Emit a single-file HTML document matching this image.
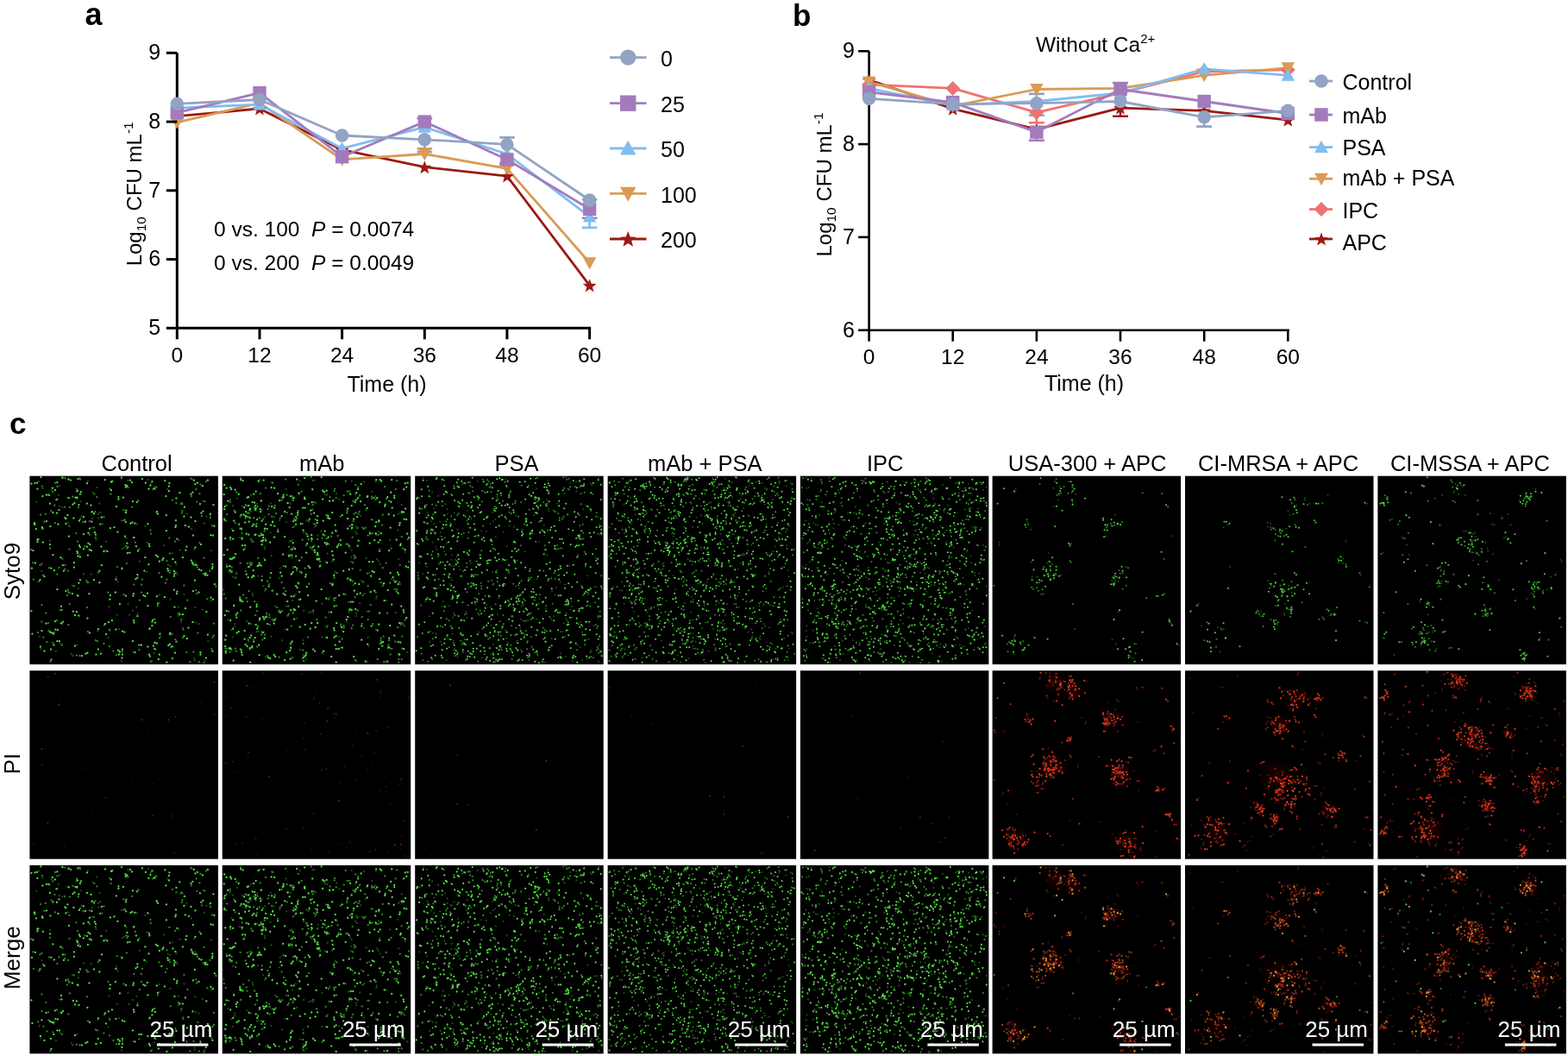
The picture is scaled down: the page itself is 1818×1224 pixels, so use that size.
<!DOCTYPE html><html><head><meta charset="utf-8"><style>html,body{margin:0;padding:0;background:#fff;width:1818px;height:1224px;overflow:hidden}svg{display:block}text{font-family:'Liberation Sans', Arial, Helvetica, sans-serif}</style></head><body>
<svg width="1818" height="1224" viewBox="0 0 1818 1224" font-family="'Liberation Sans', Arial, Helvetica, sans-serif">
<path d="M205.3 61.3V381.8M203.8 380.3H685.1" stroke="#000" stroke-width="3" fill="none"/>
<path d="M683.6 251.1V263.9M674.8 263.9H692.4" stroke="#80bdf0" stroke-width="2.6" fill="none"/>
<path d="M683.6 242.3V252.7M674.8 252.7H692.4" stroke="#a37bbd" stroke-width="2.6" fill="none"/>
<path d="M587.9 167.4V159.4M579.1 159.4H596.7" stroke="#93a3c3" stroke-width="2.6" fill="none"/>
<path d="M587.9 184.9V191.3M579.1 191.3H596.7" stroke="#a37bbd" stroke-width="2.6" fill="none"/>
<path d="M492.3 178.5V172.2M483.5 172.2H501.1" stroke="#d99b55" stroke-width="2.6" fill="none"/>
<path d="M492.3 141.1V137.1M483.5 137.1H501.1" stroke="#a37bbd" stroke-width="2.6" fill="none"/>
<path d="M492.3 161.0V176.1M483.5 176.1H501.1" stroke="#93a3c3" stroke-width="2.6" fill="none"/>
<path d="M587.9 195.3V188.9M579.1 188.9H596.7" stroke="#d99b55" stroke-width="2.6" fill="none"/>
<path d="M683.6 232.0V231.2M674.8 231.2H692.4" stroke="#93a3c3" stroke-width="2.6" fill="none"/>
<polyline points="205.3,134.7 301.0,125.9 396.6,173.7 492.3,193.7 587.9,204.1 683.6,330.9" fill="none" stroke="#9c1a14" stroke-width="2.8" stroke-linejoin="round"/>
<polyline points="205.3,141.8 301.0,119.5 396.6,184.9 492.3,178.5 587.9,195.3 683.6,304.5" fill="none" stroke="#d99b55" stroke-width="2.8" stroke-linejoin="round"/>
<polyline points="205.3,125.1 301.0,121.1 396.6,172.2 492.3,147.4 587.9,178.5 683.6,251.1" fill="none" stroke="#80bdf0" stroke-width="2.8" stroke-linejoin="round"/>
<polyline points="205.3,130.7 301.0,107.6 396.6,181.7 492.3,141.1 587.9,184.9 683.6,242.3" fill="none" stroke="#a37bbd" stroke-width="2.8" stroke-linejoin="round"/>
<polyline points="205.3,120.3 301.0,115.5 396.6,157.0 492.3,161.8 587.9,167.4 683.6,232.0" fill="none" stroke="#93a3c3" stroke-width="2.8" stroke-linejoin="round"/>
<polygon points="205.3,127.2 207.4,132.6 213.2,132.9 208.6,136.5 210.2,142.2 205.3,139.0 200.4,142.2 202.0,136.5 197.4,132.9 203.2,132.6" fill="#9c1a14"/>
<polygon points="301.0,118.4 303.0,123.9 308.9,124.1 304.3,127.8 305.8,133.4 301.0,130.2 296.1,133.4 297.6,127.8 293.1,124.1 298.9,123.9" fill="#9c1a14"/>
<polygon points="396.6,166.2 398.7,171.7 404.5,172.0 399.9,175.6 401.5,181.3 396.6,178.0 391.7,181.3 393.3,175.6 388.7,172.0 394.6,171.7" fill="#9c1a14"/>
<polygon points="492.3,186.2 494.3,191.7 500.2,191.9 495.6,195.6 497.2,201.2 492.3,198.0 487.4,201.2 489.0,195.6 484.4,191.9 490.2,191.7" fill="#9c1a14"/>
<polygon points="587.9,196.5 590.0,202.0 595.8,202.3 591.3,205.9 592.8,211.6 587.9,208.3 583.1,211.6 584.6,205.9 580.0,202.3 585.9,202.0" fill="#9c1a14"/>
<polygon points="683.6,323.3 685.7,328.8 691.5,329.1 686.9,332.7 688.5,338.4 683.6,335.1 678.7,338.4 680.3,332.7 675.7,329.1 681.5,328.8" fill="#9c1a14"/>
<path d="M205.3 149.6L213.0 135.5L197.6 135.5Z" fill="#d99b55"/>
<path d="M301.0 127.3L308.7 113.1L293.3 113.1Z" fill="#d99b55"/>
<path d="M396.6 192.7L404.3 178.5L388.9 178.5Z" fill="#d99b55"/>
<path d="M492.3 186.3L500.0 172.2L484.6 172.2Z" fill="#d99b55"/>
<path d="M587.9 203.1L595.6 188.9L580.2 188.9Z" fill="#d99b55"/>
<path d="M683.6 312.3L691.3 298.2L675.9 298.2Z" fill="#d99b55"/>
<path d="M205.3 117.3L213.0 131.5L197.6 131.5Z" fill="#80bdf0"/>
<path d="M301.0 113.3L308.7 127.5L293.3 127.5Z" fill="#80bdf0"/>
<path d="M396.6 164.4L404.3 178.5L388.9 178.5Z" fill="#80bdf0"/>
<path d="M492.3 139.6L500.0 153.8L484.6 153.8Z" fill="#80bdf0"/>
<path d="M587.9 170.7L595.6 184.9L580.2 184.9Z" fill="#80bdf0"/>
<path d="M683.6 243.3L691.3 257.5L675.9 257.5Z" fill="#80bdf0"/>
<rect x="197.6" y="123.0" width="15.4" height="15.4" fill="#a37bbd"/>
<rect x="293.3" y="99.9" width="15.4" height="15.4" fill="#a37bbd"/>
<rect x="388.9" y="174.0" width="15.4" height="15.4" fill="#a37bbd"/>
<rect x="484.6" y="133.4" width="15.4" height="15.4" fill="#a37bbd"/>
<rect x="580.2" y="177.2" width="15.4" height="15.4" fill="#a37bbd"/>
<rect x="675.9" y="234.6" width="15.4" height="15.4" fill="#a37bbd"/>
<circle cx="205.3" cy="120.3" r="7.7" fill="#93a3c3"/>
<circle cx="301.0" cy="115.5" r="7.7" fill="#93a3c3"/>
<circle cx="396.6" cy="157.0" r="7.7" fill="#93a3c3"/>
<circle cx="492.3" cy="161.8" r="7.7" fill="#93a3c3"/>
<circle cx="587.9" cy="167.4" r="7.7" fill="#93a3c3"/>
<circle cx="683.6" cy="232.0" r="7.7" fill="#93a3c3"/>
<path d="M192.8 61.3H205.3" stroke="#000" stroke-width="3"/>
<text x="186.2" y="69.2" font-size="25" text-anchor="end" font-weight="normal" fill="#000" >9</text>
<path d="M192.8 141.1H205.3" stroke="#000" stroke-width="3"/>
<text x="186.2" y="148.95000000000002" font-size="25" text-anchor="end" font-weight="normal" fill="#000" >8</text>
<path d="M192.8 220.8H205.3" stroke="#000" stroke-width="3"/>
<text x="186.2" y="228.70000000000002" font-size="25" text-anchor="end" font-weight="normal" fill="#000" >7</text>
<path d="M192.8 300.6H205.3" stroke="#000" stroke-width="3"/>
<text x="186.2" y="308.45" font-size="25" text-anchor="end" font-weight="normal" fill="#000" >6</text>
<path d="M192.8 380.3H205.3" stroke="#000" stroke-width="3"/>
<text x="186.2" y="388.2" font-size="25" text-anchor="end" font-weight="normal" fill="#000" >5</text>
<path d="M205.3 380.3V393.3" stroke="#000" stroke-width="3"/>
<text x="205.3" y="420" font-size="24.5" text-anchor="middle" font-weight="normal" fill="#000" >0</text>
<path d="M301.0 380.3V393.3" stroke="#000" stroke-width="3"/>
<text x="301.0" y="420" font-size="24.5" text-anchor="middle" font-weight="normal" fill="#000" >12</text>
<path d="M396.6 380.3V393.3" stroke="#000" stroke-width="3"/>
<text x="396.6" y="420" font-size="24.5" text-anchor="middle" font-weight="normal" fill="#000" >24</text>
<path d="M492.3 380.3V393.3" stroke="#000" stroke-width="3"/>
<text x="492.3" y="420" font-size="24.5" text-anchor="middle" font-weight="normal" fill="#000" >36</text>
<path d="M587.9 380.3V393.3" stroke="#000" stroke-width="3"/>
<text x="587.9" y="420" font-size="24.5" text-anchor="middle" font-weight="normal" fill="#000" >48</text>
<path d="M683.6 380.3V393.3" stroke="#000" stroke-width="3"/>
<text x="683.6" y="420" font-size="24.5" text-anchor="middle" font-weight="normal" fill="#000" >60</text>
<text x="448.5" y="453.5" font-size="25" text-anchor="middle" font-weight="normal" fill="#000" >Time (h)</text>
<text transform="translate(163.5 224.8) rotate(-90)" font-size="24" text-anchor="middle">Log<tspan font-size="15.5" dy="5">10</tspan><tspan dy="-5"> CFU mL</tspan><tspan font-size="15.5" dy="-10">-1</tspan></text>
<text x="248" y="274" font-size="24.5">0 vs. 100&#160; <tspan font-style="italic">P</tspan> = 0.0074</text>
<text x="248" y="313" font-size="24.5">0 vs. 200&#160; <tspan font-style="italic">P</tspan> = 0.0049</text>
<path d="M707 66.6H749.5" stroke="#93a3c3" stroke-width="2.8"/>
<circle cx="728.2" cy="66.6" r="9.2" fill="#93a3c3"/>
<text x="766" y="76.69999999999999" font-size="25" text-anchor="start" font-weight="normal" fill="#000" >0</text>
<path d="M707 119.7H749.5" stroke="#a37bbd" stroke-width="2.8"/>
<rect x="719.0" y="110.5" width="18.4" height="18.4" fill="#a37bbd"/>
<text x="766" y="129.8" font-size="25" text-anchor="start" font-weight="normal" fill="#000" >25</text>
<path d="M707 172H749.5" stroke="#80bdf0" stroke-width="2.8"/>
<path d="M728.2 162.7L737.4 179.6L719.0 179.6Z" fill="#80bdf0"/>
<text x="766" y="182.1" font-size="25" text-anchor="start" font-weight="normal" fill="#000" >50</text>
<path d="M707 224.4H749.5" stroke="#d99b55" stroke-width="2.8"/>
<path d="M728.2 233.7L737.4 216.8L719.0 216.8Z" fill="#d99b55"/>
<text x="766" y="234.5" font-size="25" text-anchor="start" font-weight="normal" fill="#000" >100</text>
<path d="M707 277H749.5" stroke="#9c1a14" stroke-width="2.8"/>
<polygon points="728.2,267.9 730.7,274.4 737.6,274.7 732.2,279.1 734.0,285.8 728.2,282.0 722.4,285.8 724.2,279.1 718.8,274.7 725.7,274.4" fill="#9c1a14"/>
<text x="766" y="287.1" font-size="25" text-anchor="start" font-weight="normal" fill="#000" >200</text>
<text x="98.5" y="29.2" font-size="36" text-anchor="start" font-weight="bold" fill="#000" >a</text>
<path d="M1007.6 59.3V384.2M1006.1 382.7H1494.8" stroke="#000" stroke-width="2.6" fill="none"/>
<path d="M1201.9 153.1V162.8M1192.9 162.8H1210.9" stroke="#a37bbd" stroke-width="2.6" fill="none"/>
<path d="M1201.9 119.7V108.9M1192.9 108.9H1210.9" stroke="#93a3c3" stroke-width="2.6" fill="none"/>
<path d="M1201.9 119.7V133.7M1192.9 133.7H1210.9" stroke="#93a3c3" stroke-width="2.6" fill="none"/>
<path d="M1201.9 130.4V142.3M1192.9 142.3H1210.9" stroke="#ee7370" stroke-width="2.6" fill="none"/>
<path d="M1299.0 125.1V134.8M1290.0 134.8H1308.0" stroke="#9c1a14" stroke-width="2.6" fill="none"/>
<path d="M1396.2 135.8V146.6M1387.2 146.6H1405.2" stroke="#93a3c3" stroke-width="2.6" fill="none"/>
<path d="M1299.0 103.5V96.0M1290.0 96.0H1308.0" stroke="#a37bbd" stroke-width="2.6" fill="none"/>
<path d="M1396.2 87.3V80.9M1387.2 80.9H1405.2" stroke="#d99b55" stroke-width="2.6" fill="none"/>
<polyline points="1007.6,92.7 1104.7,126.1 1201.9,149.9 1299.0,125.1 1396.2,128.3 1493.3,139.1" fill="none" stroke="#9c1a14" stroke-width="2.8" stroke-linejoin="round"/>
<polyline points="1007.6,98.1 1104.7,102.4 1201.9,130.4 1299.0,107.8 1396.2,83.0 1493.3,80.9" fill="none" stroke="#ee7370" stroke-width="2.8" stroke-linejoin="round"/>
<polyline points="1007.6,94.9 1104.7,122.9 1201.9,103.5 1299.0,102.4 1396.2,87.3 1493.3,78.7" fill="none" stroke="#d99b55" stroke-width="2.8" stroke-linejoin="round"/>
<polyline points="1007.6,102.4 1104.7,121.8 1201.9,117.5 1299.0,107.8 1396.2,79.8 1493.3,87.3" fill="none" stroke="#80bdf0" stroke-width="2.8" stroke-linejoin="round"/>
<polyline points="1007.6,106.7 1104.7,118.6 1201.9,153.1 1299.0,103.5 1396.2,117.5 1493.3,131.5" fill="none" stroke="#a37bbd" stroke-width="2.8" stroke-linejoin="round"/>
<polyline points="1007.6,114.3 1104.7,120.7 1201.9,119.7 1299.0,117.5 1396.2,135.8 1493.3,128.3" fill="none" stroke="#93a3c3" stroke-width="2.8" stroke-linejoin="round"/>
<polygon points="1007.6,85.2 1009.7,90.7 1015.5,90.9 1010.9,94.6 1012.5,100.2 1007.6,97.0 1002.7,100.2 1004.3,94.6 999.7,90.9 1005.5,90.7" fill="#9c1a14"/>
<polygon points="1104.7,118.6 1106.8,124.1 1112.6,124.4 1108.1,128.0 1109.6,133.7 1104.7,130.4 1099.9,133.7 1101.4,128.0 1096.8,124.4 1102.7,124.1" fill="#9c1a14"/>
<polygon points="1201.9,142.3 1203.9,147.8 1209.8,148.1 1205.2,151.7 1206.8,157.4 1201.9,154.1 1197.0,157.4 1198.6,151.7 1194.0,148.1 1199.8,147.8" fill="#9c1a14"/>
<polygon points="1299.0,117.5 1301.1,123.0 1306.9,123.3 1302.3,126.9 1303.9,132.6 1299.0,129.4 1294.1,132.6 1295.7,126.9 1291.1,123.3 1297.0,123.0" fill="#9c1a14"/>
<polygon points="1396.2,120.8 1398.2,126.3 1404.1,126.5 1399.5,130.2 1401.0,135.8 1396.2,132.6 1391.3,135.8 1392.8,130.2 1388.3,126.5 1394.1,126.3" fill="#9c1a14"/>
<polygon points="1493.3,131.6 1495.4,137.0 1501.2,137.3 1496.6,141.0 1498.2,146.6 1493.3,143.4 1488.4,146.6 1490.0,141.0 1485.4,137.3 1491.2,137.0" fill="#9c1a14"/>
<path d="M1007.6 89.6L1016.1 98.1L1007.6 106.6L999.1 98.1Z" fill="#ee7370"/>
<path d="M1104.7 94.0L1113.2 102.4L1104.7 110.9L1096.3 102.4Z" fill="#ee7370"/>
<path d="M1201.9 122.0L1210.4 130.4L1201.9 138.9L1193.4 130.4Z" fill="#ee7370"/>
<path d="M1299.0 99.3L1307.5 107.8L1299.0 116.3L1290.5 107.8Z" fill="#ee7370"/>
<path d="M1396.2 74.5L1404.6 83.0L1396.2 91.5L1387.7 83.0Z" fill="#ee7370"/>
<path d="M1493.3 72.4L1501.8 80.9L1493.3 89.3L1484.8 80.9Z" fill="#ee7370"/>
<path d="M1007.6 102.7L1015.3 88.5L999.9 88.5Z" fill="#d99b55"/>
<path d="M1104.7 130.7L1112.4 116.5L1097.0 116.5Z" fill="#d99b55"/>
<path d="M1201.9 111.3L1209.6 97.1L1194.2 97.1Z" fill="#d99b55"/>
<path d="M1299.0 110.2L1306.7 96.0L1291.3 96.0Z" fill="#d99b55"/>
<path d="M1396.2 95.1L1403.9 81.0L1388.5 81.0Z" fill="#d99b55"/>
<path d="M1493.3 86.5L1501.0 72.3L1485.6 72.3Z" fill="#d99b55"/>
<path d="M1007.6 94.6L1015.3 108.8L999.9 108.8Z" fill="#80bdf0"/>
<path d="M1104.7 114.0L1112.4 128.2L1097.0 128.2Z" fill="#80bdf0"/>
<path d="M1201.9 109.7L1209.6 123.9L1194.2 123.9Z" fill="#80bdf0"/>
<path d="M1299.0 100.0L1306.7 114.2L1291.3 114.2Z" fill="#80bdf0"/>
<path d="M1396.2 72.0L1403.9 86.2L1388.5 86.2Z" fill="#80bdf0"/>
<path d="M1493.3 79.5L1501.0 93.7L1485.6 93.7Z" fill="#80bdf0"/>
<rect x="999.9" y="99.0" width="15.4" height="15.4" fill="#a37bbd"/>
<rect x="1097.0" y="110.9" width="15.4" height="15.4" fill="#a37bbd"/>
<rect x="1194.2" y="145.4" width="15.4" height="15.4" fill="#a37bbd"/>
<rect x="1291.3" y="95.8" width="15.4" height="15.4" fill="#a37bbd"/>
<rect x="1388.5" y="109.8" width="15.4" height="15.4" fill="#a37bbd"/>
<rect x="1485.6" y="123.8" width="15.4" height="15.4" fill="#a37bbd"/>
<circle cx="1007.6" cy="114.3" r="7.7" fill="#93a3c3"/>
<circle cx="1104.7" cy="120.7" r="7.7" fill="#93a3c3"/>
<circle cx="1201.9" cy="119.7" r="7.7" fill="#93a3c3"/>
<circle cx="1299.0" cy="117.5" r="7.7" fill="#93a3c3"/>
<circle cx="1396.2" cy="135.8" r="7.7" fill="#93a3c3"/>
<circle cx="1493.3" cy="128.3" r="7.7" fill="#93a3c3"/>
<path d="M995.1 59.3H1007.6" stroke="#000" stroke-width="2.6"/>
<text x="991" y="67.2" font-size="25" text-anchor="end" font-weight="normal" fill="#000" >9</text>
<path d="M995.1 167.1H1007.6" stroke="#000" stroke-width="2.6"/>
<text x="991" y="175.0" font-size="25" text-anchor="end" font-weight="normal" fill="#000" >8</text>
<path d="M995.1 274.9H1007.6" stroke="#000" stroke-width="2.6"/>
<text x="991" y="282.79999999999995" font-size="25" text-anchor="end" font-weight="normal" fill="#000" >7</text>
<path d="M995.1 382.7H1007.6" stroke="#000" stroke-width="2.6"/>
<text x="991" y="390.59999999999997" font-size="25" text-anchor="end" font-weight="normal" fill="#000" >6</text>
<path d="M1007.6 382.7V395.7" stroke="#000" stroke-width="2.6"/>
<text x="1007.6" y="422" font-size="24.5" text-anchor="middle" font-weight="normal" fill="#000" >0</text>
<path d="M1104.7 382.7V395.7" stroke="#000" stroke-width="2.6"/>
<text x="1104.7" y="422" font-size="24.5" text-anchor="middle" font-weight="normal" fill="#000" >12</text>
<path d="M1201.9 382.7V395.7" stroke="#000" stroke-width="2.6"/>
<text x="1201.9" y="422" font-size="24.5" text-anchor="middle" font-weight="normal" fill="#000" >24</text>
<path d="M1299.0 382.7V395.7" stroke="#000" stroke-width="2.6"/>
<text x="1299.0" y="422" font-size="24.5" text-anchor="middle" font-weight="normal" fill="#000" >36</text>
<path d="M1396.2 382.7V395.7" stroke="#000" stroke-width="2.6"/>
<text x="1396.2" y="422" font-size="24.5" text-anchor="middle" font-weight="normal" fill="#000" >48</text>
<path d="M1493.3 382.7V395.7" stroke="#000" stroke-width="2.6"/>
<text x="1493.3" y="422" font-size="24.5" text-anchor="middle" font-weight="normal" fill="#000" >60</text>
<text x="1257" y="453" font-size="25" text-anchor="middle" font-weight="normal" fill="#000" >Time (h)</text>
<text transform="translate(964 214) rotate(-90)" font-size="24" text-anchor="middle">Log<tspan font-size="15.5" dy="5">10</tspan><tspan dy="-5"> CFU mL</tspan><tspan font-size="15.5" dy="-10">-1</tspan></text>
<text x="1201" y="60" font-size="24.5">Without Ca<tspan font-size="15" dy="-10">2+</tspan></text>
<path d="M1518 94H1545" stroke="#93a3c3" stroke-width="2.8"/>
<circle cx="1532.0" cy="94.0" r="7.8" fill="#93a3c3"/>
<text x="1556.5" y="104.2" font-size="25" text-anchor="start" font-weight="normal" fill="#000" >Control</text>
<path d="M1518 133H1545" stroke="#a37bbd" stroke-width="2.8"/>
<rect x="1524.2" y="125.2" width="15.5" height="15.5" fill="#a37bbd"/>
<text x="1556.5" y="143.3" font-size="25" text-anchor="start" font-weight="normal" fill="#000" >mAb</text>
<path d="M1518 170.6H1545" stroke="#80bdf0" stroke-width="2.8"/>
<path d="M1532.0 162.8L1539.8 177.0L1524.2 177.0Z" fill="#80bdf0"/>
<text x="1556.5" y="180.3" font-size="25" text-anchor="start" font-weight="normal" fill="#000" >PSA</text>
<path d="M1518 207.2H1545" stroke="#d99b55" stroke-width="2.8"/>
<path d="M1532.0 215.0L1539.8 200.8L1524.2 200.8Z" fill="#d99b55"/>
<text x="1556.5" y="215.1" font-size="25" text-anchor="start" font-weight="normal" fill="#000" >mAb + PSA</text>
<path d="M1518 242.6H1545" stroke="#ee7370" stroke-width="2.8"/>
<path d="M1532.0 234.1L1540.5 242.6L1532.0 251.1L1523.5 242.6Z" fill="#ee7370"/>
<text x="1556.5" y="253.2" font-size="25" text-anchor="start" font-weight="normal" fill="#000" >IPC</text>
<path d="M1518 277H1545" stroke="#9c1a14" stroke-width="2.8"/>
<polygon points="1532.0,269.4 1534.1,275.0 1540.0,275.2 1535.3,278.9 1536.9,284.6 1532.0,281.3 1527.1,284.6 1528.7,278.9 1524.0,275.2 1529.9,275.0" fill="#9c1a14"/>
<text x="1556.5" y="289.7" font-size="25" text-anchor="start" font-weight="normal" fill="#000" >APC</text>
<text x="919" y="29.5" font-size="35" text-anchor="start" font-weight="bold" fill="#000" >b</text>
<defs><radialGradient id="haze"><stop offset="0" stop-color="#6a0a04" stop-opacity="0.3"/><stop offset="1" stop-color="#6a0a04" stop-opacity="0"/></radialGradient><clipPath id="pc"><rect x="0" y="0" width="218.5" height="218.4"/></clipPath><g id="g0" stroke="currentColor" stroke-linecap="round" fill="none"><path d="M71 34h0m-54 82.5h0m77.5-100h0m-45 120h0m76-49.5h0m13.5-5.5h0m-14 33h0m33.5-51h0m-131.5 28h0m116 75.5h0m46.5-98h0m-45-54.5h0m-82 70h0m-56 16.5h0m20-87h0m162.5 5h0m-69.5 172.5h0m-85.5-152h0m17.5 66.5h0m29.5 17.5h0m89 68.5h0m-84-104.5h0m52-72.5h0m-125-13.5h0m10.5 78h0m166 54h0m-10-97.5h0m26.5 79h0m-87.5-107.5h0m-61 73h0m1 2h0m109 33.5h0m0.5-2.5h0m9.5 47h0m-64.5-82.5h0m-105.5-16.5h0m143 145.5h0m-106.5-161.5h0m98 128h0m1.5 23.5h0m27.5-124h0m34 84.5h0m7.5-14.5h0m-93-113.5h0m90.5 111.5h0m-31-94h0m-114.5 6h0m-9 36.5h0m143-10h0m-71.5 116.5h0m2.5 0h0m69.5-86.5h0m-82.5-104.5h0m-78 98.5h0m82.5-32h0m0 98.5h0m-0.5-2.5h0m1.5-112.5h0m45.5 55.5h0m-2.5 87h0m-32-87.5h0m17.5-11h0m-46 105h0m-2-2h0m19.5 2.5h0m-91-177h0m-11.5 25h0m126 117.5h0m-108.5-14.5h0m-5 36h0m4-97h0m38.5-51h0m82.5-38h0m-62.5 1.5h0m-70.5 51.5h0m145 1h0m0.5-2h0m-112.5-24h0m-40 169.5h0m157-183.5h0m-99.5 101h0m-21.5-95.5h0m14 140h0m-61.5-109.5h0m172 39h0m3.5-8.5h0m-31.5 126.5h0m31-59h0m-151-137h0m153 172h0m-82-153h0m-40 173h0m58.5-154.5h0m-2 1h0m-49 23h0m15.5 25.5h0m-25-82.5h0m1-2.5h0m132.5 64.5h0m21-49.5h0m-73-22.5h0m-30 170h0m-2.5-1h0m41-32h0m-124.5 33h0m112.5-45h0m-30-134h0m-51 15.5h0m103 28h0m53 62h0m0.5-2h0m-107.5 43h0m29.5-9h0m-2-1h0m-99-82.5h0m-18.5 3.5h0m13.5 136.5h0m184 7h0m-112-25h0m-2-118.5h0m-68 118.5h0m2.5 0.5h0m-30-71.5h0m64-75h0m3 150h0m93.5 0h0m-96.5-100h0m27-21.5h0m18-18h0m0.5-2.5h0m25 158h0m-61.5-132.5h0m1 2.5h0m137.5-10h0m-17.5 50.5h0m-165-65.5h0m25.5 81h0m-42-63h0m13.5 48.5h0m158.5-61.5h0m-132 39.5h0m151.5 96.5h0m-200.5-175.5h0m2.5-0.5h0m-4.5 78.5h0m175 99h0m-124-160.5h0m101.5 115.5h0m-56.5-20.5h0m69.5-68.5h0m-114 87h0m75-135h0m59 99h0m-123-94h0m80 83.5h0m2 1.5h0m-3.5 107h0m-136-126.5h0m0 2.5h0m139.5-32.5h0m12 66h0m-0.5-2.5h0m50-39h0m2.5 0.5h0m-161.5-20h0m14 157h0m2-1h0m-25-155.5h0m41.5-1.5h0m75.5 168h0m-86.5-174.5h0m89.5-33h0m-79 73.5h0m-6 125h0m122-164h0m2-2h0m-6.5-33h0m-2.5 1.5h0m-183 5.5h0m48 147h0m12.5-101h0m137-56h0m-103 202h0m-21.5-151h0m25.5 145h0m66.5-40.5h0m-6.5-28.5h0m-97.5-52.5h0m-50.5-57.5h0m2.5 0h0m132 75.5h0m1-2h0m7.5 88h0m-135-1h0m96-101h0m-81.5-26h0m-7.5 136h0m37-105h0m-2-1h0m42-32h0m89-42h0m-173.5 31h0m160.5 55.5h0m1 2.5h0m-20 104.5h0m-123.5-201h0m2.5 1h0m100 36.5h0m-132.5-18h0m105 115.5h0m0.5-2.5h0m-84 14.5h0m26-83.5h0m130 35.5h0m-111.5 7h0m-56-3h0m184.5-63h0m-5 167h0m-192-13h0m183.5-63h0m-107.5 48.5h0m-47.5-135h0m13.5 109h0m-42.5-37h0m55.5-28.5h0m25.5 51h0m2.5-136.5h0m73.5 93.5h0m-66-75.5h0m0 2.5h0m8-16.5h0m2 1h0m-1.5 1.5h0m-29 193h0m25 1h0m-70.5-36h0m1.5-2h0m-23-92h0m95-7h0m37 124h0m22.5-168h0m-31.5 53h0m-113.5 134h0m189.5-87.5h0m-48.5-29h0m-4.5-84.5h0m-105.5 127h0m-54-130h0m132 85.5h0m8-88h0m47 163h0m-133-166h0m-3.5 193.5h0m63.5-108h0m-74 44.5h0m26-67.5h0m-65 117h0m7-109.5h0m141 109.5h0m-92.5-62.5h0m81 88.5h0m-1-2h0m52-202h0m-138 156.5h0m19.5-108.5h0m65 97.5h0m75-48h0m-14.5-70h0m-173 168.5h0m7.5-193.5h0m129.5 10h0m-82 160h0m118.5 27h0m0 2.5h0m-152.5-181.5h0m138.5 150.5h0m-138.5-106h0m-39.5-13.5h0m-0.5-2h0m129-46.5h0m-39 159.5h0m57.5-50.5h0m34-96h0m-149-19h0m127.5 209.5h0m-58.5-104.5h0m-67.5 3h0m141-52.5h0m-118-10h0m46-22.5h0m-89.5 146h0m151.5-34.5h0m0.5-2.5h0m-81-46.5h0m-38.5 13h0m73-70h0m67.5 22h0m-34-29h0m-70.5 148h0m-55.5-40h0m129 65h0m1.5-1.5h0m-37.5-32.5h0m-74.5-5.5h0m117.5-5h0m-20.5-12.5h0m-78.5-3h0m22.5 33h0m45.5-114h0m-37.5 79.5h0m42.5 34h0m-35 42h0m96.5-98h0m-78.5 5h0m-2 1.5h0m-11.5 19.5h0m2-49.5h0m-26-85h0m-30 47.5h0m146 63h0m-174 53.5h0m108.5-66h0m1 75h0m-37-112.5h0m-76 117h0m158.5-123h0m-128.5 34h0m2.5 1h0m-56.5 62.5h0m91.5-18h0m-14 62.5h0m-65.5-21.5h0m9.5-147.5h0m121.5 161.5h0m46.5-72.5h0m-139.5-89.5h0m-2 1.5h0m132 49h0" stroke-opacity="1"/><path d="M15.5 115h0m77.5-100h0m84 25.5h0m-162.5-28.5h0m19.5 94.5h0m111 59.5h0m-15.5-40h0m52.5 78.5h0m-41.5 10.5h0m-136.5-114.5h0m25.5-46h0m49 137h0m-2-1h0m-18.5-188h0m92 110h0m-3-99.5h0m22 176.5h0m-122.5-153h0m9 39.5h0m46 29.5h0m103 7.5h0m7.5 74h0m1.5-2h0m-11.5 31.5h0m-7-34.5h0m-166-148h0m173 61h0m-5-17.5h0m-156-75h0m0 101h0m149 100.5h0m-173-151h0m59-11.5h0m137.5 129.5h0m-121 26.5h0m-78.5-48h0m2 37.5h0m39-161h0m-42.5 19h0m96.5-5.5h0m50 80.5h0m-55.5 82.5h0m-47-166h0m5.5 17h0m-4 155h0m-13.5-98.5h0m7 17.5h0m142 9h0m-17.5-105h0m3 95.5h0m-30.5 23.5h0m-126.5 29h0m140.5-67.5h0m-19.5-96.5h0m-76 108h0m45.5-22h0m-85.5 92h0m184 7h0m-179-86.5h0m162.5-8h0m-127 74.5h0m-3.5-99h0m152 46.5h0m-192.5 53h0m135.5-82.5h0m-19-35.5h0m63-33.5h0m8.5 28h0m-145.5 64h0m130.5 94h0m-121.5-194.5h0m87.5 69h0m-48.5-7.5h0m-2-1h0m82 22h0m-192.5-18h0m176 102h0m-37-120.5h0m-113.5-48.5h0m100 66.5h0m-26.5 122.5h0m91-104h0m-137 104.5h0m92.5-166h0m-61 5.5h0m-54-35h0m54 182h0m-48-192.5h0m171.5 46.5h0m-31.5 129.5h0m-166-74.5h0m164 63h0m-101.5-106.5h0m89.5 138.5h0m40.5-192h0m-97 197h0m-89-159.5h0m36-28.5h0m66 56h0m-29.5 63.5h0m74 48.5h0m-54.5-132.5h0m87.5-41h0m-173 30.5h0m102 161h0m2.5-66.5h0m-84.5 37.5h0m47.5 5.5h0m-88-58h0m192.5-99.5h0m-117.5 91.5h0m-57-5.5h0m13.5 64h0m77-86.5h0m-102.5 38.5h0m-1 59h0m121-61.5h0m-21.5-68.5h0m-15-30.5h0m-75 138h0m95-145.5h0m72 202h0m-9.5-172.5h0m-139 153h0m139.5-163.5h0m22.5 14h0m-159-10.5h0m80.5 90h0m-97 89h0m62.5-42h0m41-29h0m66.5-114h0m-116-5.5h0m-32.5 111h0m13-131.5h0m64 73h0m-25.5 126h0m-83-34h0m30.5-37h0m95 44.5h0m-70-108.5h0m-19.5-44h0m119.5 88h0m-7.5-40h0m-92.5-19.5h0m81 135.5h0m7-64h0m-128-116h0m163.5 7.5h0m-170 7h0m186 87.5h0m-21.5-86.5h0m-146.5 84.5h0m-19.5 62.5h0m66.5-84h0m-68 106h0m26-134.5h0m117.5 105.5h0m-87-92h0m106.5 72.5h0m-145-48h0m88-67.5h0m-59.5 124h0m5.5-110.5h0m-48.5 42h0m149 75h0m-129-20.5h0m2.5-53.5h0m63 52.5h0m9.5-101.5h0m-72 112.5h0m119-120.5h0m-107 22h0m143 63.5h0m-170 54h0m22.5-101h0m116-35h0m36 111h0m-37.5-66.5h0m24.5 56.5h0m-179-30.5h0m173-99h0" stroke-opacity="0.6"/><path d="M14 110.5h0m79 69h0m-81.5 6.5h0m21-159h0m-17.5-12.5h0m133 79h0m-20.5 5.5h0m45 53h0m-27-139.5h0m42 49h0m-41.5-46h0m-118 168.5h0m-4.5-109h0m49-25.5h0m130.5 164.5h0m-123-165h0m83 55.5h0m-2.5-1.5h0m12.5-28.5h0m37.5 12h0m-35.5-53.5h0m35.5 111.5h0m-153-53h0m56.5-86h0m10.5 50h0m-90 100h0m14 51h0m58 8h0m-10.5-209h0m39.5 106h0m-11.5 40.5h0m-65-122.5h0m29.5 46.5h0m-78-69.5h0m152.5 136.5h0m27.5-58h0m-182.5-55h0m154.5 79.5h0m-12 37.5h0m54.5-100h0m-13 105.5h0m8.5 2.5h0m2-100h0m4.5 136.5h0m-87.5-35.5h0m81.5-127h0m-163.5 7.5h0m35.5-17h0m92 70h0m-51 58.5h0m-13.5-30.5h0m-75-101h0m42-10.5h0m77 199.5h0m-110-194h0m174.5 34.5h0m-31.5 130h0m-2-7h0m-103.5-109h0m62-2h0m32.5 140h0m-82-142.5h0m88 106.5h0m-118.5-144h0m137.5 196h0m-0.5-2.5h0m-146.5-157h0m97.5 160h0m-38.5-37h0m-22.5-145.5h0m-24.5 98.5h0m12-7h0m22.5 64h0m-11.5-143.5h0m2.5-1.5h0m-36.5-39.5h0m146 97.5h0m-129 13h0m-49.5 87h0m93.5-148.5h0m63.5 50.5h0m-134.5 92h0m76.5-122.5h0m33.5 120.5h0m-9.5-115h0m4.5-69h0m-91 118.5h0m-19 76h0m3-181h0m21.5 174h0m65 8h0m72.5-34h0m-91-9h0m69.5-47h0m17.5-110h0m-37 182h0m-104.5-50.5h0m-2-1.5h0m105.5 4h0m9.5-122.5h0m-81 164h0m-35.5-154.5h0m135.5 112.5h0m-23.5-57h0m-95.5-33.5h0m49.5 36h0m-2 1.5h0m-30.5-10.5h0m-42.5-39h0m37 79h0m53.5 46h0m21.5 41.5h0m-68.5-188h0m14 138h0m82-65.5h0m-124 122.5h0m-21.5-27.5h0m109-176.5h0m58.5 167h0m-14-127.5h0m-66.5 117h0m-8.5-52.5h0m-5 14h0" stroke-opacity="0.35"/></g><g id="r0" stroke="currentColor" stroke-linecap="round" fill="none"><path d="M14 90.5h0m116-33.5h0m84-43.5h0m-193 163h0m140-119.5h0m-131-53.5h0m3.5 36h0" stroke-opacity="0.6"/><path d="M88.5 147.5h0m-84 53h0m161-32h0m2 43h0m-25-43.5h0m71.5-117.5h0m-193-43h0m-6.5 102h0m154.5-56h0" stroke-opacity="0.4"/><path d="M72 162.5h0m64-89h0m21-1h0m-122-40.5h0m82.5 96h0m25.5 3h0m-81.5-17h0m-21 89.5h0m159-167h0" stroke-opacity="0.25"/></g><g id="g1" stroke="currentColor" stroke-linecap="round" fill="none"><path d="M3.5 197.5h0m145-176.5h0m63.5-12.5h0m-102 43h0m-70 97.5h0m0 2.5h0m-0.5-93h0m-28.5 52.5h0m110-31.5h0m-36.5 5h0m-52 131.5h0m99.5-15.5h0m1-118h0m1.5-2h0m34 114.5h0m-85.5-40.5h0m-12-18h0m2 1.5h0m40.5-34h0m80 84h0m-163-153.5h0m81 62.5h0m-31 16.5h0m-65.5-71.5h0m45.5 29h0m111.5 63.5h0m-161-38h0m1.5-1.5h0m126 80.5h0m-122-11.5h0m11.5-117h0m-14.5 103h0m175.5-117h0m-0.5 2h0m-128 23h0m50 31.5h0m-9 17h0m-1.5-2h0m100.5 18.5h0m-131.5-7h0m54-45h0m-109 23.5h0m33 87h0m152-135.5h0m-108.5 97h0m106 6h0m-162 48.5h0m177.5-112h0m-129 54h0m-57 40h0m103.5-64h0m-117-42.5h0m-3.5 36.5h0m131.5-79.5h0m51-5.5h0m-75 2.5h0m-36 17h0m-35.5-15h0m6 134h0m-31.5-37h0m-15.5 77.5h0m97-153.5h0m-12-30h0m92.5 152h0m-117-151.5h0m-52 156.5h0m47.5 30.5h0m1.5 2h0m132-123h0m-78.5-85h0m-59.5 75.5h0m41.5 130.5h0m0.5-2.5h0m43.5-68h0m65.5 56h0m-2.5-0.5h0m-76-67h0m-52-94h0m-38 37h0m170.5-27h0m-113-16.5h0m50 138.5h0m-66 35.5h0m-16-62h0m26.5 38h0m105.5-145h0m-180 60.5h0m137.5 42.5h0m-136 49h0m2-1.5h0m41.5-166.5h0m119 11.5h0m-42.5 49h0m-9.5 13h0m-55 126h0m31.5-183h0m46 125h0m-77.5-114h0m40 54.5h0m-2.5 0.5h0m46.5 40.5h0m-78.5-100.5h0m136.5 30.5h0m-40 32.5h0m-145.5-74.5h0m81.5 21.5h0m72-16h0m-66-13.5h0m1.5 1.5h0m18 173.5h0m3-146.5h0m-10.5-17h0m29-13h0m56 35h0m-2.5-0.5h0m-50-40.5h0m-22 189.5h0m54-0.5h0m-74-134.5h0m-116 97.5h0m116-84h0m2.5 0.5h0m-98 2.5h0m47.5-58.5h0m0 2.5h0m101.5 91.5h0m-136.5-0.5h0m81.5 87.5h0m-95.5-158h0m174.5-40.5h0m-66.5 146.5h0m-115-135h0m45.5 151h0m-38.5 35h0m123.5-141h0m-103 135h0m81.5-146.5h0m-119.5 135.5h0m26.5-14h0m49-57h0m-27.5 57.5h0m31-5.5h0m-3.5-26.5h0m101.5-87.5h0m-86-25.5h0m60-7h0m-53 20.5h0m18.5-23h0m83.5 97.5h0m-1-2.5h0m-165.5 75.5h0m61-117.5h0m114 35h0m2.5 1h0m-98.5-54h0m-76.5-1.5h0m155-31.5h0m-186.5 77h0m66.5 49.5h0m-44.5-92.5h0m-17.5-1h0m115.5 45h0m-105-91.5h0m-2.5-1h0m5 49.5h0m184-12h0m-60 14.5h0m-54.5 152.5h0m48-42.5h0m60-41h0m-160.5 40.5h0m-41-127.5h0m0 12.5h0m68 40h0m-13.5-77.5h0m-20.5 7.5h0m121.5 54h0m-73.5 80.5h0m88.5 18.5h0m-45.5-131.5h0m-104 103h0m22-77h0m12-33h0m148 135h0m-126-15h0m88.5-131h0m-83.5 81h0m15 33h0m-87-75h0m18-39h0m7.5 14.5h0m15.5 171.5h0m78-147h0m-88.5 144h0m133.5-133h0m-143 110.5h0m-1.5 2.5h0m155-62.5h0m-9.5-66.5h0m-95.5 19h0m-52 40h0m91.5-17h0m-74-26h0m-2 1h0m-22.5-3.5h0m-7 89h0m1.5-2h0m28.5-79.5h0m161.5 71.5h0m-36.5-73h0m-9.5 96h0m30 41h0m-82.5-70h0m-30.5 57.5h0m52.5-145.5h0m-39 55h0m-35.5 0.5h0m74.5 83.5h0m23.5-41.5h0m27 46h0m-92-66h0m-46.5-65h0m-2 35h0m-8.5-66.5h0m120 171.5h0m-75-116.5h0m110 31.5h0m-52.5 76h0m-41-137.5h0m-19.5 141.5h0m120-31h0m-121-68.5h0m6 89h0m1.5-2h0m23-119h0m28.5 97.5h0m-51.5-85.5h0m117 32.5h0m-122.5 60.5h0m-66-164.5h0m16 23h0m53.5 175.5h0m6.5-156h0m-46.5-18.5h0m-7 1.5h0m94.5 119h0m-68.5-25h0m110.5-109.5h0m-142.5 165.5h0m130.5-141.5h0m-143.5 166.5h0m147.5-184.5h0m-152 75h0m19-63h0m76 129h0m107 30h0m-62-80h0m-111-89.5h0m-1 161h0m90 17.5h0m-9.5-141.5h0m30 13h0m63.5-65.5h0m-63 139.5h0m31-150.5h0m-90 147h0m-52.5-42h0m-31-95.5h0m173.5 39.5h0m-158 87.5h0m0 2.5h0m73-106.5h0m2.5 0h0m120.5 34.5h0m-71-22h0m54-26.5h0m0 2.5h0m-93 17.5h0m1.5 132.5h0m-75-72.5h0m62.5-100.5h0m-70.5 83h0m-22.5-75h0m79.5 101h0m-32.5-50.5h0m2.5 0.5h0m58 30h0m1.5-9.5h0m-13-3.5h0m-52.5-26.5h0m104.5 8h0m-112-25.5h0m161 150.5h0m-15 8h0m-141-28h0m-16.5 30.5h0m2 2h0m58-68h0m-1.5-2h0m-79.5-42h0m36-79.5h0m143.5 191h0m-176-125.5h0m38-3h0m6.5 59.5h0m6 43h0m153.5-158h0m-31 106.5h0m-180.5-98h0m210.5 16.5h0m-29.5 36.5h0m24 4.5h0m-109.5 10h0m49.5 19.5h0m-103-70h0m-13.5 67h0m0-37.5h0m-2.5-1h0m96.5-17.5h0m86 108.5h0m-0.5-2.5h0m-114 17h0m-63.5-20.5h0m138-52.5h0m-85-52h0m121 33h0m-45 109.5h0m-18.5-101h0m-108.5 110h0m-2.5 0.5h0m78.5-29h0m-88.5-109.5h0m83 21.5h0m-55.5 15h0m-0.5 90.5h0m-6.5-84.5h0m2.5 0.5h0m22.5 54h0m37-142.5h0m45.5 19h0m-130.5 21.5h0m137.5-30h0m-2 2h0m-151.5 44.5h0m118 115h0m50-120.5h0m-14.5 14h0m-70.5 26h0m-58.5 7h0m112.5 66.5h0m-80-143.5h0m-57.5-1.5h0m16-14.5h0m72 34.5h0m-68.5 149h0m107.5-17.5h0m2-1.5h0m-4.5-119.5h0m49 67h0m-133.5-32h0m42.5-8h0m2.5 31h0m78 91h0m-62.5-146.5h0m42-30.5h0m38.5 28.5h0m-97.5-62.5h0m-36 52h0m59.5-1.5h0m-75.5 63h0m2-1.5h0m51-73.5h0m0 2.5h0m-8.5-21.5h0m-9 1.5h0m-31-7h0m-33.5 87h0m135 5h0m-8.5 106h0m-4.5-89.5h0m-20-38h0m-0.5-2.5h0m106.5 78.5h0m-25.5-20h0m27-136.5h0m-100 123.5h0m91-77h0m-0.5 2.5h0m-98 146h0m-2-2h0m77-114h0m-147.5-56.5h0m119 94h0m20-14h0m2 1h0m4 67.5h0m6.5 13.5h0m-35-46.5h0m-2.5 0h0m-47 31h0m-81-32h0m68.5-47h0m64.5-67.5h0m-89.5 34h0m-17 7h0m9-14.5h0m26.5-31.5h0m-15.5 86.5h0m-20 51.5h0m90-83.5h0m-15-34h0m0 2.5h0m-26 68.5h0m0.5-2.5h0m-86.5-99h0m167.5 51h0m-57.5 75.5h0m39.5-6h0m-119.5 41h0m142.5-172.5h0m1.5 1.5h0m-181 184h0m65.5-143.5h0m-59.5 121h0m149-42h0m47 81.5h0m-133-136.5h0m122.5-10.5h0m-168.5 20.5h0m77-8h0m88.5 60h0m-39.5-82.5h0m28.5 27h0m-87 133.5h0m-55-38h0m9.5-6.5h0m1.5-2h0m152-90h0m-9-29.5h0m-170 163h0m182-0.5h0m-75.5-30.5h0m0.5 2.5h0m-122 21h0m2 0.5h0m-8-109h0m180.5 67.5h0m-124-106h0m-10.5-48h0m18.5 23.5h0m-57.5 171h0m37-78.5h0m122-83.5h0m-141 9h0m-2-1.5h0m99.5-16h0m-119.5 127.5h0m93-28h0m-13-77h0m-2.5 1h0m17.5-20h0m104 103.5h0m-76-44h0m-77.5-17h0m85 63.5h0m-129-109.5h0m188.5 83.5h0m-160-54.5h0m1.5-2h0m160.5-19h0m-165 11.5h0m23.5 163h0m-11-170h0m101 77.5h0" stroke-opacity="1"/><path d="M187.5 215.5h0m-28-193h0m12.5 127h0m-65.5-119h0m53.5 78.5h0m31.5 50h0m-68-80h0m11 121.5h0m16.5-129.5h0m-100.5 60h0m-18.5 70h0m21-162.5h0m140.5 152h0m-165.5-156h0m85.5 64.5h0m-34.5-23.5h0m-73.5-31h0m8.5-4.5h0m172 5h0m-45 131h0m-45-69h0m-8-97h0m-61 39h0m149-23.5h0m-12.5 97.5h0m-52-31h0m74-35h0m-105.5 117h0m119-53h0m-78-48.5h0m-75.5 111.5h0m-32-33h0m113-81h0m3.5 48h0m-75.5 43h0m116.5-95.5h0m-93.5 16.5h0m27.5-48.5h0m85.5-7h0m-132-18.5h0m-43.5 46.5h0m135 122h0m-61-156h0m74 118h0m-141.5 17.5h0m94.5 49h0m66-153.5h0m-82 1h0m0 21h0m45-55.5h0m2.5 0h0m-138.5 53.5h0m53 94h0m88-104.5h0m19 8h0m-110.5-15h0m30 71h0m-86.5 12h0m119 38h0m57-147.5h0m-29.5 126.5h0m-73.5-111.5h0m-12.5 1h0m90.5 0.5h0m2-1.5h0m2 113.5h0m47.5 56.5h0m-67.5-165.5h0m59 37h0m-38.5-71h0m-27 2h0m-0.5 2.5h0m-88.5 157.5h0m151 21h0m-164.5-54.5h0m137.5-108h0m46.5 133.5h0m-20 32.5h0m2.5 0h0m-173.5-152.5h0m141 116.5h0m-29.5-13h0m-74.5 16h0m-35-100h0m17.5 131.5h0m14.5-25.5h0m-12-124h0m61.5-9.5h0m-8.5-12h0m112.5 159h0m-110.5-118.5h0m46 11.5h0m-140 63h0m127.5-0.5h0m-127.5 64h0m44-24.5h0m168.5-81.5h0m-8.5-29h0m0.5-27.5h0m-14 81h0m-46.5-66h0m6 82.5h0m53.5 30h0m-156-11h0m-42.5-129h0m83-12.5h0m-50-12h0m-37.5 46h0m150 161.5h0m-121-140h0m141 98h0m-153-27.5h0m9.5-101h0m-6.5 95h0m24.5-74h0m0-2.5h0m158.5 111h0m-138-16h0m120.5-55.5h0m-163 9.5h0m55.5-4.5h0m-53.5-4.5h0m8-65h0m56 37.5h0m-54.5 87.5h0m147.5-34h0m-2 63h0m-11-140h0m-48-26h0m37 147h0m-117-105h0m114-25h0m-79.5 158.5h0m115.5 7h0m7-85h0m-64.5 50h0m-116-169.5h0m10.5 98h0m2.5 0.5h0m19.5-56.5h0m-17.5 4h0m6.5 55h0m60-59.5h0m-15-3.5h0m-17 64h0m11.5-21.5h0m-32-69h0m-29.5 186.5h0m18-160.5h0m38 120h0m-1 2h0m92-49h0m-44 45h0m10-88.5h0m52 37h0m-92.5 95.5h0m47.5-179.5h0m63.5 193.5h0m-105-29h0m106.5-84h0m-21.5 90.5h0m-155-150.5h0m179 157h0m-0.5 12.5h0m-89-143.5h0m26.5 10h0m-79.5 131h0m54.5-164.5h0m-51.5 78h0m111 89h0m-125-48.5h0m145-32.5h0m2.5 0h0m-186-112.5h0m37.5 16h0m56.5 38.5h0m-73 72h0m-35-96h0m41.5-29h0m171 53h0m-41.5-47.5h0m-97 125h0m129-28h0m-92.5-17.5h0m-7.5 50.5h0m-8-75.5h0m-50-30.5h0m59 31h0m77.5 107h0m-143-152.5h0m142 159h0m-140-27h0m84.5-42.5h0m-2.5-0.5h0m-115.5-50.5h0m123.5 38.5h0m40.5-88.5h0m-152.5 77h0m60-9h0m-17.5 60.5h0m-17 37.5h0m27-56.5h0m7.5-107.5h0m35 46h0m-34 87h0m68.5-102h0m-119.5 76.5h0m55.5-84h0m-40 26.5h0m56 7h0m-12.5 28h0m33 32h0m65.5-130.5h0m-82 43h0m2 1.5h0m3 39h0m-22.5 47.5h0m11.5-18.5h0m42.5-119h0m-71.5 124h0m-42.5 15.5h0m145-79h0m-158 136.5h0m70.5-93.5h0m123-25.5h0m-157 124.5h0m111.5-147h0m2-1.5h0m-105-25.5h0m-8.5 87.5h0m-37.5 78h0m52-42h0m15-129.5h0m-77 5.5h0m36.5 61.5h0m66.5-45h0m70 84.5h0m-33-94.5h0m-95.5 143.5h0m32-160.5h0m112 5.5h0m-24.5 98.5h0m-95.5-123.5h0m8.5 55.5h0m-66.5 58.5h0m39 7.5h0m86.5 48h0m-57.5-123.5h0m119-44.5h0m-1.5 10h0m2.5 160h0m-19.5-52h0m-128.5-5.5h0m113.5 48.5h0m-146.5-104.5h0m-2-1h0m131.5-32h0m-87.5 33h0m45 104.5h0m-15 48h0m-12-186.5h0m114 172.5h0m-57.5-11.5h0m-3.5-110.5h0m-119 34.5h0m60.5-21.5h0m2.5 0h0m13.5-36h0m-57.5 20.5h0m-24.5 30h0m118.5 36h0m0.5 2.5h0m-107-71h0m44-24.5h0m-1.5 108h0m54.5 7h0m-17-162.5h0m-57 115h0m112-72.5h0m-83-22h0m76 100h0m-2-1h0m-55 73.5h0m87-126.5h0m-2.5 0h0m-138.5-12.5h0m57.5 11.5h0m6 8h0m97 117h0m-48.5-139.5h0m-7.5-9.5h0m10-32.5h0m-127.5 23h0m143 123.5h0m-161 47h0m-4-4h0m146-92.5h0m-121 82.5h0m39-162h0m23 66.5h0m-10.5 116h0m-74-53.5h0m174-103.5h0m-30 119.5h0m35.5 13h0m15-52h0m-152-61h0m-9.5 83.5h0m91.5-131h0m-123 2.5h0m29.5 39.5h0m-8.5-20h0m121.5 53h0m3-6h0m-1.5-2h0m-95.5-45.5h0" stroke-opacity="0.6"/><path d="M169 187h0m-166 13h0m155.5-175.5h0m-89 166h0m39-159h0m61.5 165.5h0m-120.5-64h0m31.5-58.5h0m73.5-9.5h0m1.5 2h0m-74.5 77.5h0m83-137.5h0m13 16.5h0m-16 98h0m-105 64.5h0m-44-69h0m-0.5 70h0m110-13.5h0m24.5-27h0m35-82h0m30.5 23.5h0m-127 49.5h0m34-116h0m-4.5 42.5h0m7-42h0m-112.5 90h0m28 4.5h0m-32.5 88h0m155-57h0m-84-116h0m89.5 105h0m44.5 34.5h0m1 2h0m-104-168h0m-96 173.5h0m31.5 1.5h0m78.5 7h0m23-49.5h0m-103-69.5h0m164-24h0m-144.5 3.5h0m-52.5 62.5h0m40 17.5h0m106-31.5h0m58 78h0m-38-156h0m40 147h0m-196-139h0m112.5 87.5h0m-36 77h0m-38-124.5h0m107.5-5.5h0m-73.5-54.5h0m65.5 208.5h0m-98.5-207h0m22 24.5h0m-38.5 0.5h0m-7 139h0m121-150h0m-35.5-3h0m-18.5 140h0m2.5-1h0m-57.5 23h0m-44-48.5h0m206.5-98.5h0m-80.5 65.5h0m-33.5 108.5h0m50-38.5h0m-94.5-121.5h0m157 78h0m-53.5-30h0m-48-90h0m-61-1h0m113.5 55.5h0m-2-1h0m-121.5 17h0m-21.5-41.5h0m70 122.5h0m-25.5-64.5h0m75.5-72h0m12.5 28.5h0m57.5 85.5h0m-35.5-39h0m-156-34h0m144.5 98h0m8.5 17h0m-44.5-77h0m-99-28h0m74 84.5h0m42.5 18h0m18.5-11.5h0m49-66h0m-173-56.5h0m48.5 52.5h0m70-6.5h0m-13 113.5h0m-42.5-134h0m102 54h0m-123.5 58.5h0m77-172h0m-135.5 168.5h0m101-26.5h0m55-36h0m-63-53h0m-71.5 130.5h0m9.5-161.5h0m101.5 129.5h0m31-151h0m-138 174h0m122-121h0m-105.5-27.5h0m65.5 58h0m-69.5 74h0m51.5-79h0m2 1.5h0m75 12.5h0m-1.5-2.5h0m-144.5 39.5h0m0.5 2.5h0m114-44.5h0m-117.5 11.5h0m42 45.5h0m-47.5-67.5h0m163 132h0m-148-99.5h0m64 42.5h0m69-107.5h0m-41.5 13.5h0m-2 46.5h0m-51.5 84.5h0m-20-27h0m116-143h0m-94.5 69h0m-19.5 56.5h0m49.5-82h0m67.5 73h0m0.5-2.5h0m-63 47.5h0m78.5-112.5h0m-120.5-59h0m61.5 12h0m-87 68h0m-20 73h0m178-126.5h0m-173-1h0m-28.5 160.5h0m119.5-60.5h0m-34.5 60.5h0m93-99h0m-132.5 107.5h0m16-54.5h0m90-94.5h0m58 143.5h0m-175.5-147.5h0m5.5 46h0m-22.5 40.5h0m146.5 71.5h0m-45-168h0m-100-12h0m-18.5 67.5h0m62 4.5h0m17-49h0m106.5 86.5h0m-176 27h0m124 2.5h0m44-89.5h0m-30.5 42h0m26 51.5h0m-103.5-124.5h0m-25.5 28.5h0m0.5 2.5h0m48 128h0m-88.5-108h0m88.5-53h0m-31 0h0m-59.5 115h0m26.5-144.5h0m134.5 135h0m-75 55.5h0m-51.5-39h0m94 13h0m-124.5 15.5h0m55-83.5h0m94.5-72h0m6-7h0m-87 46h0m124-22.5h0m-2.5 95.5h0m3.5 47.5h0m-118-41h0m61.5-81.5h0m-117.5 108.5h0m119-92.5h0m-103.5-60h0m102 79h0" stroke-opacity="0.35"/></g><g id="r1" stroke="currentColor" stroke-linecap="round" fill="none"><path d="M28.5 17.5h0m25.5 105.5h0m125.5-112.5h0m-57 33.5h0m13 107h0m-3.5-100.5h0m75 151h0m0.5-75.5h0m-7.5 76h0m-78.5-143.5h0m47 14h0" stroke-opacity="0.6"/><path d="M177.5 208h0m-81.5-116.5h0m-57 103.5h0m173.5 20h0m-106.5-49.5h0m-75.5-70.5h0m61.5-91h0m22 69.5h0m-39.5 110h0m-70-76.5h0m108.5-69.5h0m-102.5 5.5h0m205.5-11.5h0m-32-8h0m-171.5 82h0m15-51.5h0m78.5-22.5h0m-11.5 150.5h0m116.5-8h0m-187.5 25.5h0m106-150h0m60.5 85h0m-95.5-56h0m97-13h0m-143.5-62.5h0m47 57.5h0m20 54.5h0m36-28h0m-146-57.5h0m115.5 84.5h0m22-3h0m5.5 87.5h0m30.5-128.5h0m-7 139.5h0" stroke-opacity="0.4"/><path d="M33.5 19.5h0m98.5 130h0m-8.5 60.5h0m66-87.5h0m5 32h0m-120-62.5h0m133 115h0m-178-107h0m11 112.5h0m98-12h0m16.5-74h0m17.5-19h0m10.5-80.5h0m-75-3h0m63.5 50h0m-166-21.5h0m186.5 158.5h0m-67-181.5h0m-109.5 171h0m87.5 7.5h0m-57-152h0m90.5 73.5h0m31.5-14h0m-23 90h0m60.5-73.5h0m-44-33.5h0m15.5-3h0m-21-25h0m27-39h0m-168.5 105.5h0m100-134.5h0m94 189.5h0m-26.5-52.5h0m-96.5-25.5h0m-71.5 3.5h0" stroke-opacity="0.25"/></g><g id="g2" stroke="currentColor" stroke-linecap="round" fill="none"><path d="M117 199.5h0m73-43h0m0.5-2.5h0m-124.5-7h0m150-85h0m-36 131h0m0.5-113.5h0m-100-4.5h0m3 34h0m-28 75.5h0m42-45.5h0m-95-60.5h0m191.5 51h0m-125.5-74h0m-44 3.5h0m179-20.5h0m-58-4.5h0m-19.5 123h0m-36.5-143.5h0m22 129h0m-24.5 39h0m-47-79h0m107-53.5h0m57-29.5h0m-42.5 38.5h0m-5 49.5h0m56 81.5h0m-139.5-152.5h0m-24.5-29h0m-9.5 110h0m62.5-113.5h0m-45.5 17h0m134 50h0m4.5 113h0m2.5 0h0m-165.5 17.5h0m32.5 4h0m146.5-146h0m-116.5 153.5h0m2 1.5h0m-53-192.5h0m24.5 181h0m-0.5-9.5h0m-18-52h0m151.5-9.5h0m-5-120.5h0m-114 141.5h0m-44-53.5h0m10 103h0m89.5-62.5h0m-2 0.5h0m-0.5-86.5h0m58-42.5h0m-80.5 82.5h0m-68-24h0m-17 3.5h0m12 3h0m-17 53.5h0m142 25h0m-105.5 40.5h0m28.5 18.5h0m58.5-85h0m-102.5 47.5h0m7-172.5h0m80.5 9h0m-74 75h0m53.5-35.5h0m52.5 57.5h0m-121.5 79.5h0m148-120.5h0m-164 70h0m125.5-73.5h0m47.5 25h0m-7 84.5h0m21.5-170.5h0m-179 122h0m-14.5 84h0m88-15h0m61.5-91h0m0.5 2.5h0m-89 68h0m5.5-36h0m55.5 10h0m-50 36.5h0m10.5-11h0m-11.5-148.5h0m-82-2.5h0m95 101.5h0m73.5 47.5h0m-50 14.5h0m-10.5-110h0m65 65h0m-92.5 24h0m21.5-17.5h0m-1.5 2h0m-71-19.5h0m125 58h0m-128.5 5h0m94.5-141h0m-9.5 149h0m-21-5h0m-63-89.5h0m50 63h0m-24.5-81h0m1.5 2h0m138.5-56h0m-114.5 127.5h0m54.5-138h0m-43.5 165h0m1 22.5h0m2.5 0h0m17-71.5h0m3.5 16.5h0m30.5-72h0m-72-14h0m73.5-55.5h0m-64 59.5h0m-1-2h0m126.5 89h0m-163.5-24.5h0m-2 1h0m116.5 19h0m-134 52.5h0m-1-2.5h0m169.5-62.5h0m-124.5-103h0m31.5-10h0m-2.5 1.5h0m-15.5 120h0m15.5-106.5h0m83 33h0m-136.5-67.5h0m91.5 103.5h0m-108 72.5h0m16.5-153.5h0m129.5 164h0m-88-19h0m-38.5-174.5h0m70 59h0m-22.5 61.5h0m-74.5-36h0m86 114h0m-107.5-111.5h0m6-58.5h0m34-20.5h0m74.5 128.5h0m-99.5-93h0m0.5 146.5h0m-2.5 1h0m180.5-149.5h0m-104.5 50.5h0m-34 91.5h0m6-187.5h0m-5 201h0m86-140h0m-106.5-5h0m83 11h0m66 11.5h0m-68.5-73.5h0m80.5 203.5h0m-54-64h0m7.5-69.5h0m-132.5 43.5h0m68 90.5h0m-14-169.5h0m-56.5 21h0m73.5 110h0m68-91.5h0m-106.5 120.5h0m114 9.5h0m-150-163h0m-6 0h0m-11.5 15.5h0m130.5 96h0m-2 1.5h0m85.5-94h0m-149-27h0m26 54.5h0m17.5 106h0m-13-143h0m95.5 95.5h0m-130-66.5h0m-56 113h0m51-191h0m131.5 136h0m-121-18h0m-1-2h0m11 18.5h0m123.5 26h0m-95.5 12h0m8.5-105h0m46 91.5h0m-140.5-8.5h0m141.5-75h0m-151 85.5h0m198.5-57h0m-13 23.5h0m1.5-2h0m-57-99.5h0m-93.5 68h0m126.5 27.5h0m-90-83h0m72.5 53h0m-17.5-75.5h0m-100.5 106.5h0m106 39h0m-60.5-151.5h0m51 156.5h0m-17.5-29h0m-2 8.5h0m56 32.5h0m-48.5-86.5h0m-38.5 0.5h0m-34-34.5h0m89-58.5h0m-64 188.5h0m-68-181h0m130.5 16h0m47 10h0m-160 94h0m46-5.5h0m27-127.5h0m29.5 129h0m-4.5 57.5h0m-40-140.5h0m3.5 151h0m111.5-22h0m-48.5-87h0m35 65.5h0m-45-125h0m-79 181h0m21-28.5h0m-6.5-150h0m113 60.5h0m-79-69.5h0m73 104h0m-45-109h0m-39 107.5h0m79.5 22h0m-18.5-77.5h0m16-39.5h0m-7 41h0m2.5 0h0m-27.5-47.5h0m-5.5 109h0m-2.5-0.5h0m-52-124h0m131 176h0m-161-3.5h0m16.5-120.5h0m137 77.5h0m6 12h0m-55.5-89h0m0 117h0m-15.5-1h0m-19 1h0m1 2.5h0m5-138h0m57.5 38h0m-34 33.5h0m44-106h0m-104.5 166.5h0m124.5-110h0m-95 107h0m67 43h0m-131-48.5h0m78.5-103.5h0m1.5-26h0m46.5-32.5h0m-128.5 22.5h0m-31.5 180h0m30.5-41h0m-4-137h0m37.5 67.5h0m28.5 2.5h0m-1-2.5h0m-32.5 115h0m1-2.5h0m-21.5-160h0m-5 144h0m124-1.5h0m-172-117.5h0m-1-2h0m99.5-67h0m-77.5 158.5h0m66.5-147.5h0m-13 81.5h0m2-1h0m-20-61h0m-15.5 55h0m96-39.5h0m-12.5 15.5h0m-61-44h0m25 23.5h0m-48-35h0m166 191.5h0m-21-124h0m-5.5-36h0m-108.5 103.5h0m104-94h0m-181.5-28h0m91 34.5h0m61 60h0m-132-77.5h0m133 156.5h0m-123-116h0m28.5 42.5h0m75.5 6h0m-71 34h0m132-63h0m-47.5 85.5h0m-54-6.5h0m-81-135.5h0m156-29h0m-29 19.5h0m-109-15h0m84.5 162.5h0m-111-90h0m179 116h0m-159-179.5h0m189 98h0m-23-64.5h0m-144 143h0m51.5-202h0m8.5 99h0m-85 27h0m92 23.5h0m34 27.5h0m-2.5-0.5h0m-41.5 19.5h0m0.5 2.5h0m66.5-165.5h0m-44.5 116h0m-123-116h0m205 146h0m-85.5-49h0m-80-26.5h0m69 41h0m-68-120.5h0m37 144.5h0m6.5-12h0m-74.5-49h0m30-43h0m158.5 36.5h0m-126.5 54h0m-62-147.5h0m116.5 109h0m21-19h0m14.5-67.5h0m-98.5-10h0m123 48.5h0m-59-51.5h0m-107 86h0m44 38.5h0m108.5 1.5h0m-11.5-39h0m-131-90.5h0m79 24h0m-96 24.5h0m15.5 47.5h0m165 95h0m-48.5-199.5h0m-29 129h0m-2.5 0.5h0m-53-24.5h0m147 27.5h0m-110.5-14.5h0m1.5-30h0m-2-1h0m-31 9h0m23.5-77h0m33.5 77.5h0m-62.5 10.5h0m2.5-0.5h0m29.5-19.5h0m39.5 104.5h0m-38-50.5h0m116.5-123h0m-135.5 22.5h0m40 163.5h0m-25-210h0m60 198.5h0m-131.5-136h0m167 2.5h0m-156.5-23h0m35 164.5h0m17-46.5h0m55.5-120.5h0m41.5 168h0m0-148h0m-146-44h0m36 83.5h0m2.5 0h0m33.5 63.5h0m89 3h0m-101.5 37.5h0m28 7h0m42.5-93.5h0m-61-11.5h0m-13.5-68.5h0m25.5 47.5h0m2-2h0m-104.5 95.5h0m78.5-143.5h0m55.5 27h0m-112 120h0m-24.5-41.5h0m149.5 13.5h0m-146-133h0m64.5 179.5h0m-30.5-106.5h0m20.5 29.5h0m48.5-10.5h0m21 69h0m75-174.5h0m-82 62.5h0m7 65h0m14-120h0m57.5 78.5h0m-124.5-9h0m22-50.5h0m11.5 87.5h0m64-10h0m-121.5 95.5h0m-2.5-0.5h0m-19.5-76.5h0m-24 10.5h0m141 53.5h0m-124.5-185h0m180 47.5h0m-70.5 157.5h0m-128.5-97.5h0m69 10.5h0m-38-79h0m-21.5-47h0m17.5 80.5h0m160.5-18h0m-83.5 127.5h0m-21-162h0m38.5 116.5h0m75-46.5h0m-33.5 83h0m-33-119h0m-5-23h0m8.5 170h0m-4-103h0m-114.5-27.5h0m100 102h0m64.5-31h0m-61-87h0m-27.5-54.5h0m77 198.5h0m1-2h0m-179-165h0m153.5 87.5h0m-59.5 23h0m35-150.5h0m2.5 161.5h0m-103.5-108h0m40.5 12.5h0m2.5 134h0m101.5-58h0m-134-3h0m-32-105.5h0m9.5 78h0m15-58h0m130.5 82h0m17-35.5h0m-131.5-71.5h0m13 154h0m128-13h0m-68-105h0m63 55.5h0m-36 33.5h0m-138.5-90.5h0m0.5-2.5h0m80 48h0m56-98.5h0m2.5 0h0m-25-6.5h0m21 139h0m-44 1h0m9.5-107h0m-70 100.5h0m147-134.5h0m-11 158.5h0m-67.5-77h0m-69.5-24h0m108.5 78h0m-44-107.5h0m-93 57h0m51.5-56h0m-1 2h0m-23 90.5h0m88 81h0m-58-65h0m71.5-115.5h0m61.5 23h0m-49.5-21h0m-106 71h0m137 93.5h0m30 14.5h0m-142-105h0m-39.5 69h0m21.5-127h0m147 85h0m-1.5 2h0m-192.5-3h0m103.5 38.5h0m-17.5-50h0m-48.5 16h0m43-126h0m-58.5 21.5h0m174.5 61h0m-124.5 94.5h0m-67-130h0m141.5-44h0m-134.5 134h0m24.5 60.5h0m-33.5-104h0m195-36h0m8-16h0m-182.5 72h0m142.5 57.5h0m-34.5 24h0m46.5-189.5h0m-67 131.5h0m8.5-92.5h0m-75.5 63.5h0m65-54h0m-109-57h0m126.5 58h0m-87.5 83.5h0m24 37h0m99-91h0m3.5 53h0m1.5-2h0m-147-17h0m139 83h0m-2.5 1h0m44-112.5h0m-55.5-89.5h0m-59.5 191h0m108-21h0m-125.5-105h0m118.5-70h0m-9 68.5h0m-87.5-52h0m-59.5 93.5h0m65 32h0m47.5-111h0m-85 165.5h0m87.5-180h0m-105 119.5h0m83-29.5h0m2-87h0m-10.5 123.5h0m33.5-87h0m18 52.5h0m-4-34.5h0m-75.5 12.5h0m110-82h0m-43.5 55.5h0m-24 151.5h0m-120-153h0m22.5-6h0m134 93h0m2.5-24.5h0m-129-49h0m53.5 113.5h0m75.5-17h0m-120-63h0m17.5-17.5h0m-7-14.5h0m-3.5-46.5h0m-45 65h0m184-25h0m-202-44h0m74 69h0m-14-61h0m-36.5-32.5h0m147.5 113h0m-68 3h0m-7.5 83.5h0m3-167.5h0m-35.5 94h0m83.5 37.5h0m-68.5 33.5h0m104-42.5h0m-125.5-25.5h0m-13.5-2h0m20.5-20.5h0m-52 9h0m52.5 89h0m110.5-102.5h0m-48-54.5h0m-96.5 11h0m165 130h0m-106 16.5h0m-11.5-200.5h0m95 155h0m-170 10.5h0m57-116.5h0m68.5 99.5h0m-93 45h0m-2.5-48.5h0m175-16.5h0m-58 57h0m26.5-130.5h0m-48-4.5h0m-15 99h0m-43.5 44h0m95-179h0m-156 32.5h0m98.5-31.5h0m-77.5 51.5h0m-5.5 100.5h0m19.5 22h0m-10.5-92.5h0m152.5 67h0m-123.5-110.5h0m105 78.5h0m17.5-91h0m-71 51h0m-86 1.5h0m86.5-16h0m12-57h0m-126.5 175.5h0m76-90.5h0m-3.5-87h0m58.5 183.5h0m0-2.5h0m-101-202h0m-20.5 124.5h0m39-58h0m19-24h0m118.5 118.5h0m-163.5 22h0m143-158h0m-1 149.5h0" stroke-opacity="1"/><path d="M168.5 83.5h0m-74 48h0m24.5 69.5h0m-10-89h0m-1-2h0m-68.5 57.5h0m18.5-7h0m-49.5 22h0m184.5-55h0m-111.5 11.5h0m-6-44.5h0m50.5 73.5h0m63.5 3.5h0m-89.5-126.5h0m106-24h0m-94 152.5h0m-9.5-2h0m-46.5-61.5h0m79.5 88h0m-79-190h0m147 196h0m-112.5 11.5h0m71.5-96.5h0m-22.5-43h0m63 75h0m-157.5 50h0m18.5-102.5h0m59.5-87.5h0m-34.5 110h0m24.5-88.5h0m-49.5-21h0m55 137h0m-57.5-76.5h0m92.5-9h0m7.5 49.5h0m-85 11.5h0m8.5-2h0m106.5-52h0m-28 15h0m2.5-0.5h0m-115.5 78h0m33-61h0m39.5 35.5h0m-44.5 40h0m2-29.5h0m0 59h0m70-28h0m-11.5-37.5h0m55-129.5h0m-66.5 173h0m65-152h0m-43.5-2h0m-4.5 107h0m-45 61.5h0m110.5-152h0m-152.5 41h0m81.5-61h0m-88 149h0m72.5-54.5h0m0.5 82h0m-70-136h0m107-27.5h0m1.5 1.5h0m5.5 117h0m-62-109h0m16.5 31h0m-86 85h0m116 14.5h0m-57-158.5h0m24.5 25.5h0m69 45h0m-35 29.5h0m-77 6h0m54.5-9.5h0m-3 61.5h0m39-128h0m-44.5-21h0m-109.5 3h0m31.5-22h0m32 75h0m-20.5-20.5h0m95.5 84.5h0m-21 60h0m-73-21h0m136-15.5h0m-59.5-56.5h0m-1.5 2h0m-95.5-69.5h0m81 164.5h0m88-4h0m-2.5-1h0m-142-144h0m-34.5 54h0m137-39h0m-155.5 133h0m91.5-12h0m27-57h0m-20-0.5h0m103.5 32.5h0m1-2.5h0m-69-20h0m-11.5-143h0m-46-4.5h0m-1.5 2.5h0m61 56.5h0m-103.5 108.5h0m107.5-64h0m-62.5-97h0m-31.5 133.5h0m156.5 51.5h0m1 2.5h0m-132-44h0m15-34h0m19 30h0m-5.5-7h0m-21.5-70.5h0m109.5 120.5h0m-26-146h0m-4 65.5h0m-41 27.5h0m70.5-123.5h0m-37 129h0m-126 8.5h0m60-8h0m27.5 64h0m9.5-21h0m-29.5-15h0m108-30h0m-116.5 69h0m-32-81h0m-37-20h0m86.5-95h0m1-2h0m-107.5 98h0m149.5-83.5h0m-18.5 134h0m-77.5 28.5h0m133.5-188h0m-94 177.5h0m69.5-140.5h0m-94 102h0m-13 68h0m151.5-171h0m-136.5 94h0m3-6h0m95.5-83.5h0m-136.5 5.5h0m13-7h0m68 130.5h0m-39.5-146.5h0m15 149.5h0m43.5-112.5h0m-3.5-27.5h0m55.5 162.5h0m-128.5-170.5h0m27 109h0m4 65h0m1-121h0m1.5 1.5h0m32.5 97h0m-23.5-153.5h0m-68.5-24h0m-2.5 190.5h0m123.5 5.5h0m-10.5-148h0m-52.5-15h0m1-2.5h0m58 45h0m-38.5 122h0m78.5-157h0m-62 122.5h0m70.5-133.5h0m-57 172.5h0m-0.5-2.5h0m56-100h0m-48.5 84.5h0m29.5-173.5h0m-163.5 58h0m195.5 128.5h0m-111.5-21.5h0m44-142.5h0m-27 146.5h0m-38-167.5h0m-38.5 181.5h0m134-49.5h0m43-18.5h0m-100-23h0m-69 100.5h0m-34.5-137h0m47 30h0m-52-63h0m26.5 33.5h0m39 88h0m-4-97h0m18 99.5h0m12 23h0m-41-138h0m52.5 149h0m-69.5-112h0m34 72h0m118.5-83h0m-59.5-50h0m-127 183h0m-3.5-87.5h0m74.5-114.5h0m5 181.5h0m12.5-159h0m17.5 136h0m-70-21.5h0m0-2.5h0m95 5.5h0m-134.5-64.5h0m125.5-29.5h0m86.5 65.5h0m-163 75.5h0m26-133h0m99.5-55h0m-2.5 1h0m-130 157.5h0m-25.5 27h0m80.5-143h0m76-1h0m-65 118h0m-45-145h0m6.5 9.5h0m35 82h0m-93 33.5h0m39.5 42h0m-41-43.5h0m116 59.5h0m-59-46h0m129-19.5h0m-83.5-106h0m-0.5 2.5h0m61.5 114.5h0m-117-114.5h0m66.5 24.5h0m50 122.5h0m-117-73h0m60 21h0m-10.5-84.5h0m2 1.5h0m44.5 120h0m-132-26h0m118-108h0m57 139.5h0m-184 46h0m16.5-180.5h0m98.5 158.5h0m-88-146.5h0m60 115h0m71-147.5h0m37 70.5h0m-62.5 130.5h0m-5.5-213h0m-2 1h0m-108 172h0m-2.5-1h0m165.5-108h0m-98 147h0m-26-143.5h0m19.5 56.5h0m-83.5 24h0m-4 36.5h0m27.5-116.5h0m80.5 114.5h0m47-66h0m-139-27h0m93.5 120.5h0m-88.5-169.5h0m171 95.5h0m-90.5-131h0m-39.5 117h0m69.5 62.5h0m17-153.5h0m-81.5 108.5h0m-21.5-43h0m14.5-78.5h0m146.5 152.5h0m-122-163.5h0m-18.5 61h0m-37 30h0m85.5 7h0m86.5-67h0m-59.5-14h0m-46 142.5h0m69-117.5h0m0-2.5h0m-28.5 156h0m46.5-192h0m-112.5 202.5h0m16.5-135.5h0m29 65.5h0m72.5-87.5h0m-171 155h0m193-7.5h0m-99 3h0m-30-203.5h0m-80.5 107.5h0m66.5 2h0m2.5 0.5h0m27.5-92h0m14 102.5h0m-75-9.5h0m-18.5-28h0m113 20h0m-45.5-89h0m-37.5 25h0m34.5 145.5h0m2-1.5h0m-37.5 17h0m-24-67h0m146.5-136h0m20.5 19h0m-15 149h0m19-81.5h0m-97 108.5h0m-79.5-163.5h0m192 129.5h0m2.5-5.5h0m-15.5-6.5h0m-136-103.5h0m-42-2.5h0m111.5 164h0m-40.5-168.5h0m-36.5 164h0m124.5-191.5h0m-116.5-5h0m65.5 44.5h0m-93.5 39h0m105.5 59h0m-69.5-51h0m-47-65h0m126.5 158h0m43.5-136h0m-150 137.5h0m8.5-26h0m163-109.5h0m-67.5 118h0m-86.5-156.5h0m-34.5 82.5h0m54-82.5h0m10 196.5h0m-37-21h0m7-45h0m-45-133h0m45-9.5h0m-34.5 85.5h0m39.5-80h0" stroke-opacity="0.6"/><path d="M171 84h0m-74 57.5h0m-56-23.5h0m19 41h0m101 3.5h0m-35-13.5h0m-114-3.5h0m188.5 4.5h0m-158.5-46h0m1.5 79h0m-16.5-160h0m90 104.5h0m-83-40h0m77.5 96.5h0m-34 27h0m17.5-187h0m109.5 177.5h0m-111-160.5h0m-71.5-3.5h0m168.5-24.5h0m-166 169.5h0m167-13h0m-100.5 25.5h0m-18.5-189h0m-28 184.5h0m62-93.5h0m106.5-95h0m-163.5 60h0m75.5 73.5h0m25.5 80.5h0m-2.5-0.5h0m17.5-100.5h0m16.5 36h0m-87-42h0m-7.5-53.5h0m-66 9.5h0m1.5 2.5h0m41-20h0m50 29h0m28.5 103h0m51.5 34h0m-98-53h0m27 41h0m-114.5-19.5h0m150.5-48.5h0m-17.5-14.5h0m-46-20h0m-64 52h0m63.5-115h0m-68 93.5h0m-23.5-9.5h0m87.5 4.5h0m36.5-37h0m-22.5 37.5h0m-50-115.5h0m85.5 156.5h0m-46.5 33h0m-57-142.5h0m-8-3h0m21.5 51.5h0m124.5 104.5h0m-51.5-146.5h0m26.5 5.5h0m-100-34h0m52.5 30.5h0m110-17.5h0m-89 103.5h0m50.5 35h0m-149-10.5h0m17 14h0m80-13.5h0m51-155.5h0m-105.5 184h0m-47.5-186h0m22 78.5h0m35-33.5h0m79 44.5h0m-110 100.5h0m43.5-97.5h0m45.5 48h0m52-152.5h0m-13.5 119.5h0m-151.5-70.5h0m191 159.5h0m-122.5-162.5h0m8 145.5h0m63.5-60h0m-77.5-91h0m98 117h0m-127 28.5h0m-12.5-101.5h0m10.5 92.5h0m151.5-173h0m-1.5-2h0m-143 155.5h0m83.5-87.5h0m-3-62h0m59 101h0m-24.5 50h0m-171-122.5h0m47.5 65.5h0m35.5-96.5h0m-62 73.5h0m168.5 95.5h0m-7-163.5h0m-72.5 41.5h0m-5-1h0m104.5 9.5h0m-115.5 114.5h0m-53.5-77.5h0m42.5 47.5h0m-27.5-100h0m35.5 120h0m-58-133.5h0m-19.5 141.5h0m132-95h0m-33.5-39h0m-64-13.5h0m41 38h0m-58.5-38h0m25.5 7.5h0m44.5 138.5h0m26-11.5h0m-79.5 9.5h0m4-30.5h0m157 18.5h0m-200-91.5h0m94 8.5h0m-26.5-63.5h0m-59.5 164h0m17-138h0m52.5 40h0m0-42h0m15-38h0m-56.5 89.5h0m21 55h0m-64.5-48h0m160-68.5h0m-90.5 129.5h0m27-63.5h0m-58.5-27.5h0m-34 42.5h0m144-21.5h0m48 45.5h0m-78.5 29h0m-73 44h0m130.5-202h0m2.5 206.5h0m-165-150.5h0m24-43h0m150 177.5h0m-162-6.5h0m15.5-33h0m108-131h0m-139.5 77h0m175 91h0m-20.5-38h0m-125-37.5h0m95-75h0m-114 37h0m94 108.5h0m-81-4.5h0m143-31.5h0m-87-104.5h0m-49 113.5h0m100.5-21.5h0m65-47.5h0m-88 50h0m-116-119.5h0m167 145h0m-136 43h0m28-112h0m-48 61h0m-2.5-157.5h0m200 51.5h0m-155 101h0m48-144.5h0m-1 175h0m14.5-58h0m56.5-85h0m-140 32.5h0m144 68h0m14-107h0m-26 142h0m2.5 0h0m-28-32.5h0m-11.5 65.5h0m-83-141.5h0m127 95.5h0m-21-127h0m0-2.5h0m20.5 121h0m-85 2h0m-8-97h0m-68.5 1h0m135.5-8h0m-96.5 127.5h0m13.5-58h0m144 2h0m-2.5 0h0m-167.5-3.5h0m173.5 70.5h0m-106-2.5h0m-78.5-127.5h0m177.5 108h0m-38.5-50.5h0m-123.5 10h0m-33-78.5h0m27.5 96h0m160 61.5h0m-182.5-20h0m-7.5-189.5h0m64 178.5h0m51.5-119h0m89.5 141h0m-50.5-73.5h0m-114 32.5h0m101.5-8.5h0m-113 35h0m7-146h0m79.5 106.5h0m50-147.5h0m-6.5 204h0m-148-128.5h0m20-23h0m118 134.5h0m-144-146.5h0m68.5 107.5h0m-41-6.5h0m159.5 46h0m-2.5 0.5h0m-136.5-60.5h0m149.5-62h0m-72.5-41h0m-107 119.5h0m146.5-41.5h0m-160-51.5h0m176.5 20h0m-107 134h0m69.5-40.5h0m-70 7h0m66-168h0m-36 93h0m-71.5-1h0m130.5-82h0m-112 34.5h0" stroke-opacity="0.35"/></g><g id="r2" stroke="currentColor" stroke-linecap="round" fill="none"><path d="M152 104.5h0m-103 50.5h0m-8-138h0m99.5 167.5h0" stroke-opacity="0.6"/><path d="M62 155.5h0m-13-57.5h0" stroke-opacity="0.4"/><path d="M19.5 213.5h0m60-184.5h0" stroke-opacity="0.25"/></g><g id="g3" stroke="currentColor" stroke-linecap="round" fill="none"><path d="M86 209.5h0m113.5-40h0m-74.5-102h0m84-12h0m-143.5 119.5h0m63-20.5h0m-22.5-4.5h0m96-132h0m-122.5 79h0m-69.5 112.5h0m67 2.5h0m64-146.5h0m3 93h0m-95.5-152h0m33.5 4.5h0m78.5 163h0m-93-58.5h0m20.5-49.5h0m48.5-41h0m-54.5 19h0m-21.5 35h0m6.5 91h0m145-137.5h0m-78 19.5h0m-68 118.5h0m133-97h0m-92.5-20h0m-68-42h0m50 149h0m116 6h0m-192.5 7h0m72.5-140.5h0m122 128.5h0m-5.5-81h0m-101 51h0m54-73h0m-46.5 127.5h0m-25.5-144.5h0m16-2h0m45 161h0m-42-111.5h0m-99-81h0m55.5 125.5h0m120 81.5h0m-152-83h0m60-122h0m31 38h0m2.5 1h0m20-23.5h0m-18.5 91.5h0m88-79h0m4-9h0m-25 172h0m-13.5-152.5h0m4.5-21h0m-73.5 93h0m62.5 23.5h0m-127.5-10h0m106.5 33.5h0m-57-90h0m62-7h0m-140.5 135h0m20.5-190.5h0m79 111.5h0m-107.5 9h0m112-102.5h0m63 18h0m-13 114h0m2.5 0.5h0m1-49h0m-21-8h0m-16.5 82.5h0m-96-74.5h0m50.5-89h0m0 2.5h0m91.5 41.5h0m-87.5 31h0m34-65.5h0m62.5 110h0m-97 34h0m-22-129.5h0m23 21.5h0m-11 68h0m29-18.5h0m52.5 14.5h0m-101.5 47.5h0m18.5 7h0m132.5-146h0m-76.5 87.5h0m-42-113.5h0m33 17.5h0m-19 107.5h0m-64.5-29h0m-10-85h0m178 0h0m-175.5 34.5h0m178-22.5h0m-108.5 90.5h0m-85 46.5h0m115 15.5h0m-71-108.5h0m132.5-23h0m-190.5 113h0m186-141h0m-23 55h0m-53 39.5h0m0.5-2.5h0m-31-25.5h0m121-62.5h0m-110.5-24.5h0m-73 47h0m0.5 2.5h0m45.5-46h0m2.5-1h0m-27-5h0m94.5 194.5h0m-68-129h0m61 122h0m76.5-126h0m-177.5 40h0m98-10.5h0m-50.5-76.5h0m-35 20h0m173-28.5h0m-99.5 26.5h0m36.5 28.5h0m1 57.5h0m0-2.5h0m-141-30.5h0m69-20.5h0m2 2h0m46-45h0m-116.5 40h0m108.5-23h0m6.5 46.5h0m42 17.5h0m-2-1.5h0m-91 52h0m-51.5-150h0m3 121.5h0m48.5 46.5h0m105-111.5h0m-61 142h0m57.5-16.5h0m-48-114.5h0m-125 2.5h0m155 77h0m-28-108.5h0m70.5 135h0m-195.5-108.5h0m-2-1.5h0m113.5-70.5h0m-96.5 61h0m88.5 134h0m38.5-165h0m-96.5-17h0m79.5 122h0m-92.5-87.5h0m88.5 132.5h0m-67.5-146.5h0m107.5-34h0m-108.5 68.5h0m-14 133h0m13.5-35.5h0m-53.5-9.5h0m59-96.5h0m137.5 38.5h0m-94.5-41.5h0m-27.5 39h0m3.5-58.5h0m19 75.5h0m-13.5-47h0m-1 110.5h0m-79.5-109h0m126.5 46.5h0m-56.5 79.5h0m-75.5-19h0m6.5-121.5h0m-7 153h0m4.5-21.5h0m-2-1.5h0m165.5-143.5h0m-72-31.5h0m95.5 80.5h0m-171 25h0m21.5 64h0m33.5-68h0m68-36.5h0m0-44.5h0m1.5 2h0m-109 5.5h0m-29-25h0m11 167.5h0m50-173.5h0m4.5 47h0m-2.5 135h0m2.5 0.5h0m-48 9h0m106-89.5h0m-57 88h0m-50.5-76h0m136-64.5h0m44 93h0m-151-130.5h0m-12.5 122.5h0m8-84.5h0m110.5-35.5h0m-88.5 54h0m-20 22h0m82.5-70h0m-10 105.5h0m-60-113.5h0m73 22h0m-82-45h0m80 13.5h0m-70 71h0m59.5-62h0m3 27h0m-16-14.5h0m-55-10.5h0m147.5 66.5h0m-176 42h0m32.5-123h0m138.5 135.5h0m-186.5 10h0m144-138h0m-86.5-17h0m18.5 47.5h0m53.5 53.5h0m-20.5-95h0m-14.5 161.5h0m55.5-153h0m-140.5 91h0m1-80h0m142.5 161.5h0m-125-180h0m70.5 178.5h0m57.5-93.5h0m-138.5 20h0m-12.5-34h0m86.5 66h0m-9.5 51h0m78.5-30h0m-131-46h0m46.5-71.5h0m-13 122.5h0m31.5 20h0m94.5 6.5h0m-128-145.5h0m61.5 35h0m-29-87h0m6 192h0m1.5-2.5h0m-2-162h0m85.5 183h0m-48.5-211.5h0m-77 87.5h0m-1 2.5h0m98 23.5h0m48-88.5h0m-66.5 144.5h0m2.5-0.5h0m-128 27.5h0m103.5-41.5h0m-12.5-110.5h0m80.5 29h0m-169 29h0m138.5-72h0m-14.5 131h0m-126.5-21.5h0m109.5 74h0m-79.5-192.5h0m105.5-3h0m-137 92h0m69 78h0m22.5-173.5h0m90 124h0m-119.5-111h0m108.5 174h0m-32.5 5.5h0m-59.5-109.5h0m35 90h0m-72.5 14.5h0m18-194.5h0m-70.5 10h0m116 170h0m-117.5-41.5h0m55 57.5h0m53-72h0m72-102.5h0m-142.5 84.5h0m76.5-43h0m82-67h0m-6.5 20h0m-51.5 38.5h0m-120.5-13h0m50 85h0m-7.5-52h0m-2.5-3.5h0m34.5 126h0m81.5-60.5h0m-69-76.5h0m62.5-25.5h0m17.5 160.5h0m-166.5-135h0m88.5-22h0m-70 28.5h0m48.5 94.5h0m79-150.5h0m-124-1.5h0m81 60.5h0m-59 8.5h0m61.5 66.5h0m25-91.5h0m27.5-31h0m-52 156.5h0m-84.5-177.5h0m52 126h0m-16 23.5h0m-72.5-77.5h0m19 65.5h0m150-127.5h0m-59.5 35.5h0m-53 110.5h0m-36.5-26.5h0m145.5-115h0m-118 116h0m-32.5 6.5h0m28-101h0m143.5 44.5h0m-123-42h0m-2.5 0.5h0m5 115.5h0m55-17h0m-20-73h0m-10.5 46.5h0m11 34.5h0m-58.5 48.5h0m96.5-156h0m-83.5 37.5h0m39 53.5h0m57 14h0m-76 24h0m-62-172.5h0m-1.5 48.5h0m108 8h0m-98 68h0m-2.5 0.5h0m-4 83h0m-12.5-18h0m122.5-181h0m-96 0.5h0m104.5 114h0m-57-125h0m117 153.5h0m-120-6h0m-30 10h0m-51.5-130.5h0m86.5-28.5h0m4.5 71.5h0m85 52.5h0m-30.5-33.5h0m-27.5-71h0m-76 5h0m117.5 72h0m-146-54h0m51 42h0m116.5-84.5h0m-65.5 72h0m-10 71.5h0m-32 0.5h0m-49.5-49h0m97.5 77h0m-0.5-172.5h0m-105 6.5h0m178 175h0m-59.5-159.5h0m2-1h0m-31 110.5h0m-20.5 80.5h0m-28-198h0m-39 36h0m56-30h0m91.5 83.5h0m-101 56h0m125.5-73.5h0m-90.5 99h0m-74-56h0m-8-54h0m18-41h0m60.5 48.5h0m95 114h0m-163.5-131.5h0m63.5-24h0m-50.5 28h0m13-44.5h0m28 91h0m38.5 10h0m-91-27h0m33.5-98h0m23 196.5h0m88-102.5h0m-2.5-0.5h0m-85.5 31h0m21.5 64.5h0m-30.5-72h0m-30.5-64.5h0m-49.5 99h0m11.5 27h0m80.5-4h0m-49-4.5h0m86.5-162.5h0m-58.5 147.5h0m4-64h0m-6.5-54h0m9 140.5h0m-75.5-48.5h0m153.5-14.5h0m-20-47.5h0m2.5 0h0m39.5 132h0m-95-190h0m-39 85h0m-30-18h0m-10.5 86.5h0m127.5 11h0m-40-154.5h0m-38.5 65h0m151.5-12.5h0m-138-10h0m74.5 60h0m14.5-23.5h0m0 2.5h0m41.5-36.5h0m-169.5-4.5h0m115 1.5h0m-54 131.5h0m26-111h0m-79.5-39.5h0m94.5-20h0m12.5 25h0m46.5 164h0m-85-51h0m108.5-76.5h0m-97 3h0m-1 2.5h0m-13-87h0m-70 92h0m-29-5.5h0m197 89.5h0m-66.5-22.5h0m-33-41h0m-72-30h0m127.5-56h0m-97 132.5h0m-1.5 2h0m-15-63h0m172 93h0m-153.5-83h0m-44.5 0.5h0m169-76h0m-142 119h0m23.5-32h0m-26.5-84.5h0m14.5 150h0m-49.5-102h0m193 65h0m-167-64.5h0m125.5-41h0m-64.5 23.5h0m63.5-12h0m-15.5-52h0m-119.5 25.5h0m23.5-19.5h0m91 8h0m53.5 195h0m-43.5-54.5h0m-11 55h0m67.5-142.5h0m-127 132h0m-28-77h0m100 75h0m37-0.5h0m-33-130h0m-132.5 17.5h0m71.5-12.5h0m-29 54.5h0m33.5-45.5h0m-2.5-82.5h0m104 53h0m-71.5 44h0m82.5-3h0m-132 44.5h0m-41-68h0m75.5 79.5h0m-16.5 29h0m112.5-48h0m-85-85h0m20.5 81.5h0m-23-63h0m-35-53.5h0m15 57h0m-74.5 23.5h0m9.5-66.5h0m-0.5-2.5h0m40-21.5h0m92 50h0m-15-1h0m-12.5-9.5h0m37.5 36h0m-62.5-6.5h0m-42.5 9h0m100-69h0m-32 31.5h0m-53.5 159h0m-47.5-61h0m1-2.5h0m-17 0h0m118 69.5h0m29.5-82h0m2 29h0m2.5 33.5h0m6.5-162.5h0m-143.5 108h0m-32-41h0m115 34h0m2.5 1.5h0m25-36h0m-104 99h0m174-81.5h0m-185.5-76h0m46 4h0m4.5 43h0m-46 34h0m158 29.5h0m-1-38h0m-165.5-75h0m-22-21.5h0m-0.5 61.5h0m104.5 130.5h0m2-115h0m-1 6h0m47.5-42h0m-88 67.5h0m-2.5-0.5h0m94.5-31h0m-34-35h0m67-46.5h0m-26 79.5h0m-130 104.5h0m-27 7h0m10.5-26.5h0m148-141h0m-43.5 152.5h0m-14.5-101h0m52.5-24.5h0m-11.5 137h0m-75-77.5h0m11-68.5h0m108-36.5h0m-155 112h0m108-111h0m-68 163h0m21-11h0m48.5 45.5h0m-114.5-138h0m103.5 24.5h0m-65.5-66.5h0m77-3h0m-104.5 61.5h0m93.5 124h0m-124-167.5h0m155.5 16.5h0m-82.5-10h0m-88.5 66h0m186.5 37.5h0m-166 32h0m140-69.5h0m43-68h0m-121 147.5h0m87-127.5h0m-77.5 115.5h0m-3-126h0m-35 58.5h0m135-102h0m-34 155h0m45.5 27.5h0m-182-99.5h0m112.5 110h0m80-81.5h0m-77 49.5h0m-18.5-87h0m7.5-65.5h0m26 52.5h0m-118 93.5h0m142.5-148.5h0m-126.5 38h0m17-54h0m40 175h0m-46.5-74h0m149.5-37.5h0m-62 107.5h0m-125.5-94.5h0m52-76h0m111 51.5h0m-84-33h0m-82-9.5h0m155 57.5h0m-132-62h0m110 60h0m-67 110h0m-80.5-4h0m73.5-116.5h0m49 83.5h0m-117.5-118.5h0m138.5 60.5h0m-8-16.5h0m-97-30.5h0m47.5-35.5h0m37 94h0m2 1.5h0m-46-76.5h0m0-2.5h0m-62.5 185h0m31.5-32h0m138-164.5h0m-154.5 120.5h0m49-87.5h0m-29 65h0m64 57.5h0m61-117.5h0m0.5 2.5h0m-49-26h0m0.5-2.5h0m44 134h0m-72.5-150.5h0m49.5 87h0m-25-67h0m-40.5 58h0m-12 109h0m53-22.5h0m-3.5-104h0m-96.5 99.5h0m173-140.5h0m-104 51.5h0m17 22.5h0m-2.5 0h0m-29.5-10h0m-27-10.5h0m74.5-19.5h0m55 9.5h0m-50 87h0m70-9h0m-105-94h0m35.5-11.5h0m-77.5 109h0m2.5-0.5h0m54-72.5h0m-40.5 129.5h0m-46.5-130h0m139.5-11h0m9-56.5h0m-0.5-2.5h0m-129 167h0m-12-135h0m167.5 23.5h0m-85.5 123h0m0 2.5h0m45-77.5h0m-34-30.5h0m22-63.5h0m-109.5 200.5h0m-37-31h0m106.5-164.5h0m-78.5 3.5h0m166.5 128h0m-81.5-3.5h0m88-88h0m-145 67h0m-8 48.5h0m7-34h0m89.5-3.5h0m-53.5-48.5h0m9-10h0m47 37.5h0m39.5 43h0m-1.5-68h0m2-2h0m-114-12h0m136 43.5h0m-123 41.5h0m-8-61h0m-38.5 103h0m89.5-100.5h0m-113.5 36h0m66-63h0m16-6h0m-88.5-29h0m179 5.5h0m-25.5 5.5h0m-33 49.5h0m0-2.5h0m-7.5-97h0m77.5 26h0m-141 1.5h0m-29-28h0m-22 184h0m193.5-14h0m-112.5-37.5h0m-80.5-115.5h0m116.5 77.5h0m-1.5-2h0m-5 76.5h0m21-117.5h0m-134 118.5h0m172-145.5h0m1.5 2h0m-95 54.5h0m30 19.5h0m-82 4.5h0m86-101h0m60 175h0m-17.5-176.5h0m-62 10h0m2.5 18.5h0" stroke-opacity="1"/><path d="M181 65.5h0m17 106h0m-30-145h0m-130.5-10h0m81-7h0m-88 103h0m179.5-55h0m-58.5 138h0m-109-132.5h0m89 91h0m-83 12.5h0m47 16h0m-36.5-83.5h0m111.5 115h0m-11-38h0m6.5-68.5h0m-71-60.5h0m-40.5-34h0m96.5 62.5h0m-61.5 0.5h0m64-5h0m-4-54.5h0m-52.5 159h0m-26 40h0m27-86h0m72.5-106h0m-63 100h0m-20-88h0m71.5 179.5h0m-110-148.5h0m139 132h0m-71-102.5h0m-60.5 14.5h0m-9.5 75h0m-25.5-68h0m73.5-106h0m-18 55.5h0m-2-1h0m-21.5-64h0m-21 107h0m101-24h0m16-46h0m1 54h0m-124.5 31.5h0m83-104.5h0m66.5 127.5h0m-13.5-68h0m-59.5 54h0m-69-44h0m-20.5 73.5h0m-5.5-157h0m114.5 11h0m-109 34.5h0m2.5 0.5h0m97.5 16.5h0m20-9h0m-53 13.5h0m127 136.5h0m-95-193.5h0m-26.5 70.5h0m39.5 113h0m0 2.5h0m-69-72h0m-2.5-0.5h0m87.5-99.5h0m-85.5 39h0m37.5 120.5h0m20-143h0m15 124.5h0m55.5-40.5h0m1 85h0m-35-63.5h0m-104.5-109h0m-25 58h0m119 107.5h0m-72-131.5h0m103-13h0m-71-27h0m25.5 66.5h0m89.5-77.5h0m-171 19h0m94.5 75h0m64 49h0m-96.5-71h0m32 27h0m-3 42.5h0m-63-114h0m15.5 137h0m80-133.5h0m-51.5 11.5h0m-84-29.5h0m182.5-13.5h0m-48 120h0m-127 49h0m102.5-163h0m22.5 71.5h0m36 37.5h0m8.5 63.5h0m-199.5-50h0m108-114.5h0m-83.5 57h0m129-79.5h0m15.5 129h0m-29 2.5h0m-107-50.5h0m42.5 12h0m-65-62.5h0m169.5 60h0m-24.5-74.5h0m-20.5 17h0m-12 120h0m-79.5 42h0m-42-64h0m174-59h0m-47-33.5h0m31 126h0m-161.5-146h0m73.5 48h0m128.5 83h0m5.5-151.5h0m-5 170h0m-198-56.5h0m40.5 73h0m23-123.5h0m-17.5-8h0m47 130.5h0m59.5-68h0m-93.5-4.5h0m-61-106h0m66 149h0m-56 18.5h0m82 10.5h0m-36-190.5h0m-15.5 187h0m122-26h0m-42.5-43h0m-41 27.5h0m-2.5-1h0m-53.5 58h0m-1.5-16h0m71-121h0m45 16.5h0m67.5-82h0m-200.5 76h0m110.5-79h0m-2 1h0m-9 33h0m-96 21.5h0m18.5 100.5h0m128-116.5h0m11.5 166.5h0m-101-112h0m17-69.5h0m-60 114.5h0m1.5-2h0m96.5-134h0m62.5 35.5h0m-68-33.5h0m-31.5 70h0m-90 11.5h0m196-0.5h0m-69-82.5h0m35.5 186h0m-25.5 16h0m-129.5-5h0m89.5-19.5h0m-95-161h0m119.5 169h0m85.5 1h0m-130.5-157h0m-61 63h0m0-2.5h0m169.5 13.5h0m-19-80.5h0m-115 69h0m-14 44.5h0m132-32h0m-25 50h0m-76.5-104.5h0m-64.5-4.5h0m31 70h0m2.5 0.5h0m112-90.5h0m28.5 141h0m-110-96h0m2 38h0m91.5-99.5h0m-131 182h0m-12.5-180.5h0m113 23h0m-67 61h0m-33.5-81.5h0m93 138h0m-26.5-48h0m2-1.5h0m-54.5 3h0m19 84h0m-25-168h0m149.5 91.5h0m-75.5-51h0m-106 115h0m97 19h0m93.5-203h0m-136 32.5h0m-38-27.5h0m101 52.5h0m87 72.5h0m-190-21h0m12.5-10h0m-30.5-19.5h0m-2.5 0.5h0m56-19h0m35.5 71h0m-6 60.5h0m39.5-133.5h0m14-49h0m47 21.5h0m-138.5-25.5h0m91 2.5h0m-1 72h0m54-64.5h0m-148 72h0m26 78.5h0m35.5-115.5h0m-33.5-10.5h0m80-22.5h0m-126.5 125.5h0m76-36h0m17.5-73.5h0m-8 96.5h0m-63.5 30h0m-10-27.5h0m77.5 34.5h0m1-13h0m43.5-143.5h0m-1 2.5h0m-147.5 29h0m192.5 61h0m4 104.5h0m-175.5-108h0m144-72.5h0m-106 175.5h0m-56.5-9h0m128-55.5h0m-60.5-120.5h0m82-15.5h0m-100.5 137.5h0m131-119.5h0m-84 179h0m-13-130.5h0m110.5 56.5h0m-119.5-105.5h0m-20.5-6.5h0m112.5 112.5h0m-115.5-94h0m-32 3.5h0m103.5 157h0m41-26h0m-115 9.5h0m-19-119.5h0m25 24.5h0m26.5 47.5h0m96-94h0m-46 86.5h0m-78.5-39.5h0m45.5 64h0m-69.5 33.5h0m7-155.5h0m-33 174.5h0m-1.5 2h0m-2-195h0m98.5 147.5h0m-88-32.5h0m5.5 10.5h0m11.5 58h0m101.5-177.5h0m-64.5 78.5h0m0.5-84.5h0m112.5 91h0m-12-46.5h0m-164.5-23.5h0m83.5-24h0m-47 85.5h0m76.5-76.5h0m-67 158h0m101 3.5h0m-152-69.5h0m1-15h0m184-16.5h0m-63-11h0m-80.5 91.5h0m87.5 43h0m-52.5-78h0m-83.5 83h0m83.5-90.5h0m-68-108.5h0m111 75.5h0m54-15.5h0m-14 15h0m16-62.5h0m-43.5 58h0m-96.5 101h0m83 4.5h0m2.5 0.5h0m-46-108.5h0m49 3.5h0m17.5 142h0m11-142h0m43.5 139h0m-70-66h0m-40.5 28h0m18 14h0m-107.5 7h0m128 15h0m57.5-152.5h0m-13.5 106.5h0m-78-19.5h0m-48.5 6.5h0m41 40h0m-84.5-160h0m84.5 88.5h0m35.5-74.5h0m31.5-15.5h0m57.5 54h0m-154 73.5h0m105 30h0m-133-90.5h0m-6.5-13.5h0m129.5 58.5h0m-94-28h0m-0.5-2.5h0m145.5-16h0m-154-21h0m-20.5 123.5h0m125.5-141h0m-55 26.5h0m92.5-64h0m-80 99h0m-71.5 51h0m104.5-168.5h0m-41 187h0m29.5-12h0m70-93h0m-117-78h0m-2-1.5h0m22.5 184.5h0m-33.5-46.5h0m-41 43.5h0m-8.5-33.5h0m14.5-87.5h0m79.5 49.5h0m8.5 10.5h0m-59.5-15h0m134.5-8.5h0m-20.5 95.5h0m3.5-3.5h0m-117-112h0m26 17.5h0m-67-69h0m98.5 131.5h0m64-113.5h0m-153.5 96.5h0m144-55h0m1.5 2h0m-51.5 84h0m34-17h0m3.5 31h0m-2.5-36.5h0m13.5-37h0m-178.5 93h0m91.5-110.5h0m96.5 52h0m-31-5h0m-157 39h0m40.5-176h0m-2.5 1h0m-5.5 165h0m2-1.5h0m24-24h0m154 57h0m-98.5-139.5h0m19.5 110.5h0m-67-128.5h0m72.5 74h0m-123-110h0m123 108h0m5.5 21.5h0m-123.5-30h0m-19 17.5h0m17.5-81h0m68 88.5h0m5-116h0m47 193.5h0m-141-207.5h0m82 169h0m-6-129.5h0m87 55h0m49-10h0m-167.5-38.5h0m96.5 68.5h0m-95.5 86.5h0m-15.5-36h0m162-130.5h0m-1.5 99h0m-102.5-77h0m-66 31.5h0m19.5-33.5h0m68.5-27h0m16.5 88.5h0m13.5-88.5h0m57.5 96h0m-91-20.5h0m-13.5 57.5h0m72-40h0m-25.5 67.5h0m-111.5-113h0m-11 45.5h0m136.5-36h0m-59 101h0m-52.5-152h0m-34 8.5h0m88 127h0m13 37h0m-7-154h0m22.5-8h0m-66 133.5h0m27-178h0m-37.5 32h0m105 2h0m1.5 31h0m-144-5.5h0m44.5-27h0m109.5 27h0m-73.5 72.5h0m2.5-108h0m103-24h0m4 74h0m-162-37.5h0m96 9.5h0m5-33h0m-101.5 122.5h0m48 20h0m55.5-99.5h0m-114 105h0m58-45h0m92 11h0m5-130h0m-51.5 175h0m-72.5-10.5h0m-37.5-144.5h0m179 28.5h0m-194.5 129h0m41-7.5h0m43.5-83.5h0m59.5-17.5h0m-143.5-62h0m122 66.5h0m-82 100.5h0m11-33.5h0m71.5-25h0m28 55.5h0m1-21h0m-12.5-12.5h0m-22-21.5h0m-96 7.5h0m46.5-51h0m-19.5 138.5h0m81-198h0m-41 129h0m98 66.5h0m2.5-1h0m-89.5-114.5h0m-82.5-37h0m73.5-49.5h0m47 35h0m-43.5-22h0m38.5 77h0m-18-96h0m41 97.5h0m-137 65.5h0m-1 0.5h0m41.5-10h0m61.5-124.5h0m-41.5 94.5h0m-84.5 10h0m169.5 50.5h0m-137.5-107h0m0.5-31h0m19.5 72h0m21.5-96h0m6 126h0m-79.5-12h0m195.5-8h0m-112 57h0m-49.5-82h0m86-100h0" stroke-opacity="0.6"/><path d="M108.5 82.5h0m0.5 2.5h0m-29 14.5h0m-58.5 89h0m122-27.5h0m4-118h0m-22 106h0m82.5-86.5h0m-57-10.5h0m34.5-16h0m13 35h0m-158-58h0m53.5 198.5h0m-14.5-170h0m101.5-15h0m-14.5 53.5h0m-145-17h0m191.5 118.5h0m-64.5-109.5h0m-14 7h0m12.5 43.5h0m3 47h0m-40-114.5h0m76 13h0m-98.5 111h0m24.5-29h0m67-142h0m-11.5 178h0m-125.5-84.5h0m-22.5 38h0m191.5-108h0m-1.5 9.5h0m-84 89.5h0m-99-105.5h0m125.5 127h0m-135.5-29.5h0m50-84h0m-4.5 70.5h0m100.5 72h0m-55.5-81.5h0m-41.5 16.5h0m65.5-49h0m-117 6.5h0m16.5 83.5h0m-24.5-123h0m71 1h0m36 181.5h0m73.5-68.5h0m-51-120.5h0m-59 67h0m77.5-68h0m-41 99h0m-33-77h0m82 30h0m-40.5-76.5h0m-13.5 204h0m-76-161.5h0m133-36.5h0m49.5 174.5h0m-78-21h0m75.5-153h0m-19.5 4h0m-15.5 173.5h0m-134-44h0m-8-74.5h0m28.5 35h0m1.5-1.5h0m-11 51.5h0m-20.5-113.5h0m171 149h0m-164.5-145h0m97 155h0m9-50h0m60.5-83h0m-180 60.5h0m13.5 85h0m79-143.5h0m-16-19h0m-51.5-8.5h0m58 137h0m29-28h0m-19-118h0m-94-25.5h0m46 153.5h0m61-141.5h0m-116 116h0m-2.5-0.5h0m-4 55h0m181.5-100h0m-36.5-65h0m-57 80.5h0m46.5 1h0m-140-10h0m190.5 106.5h0m2.5-106.5h0m-89.5-59.5h0m-89.5 107h0m71 6h0m9 19.5h0m-68-61.5h0m23 46.5h0m-16-22.5h0m149.5-18.5h0m-81.5 13.5h0m70 26h0m-58-105.5h0m58.5 142.5h0m-79-155.5h0m20.5-0.5h0m7 158h0m-81.5-82.5h0m127 57.5h0m-73-6.5h0m36.5-99h0m-112 53.5h0m-11.5 72.5h0m13-175.5h0m139.5 77h0m-49.5-66.5h0m2.5 64.5h0m-90 112h0m63.5-2.5h0m35-133.5h0m69-49h0m-34 79.5h0m-10.5-40h0m-146.5 8.5h0m177.5-37h0m-5 170h0m-162.5-23h0m123-155.5h0m64-5h0m-5 72.5h0m-95.5-22.5h0m15 110.5h0m-86.5-39.5h0m49-14.5h0m60.5-112.5h0m-113 204.5h0m121-183.5h0m-54.5-22h0m33 111h0m-75 41.5h0m-14.5-38h0m149 57.5h0m-148.5-31h0m63-2.5h0m50-3.5h0m-85 54h0m44.5-164.5h0m-101 165.5h0m93.5 5h0m-53.5-39h0m99.5-90.5h0m-43 124.5h0m-71.5-130h0m72.5 124h0m97.5-19.5h0m-198-93h0m151.5 28h0m-28.5 27.5h0m83.5-19.5h0m-122-88h0m2.5 104h0m43.5 85.5h0m49.5-197h0m15 40h0m10 26.5h0m-109 101.5h0m-85-105h0m120.5-60.5h0m-74 59.5h0m41 9.5h0m33.5 40.5h0m-35.5 74h0m101.5-133h0m-190.5 82h0m142.5-14h0m-53.5 8.5h0m108.5-82h0m-118.5 58h0m-71.5 90.5h0m88.5-45.5h0m14.5-126h0m32.5 20.5h0m-133 142h0m107-151.5h0m0 2.5h0m64.5-24.5h0m-188 60h0m91-85.5h0m103 20.5h0m-40 15h0m-138.5-4.5h0m23.5 137.5h0m108.5-62.5h0m-74 68.5h0m15.5-100h0m110.5 52.5h0m5-124h0m-146 173h0m115 11.5h0m32 24h0m-81.5-113.5h0m-108.5 48h0m57.5-101h0m-8.5 13.5h0m123 134.5h0m-72-96.5h0m47.5 79h0m-58-142.5h0m72.5 113.5h0m-83-16h0m-16-13h0m-13-42h0m114.5-27.5h0m-21.5 24.5h0m-23.5-59.5h0m17.5 39.5h0m-131.5 117.5h0m89-87h0m32.5-17.5h0m0.5-20.5h0m62.5-9h0m-120.5 21h0m47 120h0m-67.5-34.5h0m142-28h0m-110.5 60h0m-11 2.5h0m-70 29h0m162-58.5h0m-32-97.5h0m-75-10.5h0m9.5 136.5h0m-48.5-148h0m29.5 77.5h0m-28.5-30.5h0m-10-64h0m54.5 201h0m49-182.5h0m58.5 144h0m-56-52.5h0m-115 87h0m106-33h0m-106-44.5h0m141-42.5h0m-72 90h0m27-159h0m98 178.5h0m-174-29.5h0m67.5-88.5h0m-67 50.5h0m135-125h0m35 4.5h0m-113.5 180h0m-9 24h0m53.5-160.5h0m44-22h0m-144 18h0m112.5 88h0m-11-109h0m4.5 48h0m-125-11.5h0m64 24.5h0m-2 116.5h0m-4.5-137.5h0m-40.5 42h0m-30.5 74h0m53.5-31.5h0m58 48.5h0m9.5-145h0m-11.5 64.5h0m29-115h0m-135.5 200h0m180-58h0m-48.5-115h0m-64 48.5h0m22.5 108h0m30.5-44h0m34.5-135.5h0m-161 126h0m105.5-92h0m-81 10h0m1-2.5h0m50.5 78.5h0m56.5 40h0m51.5-68.5h0m-5 68.5h0m-96.5-89h0m94.5-38.5h0m-0.5 2.5h0m5 9.5h0m-128 104.5h0m37-64h0" stroke-opacity="0.35"/></g><g id="r3" stroke="currentColor" stroke-linecap="round" fill="none"><path d="M134.5 166.5h0m0-20.5h0m-16-0.5h0m90.5 24h0m-30.5 42h0m-22-124.5h0" stroke-opacity="0.6"/><path d="M2.5 19.5h0" stroke-opacity="0.4"/><path d="M52.5 61.5h0m-25-8.5h0m145-40h0" stroke-opacity="0.25"/></g><g id="g4" stroke="currentColor" stroke-linecap="round" fill="none"><path d="M15 169.5h0m42.5 31.5h0m102 13h0m-93-117.5h0m78.5-81h0m7 33h0m-131.5 87h0m108-100.5h0m-1.5 66.5h0m-109.5 91h0m34-14.5h0m145-137.5h0m-62.5 34h0m-65 43.5h0m78.5-68.5h0m-90.5 120.5h0m117.5-81h0m-78-16.5h0m-2.5 0h0m-79.5 44h0m47.5 82.5h0m118-20.5h0m-160 9h0m13.5 24h0m101.5-166.5h0m-55 21.5h0m36.5-26.5h0m43 111.5h0m50-55.5h0m-44-69.5h0m-6 41h0m-25.5 37.5h0m48 8.5h0m-144-11.5h0m111 22.5h0m-61.5-66h0m81 70.5h0m-160 19.5h0m41-141h0m85 81.5h0m-64.5 41h0m111-35h0m-50-74h0m-0.5-2.5h0m82.5 148.5h0m0-70h0m-99.5 113.5h0m61-172.5h0m-50 91.5h0m-77-82h0m97 43h0m-107 37.5h0m119.5-39h0m-93.5 58.5h0m81-16.5h0m32-109h0m-20.5 126.5h0m-73.5-140.5h0m97.5 203h0m-52.5-13.5h0m45.5-158.5h0m-75.5 115h0m-22 56.5h0m76-120.5h0m-141.5 53.5h0m31.5 40h0m112-120.5h0m20.5-61h0m2 173h0m9.5-103.5h0m-100.5 86.5h0m-31.5-89.5h0m21.5 4h0m-35 23.5h0m31 20h0m-39 100h0m128-32h0m36-116.5h0m-168.5 53h0m39 10.5h0m89.5-115.5h0m-86 152h0m-9.5-142h0m12.5 114h0m71-35.5h0m-51-24h0m106.5 45h0m-109 65.5h0m57.5-1.5h0m-12-89h0m-125.5-60.5h0m145.5 84h0m-52.5-74h0m5.5 47.5h0m-2 0.5h0m-49-55h0m47.5 105.5h0m101-106h0m-53 131.5h0m-132.5-63.5h0m143.5 65h0m-0.5-2.5h0m-133.5-36.5h0m71-7.5h0m75.5 27.5h0m38.5-125h0m-114 106h0m-32 30.5h0m144-119h0m-104.5 71h0m83.5-20.5h0m-91.5 81.5h0m80.5-116h0m-4.5 90h0m22-89h0m-42.5 95h0m-83 13.5h0m6 38.5h0m-54-177h0m50.5-27.5h0m84.5 65h0m-81.5 58.5h0m117-117.5h0m-192 194.5h0m125.5-35.5h0m-39.5-49.5h0m1 2h0m75 0h0m-137 88h0m33-155h0m-7.5 6.5h0m96.5 135.5h0m-2.5-83.5h0m1-2h0m32.5-37h0m-58 50h0m79-64h0m1-36h0m-194 80h0m26 93h0m83.5 14.5h0m20.5-43h0m-114.5 11.5h0m160.5-120h0m-96-41h0m12 86.5h0m-34.5-28.5h0m4.5 109.5h0m41 14.5h0m2.5-167h0m79.5 131h0m-75-127h0m-78 145.5h0m-17.5-98.5h0m-1.5 0.5h0m121 47.5h0m12-56.5h0m9 37h0m-120 76h0m57-83.5h0m-39.5-19.5h0m-30-46.5h0m176 18.5h0m7.5-28h0m-173.5 72h0m110.5 10h0m46.5-112.5h0m-34.5 56h0m-142.5 17h0m78 70h0m50.5-100h0m4.5-4.5h0m-26.5 88h0m-23.5 29.5h0m88 0h0m15.5-131h0m-33.5 51h0m-1-2h0m-172 74h0m168.5 52h0m-75-87.5h0m77.5-72.5h0m-146.5 19.5h0m9.5-51h0m58 196.5h0m72.5-99h0m-142-29.5h0m112 129.5h0m-117.5-28h0m85.5-96.5h0m25.5 45.5h0m-51-85.5h0m119.5 133.5h0m-87-62h0m-101.5-57.5h0m138.5 68.5h0m-142.5 62.5h0m190-59.5h0m-79.5-76.5h0m-115 60h0m143.5 72.5h0m-13.5 14h0m7.5-136h0m-55.5 92.5h0m51.5-102.5h0m26.5 124.5h0m-127 26.5h0m11.5 0.5h0m0.5-191.5h0m14.5 117h0m115 80h0m-88-100.5h0m66.5-39h0m-71-66h0m6.5 82h0m48.5 112.5h0m-2 2h0m69.5-19h0m-147-42h0m129-134.5h0m-175.5-2h0m148 59h0m-46 21.5h0m6-75.5h0m35.5 37.5h0m-25 37h0m-6.5-49h0m-46 171.5h0m56-81h0m44-84h0m-78 14h0m53 60.5h0m13 18h0m-85.5 45.5h0m69-175h0m-2-1h0m-23 170.5h0m47.5-93.5h0m12-13h0m-15-54h0m-9 49.5h0m-117.5 112.5h0m-2-1.5h0m16-61.5h0m21 82h0m-31-63.5h0m116.5 10h0m-56 32.5h0m34-22.5h0m-61.5-38.5h0m93.5-55.5h0m-76 94h0m-32-69.5h0m34.5-17.5h0m76.5 132.5h0m-15.5-62h0m-142.5 41.5h0m139 0.5h0m-82.5-11h0m65-101h0m-138 81.5h0m22 18h0m187.5 21h0m-66-83.5h0m46-86h0m-92 45h0m66.5 7.5h0m-104 39.5h0m-26 31.5h0m165.5 50h0m-186.5-52h0m85 55.5h0m-91.5-77h0m194.5-107.5h0m-197.5 121.5h0m132.5-46.5h0m-94 72h0m113-116h0m-18 90h0m-75-119.5h0m-36 67.5h0m29.5 83.5h0m-13.5 9.5h0m-26-1h0m20-101.5h0m46.5 129.5h0m-9-14.5h0m4.5-176.5h0m-49.5 181h0m-2.5-0.5h0m168.5-140h0m-60 147h0m-108-127.5h0m-22.5 0h0m62.5 27h0m-9 60h0m56-143.5h0m-35 149.5h0m75.5-15.5h0m-139.5-14h0m176.5 71h0m-100.5-13.5h0m-51.5-22h0m155-7h0m-34.5-108h0m9 37.5h0m-29 29.5h0m-56 32.5h0m17-136h0m-60 147h0m53-129h0m54.5-23h0m-64 179h0m22.5-44h0m40.5 53h0m-110.5-76.5h0m52.5-1h0m35.5-14.5h0m-7-37h0m-105.5 25.5h0m11.5 49h0m80.5-118h0m54 107h0m-36-109.5h0m18 157.5h0m-78-34h0m-53-20.5h0m123-38h0m-39-75h0m4.5 15.5h0m-43.5 23.5h0m29-44.5h0m29.5 71.5h0m-2.5 103h0m-2 30h0m92.5-109h0m-65.5-71h0m-38 181.5h0m60-42h0m19.5-109.5h0m-153 88h0m-10-14h0m149.5-37h0m-129.5-54.5h0m16 98h0m108-21h0m50-29h0m-27-79h0m-126 50.5h0m112.5 15.5h0m-15-44.5h0m55-8.5h0m-1.5 19h0m-27 74.5h0m-153 13.5h0m94-110.5h0m-16.5 39.5h0m-47 109.5h0m-13.5-27h0m17.5-80h0m63.5 28h0m-43.5-63h0m-8.5 84h0m14.5-29.5h0m124-58.5h0m-133 127h0m31 28.5h0m93.5-165.5h0m-119 78h0m-6 16h0m133 89h0m-175.5-51h0m56 58.5h0m23-14h0m82 2h0m-129.5-56.5h0m69-127.5h0m75-2.5h0m-31 22.5h0m-68.5 61h0m-56.5-63.5h0m50 100h0m40.5 38.5h0m-34-44h0m-84.5-18h0m9.5 27h0m158-54h0m-2 87h0m-153-38.5h0m-2 1h0m21.5 83.5h0m55.5-13h0m67-82h0m-117.5-22.5h0m112.5 19h0m-2-1h0m4.5-45.5h0m-68.5-22.5h0m75.5 49.5h0m-155.5 72.5h0m-2-1.5h0m66.5-13.5h0m78.5 4.5h0m-109-22h0m123.5-108h0m-160 87.5h0m157.5 88h0m-146-28.5h0m147-4h0m24-48h0m-193.5-72.5h0m95.5 68h0m33-108h0m-1.5 2h0m-23.5 129.5h0m49-26.5h0m-28.5-55h0m-101.5-36.5h0m62 22h0m64.5 156.5h0m-18.5-43h0m12 59h0m47-91.5h0m-119 53h0m91-155.5h0m-172.5 18h0m19 144h0m173.5-71.5h0m4.5-65.5h0m-96.5 164.5h0m37-33h0m-51-162.5h0m63.5 96h0m-73.5 63h0m100.5-164.5h0m-51 3h0m8.5 111.5h0m-60-114.5h0m0.5 199.5h0m40 0.5h0m12.5-183h0m-1.5-2h0m43 172.5h0m-5.5-182.5h0m-133.5 155h0m70-90h0m-36 16.5h0m136 67.5h0m-202.5-97h0m26 117h0m1.5-21h0m41-104h0m-4.5-15h0m69 1h0m-59.5 163.5h0m62-89h0m-119.5 71h0m83-58h0m-14 42.5h0m13.5-106.5h0m-28 12h0m-52.5 118h0m-10-73.5h0m131 38.5h0m-22.5-67h0m-81.5-28.5h0m64-19.5h0m-2 1.5h0m73.5 27.5h0m-25-42.5h0m-2 1h0m-114.5 138h0m-13.5-84h0m37 37h0m12.5 76.5h0m-27.5-51h0m-1.5 2h0m109.5-101.5h0m-33.5 157h0m-55-31h0m53-1h0m-0.5 2.5h0m54.5-56.5h0m-154.5-58.5h0m118.5-57h0m51 118h0m-62.5 5.5h0m-75.5 65.5h0m134-53h0m-165.5-16.5h0m79 67.5h0m-74.5-171h0m50 104h0m-8.5-119.5h0m123 47.5h0m-144.5-25.5h0m94 142.5h0m-28.5-101h0m57-37.5h0m-121 4.5h0m0-36.5h0m-2 1.5h0m15 97.5h0m38.5 52.5h0m98-97.5h0m-2 15h0m-35.5-53h0m-136 60h0m50.5 15h0m59-61h0m-77 56h0m68 26.5h0m-102.5-17.5h0m45.5-14h0m-53.5 24h0m94-53.5h0m13.5 19h0m-6.5 23.5h0m-92.5-63.5h0m82.5 172.5h0m93.5-57h0m-153-66.5h0m136 24.5h0m-124 2.5h0m7-27h0m60 80h0m-64 27h0m54-120.5h0m47.5 124.5h0m-50-1h0m-35-52.5h0m11.5-84h0m135 143.5h0m-116.5-13.5h0m112.5-15h0m-60-30h0m-142.5-136h0m19.5 187.5h0m94-105h0m68-2h0m6.5 62h0m-34.5-99h0m-139 83.5h0m97.5-55.5h0m78.5 111h0m1.5-2h0m-175.5-56h0m106-24h0m1-2h0m-9.5-36h0m73 119h0m-2-1h0m-63-19.5h0m29 50.5h0m6.5-32.5h0m-86 17h0m135.5-61.5h0m-170 63h0m141 3.5h0m-141-195.5h0m55.5 169.5h0m-37-56h0m86 78.5h0m-61-57h0m33.5-109.5h0m40.5 130.5h0m16-1.5h0m-113 2h0m-45.5-66h0m184 76h0m1.5-56h0m-88.5 93.5h0m-78-110.5h0m-6-71.5h0m7.5 176h0m22.5 7.5h0m-1.5-1.5h0m-12-79.5h0m60.5-88h0m-106.5 10.5h0m20.5 3h0m72.5 31h0m89-35.5h0m-76-49h0m-27 73.5h0m44.5 101h0m66-28.5h0m-65-8h0m-7.5-38h0m-57 99h0m-48.5-126.5h0m61-7.5h0m22.5-19h0m11-1.5h0m4 2.5h0m-1.5 1.5h0m32 42h0m-94.5 15.5h0m97-41.5h0m26.5 88h0m-61-36h0m19.5-10.5h0m-67-26.5h0m44.5 11.5h0m33.5 3h0m64.5 100.5h0m-68.5-51.5h0m2.5 1h0m-56-58.5h0m99.5 33h0m-39.5-76h0m-116.5 62.5h0m149 78.5h0m-171 20.5h0m35.5-77h0m168.5 71.5h0m-181.5-65.5h0m94.5-56h0m-36.5-35h0m-73 68.5h0m75-76.5h0m5 111.5h0m49.5-45h0m-16 16h0m80-22h0m-207-69h0m83.5 161h0m125.5-10.5h0m-144.5-167.5h0m93 26h0m45.5-32.5h0m-67 182h0m-24.5-77h0m-105-27h0m175.5-63h0m-89.5 18.5h0m-35 158.5h0m114.5-98h0m4.5-47.5h0m-20-9h0m-119.5 126h0m115.5-121h0m-25.5 97h0m73 42h0m-11-87.5h0m-88.5 13.5h0m-15 13.5h0m118.5-105.5h0m-195 121.5h0m98.5-76h0m-56.5-62.5h0m-21.5 52h0m-7 57.5h0m152 18.5h0m-123.5-123h0m-31.5 77.5h0m171.5 6.5h0m-105.5 64h0m75-21h0m0.5 2.5h0m-112 14.5h0m96.5-32.5h0m27-60h0m-93 78.5h0m15.5 10h0m12.5-129h0m-75.5 33.5h0m38 75.5h0m-59.5 28h0m104.5 23.5h0m-3.5-76.5h0m-87.5 23.5h0m107-52.5h0m8.5 122.5h0m58-73.5h0m-44 57h0m43.5-152.5h0m-14-23.5h0m-94.5 78h0m-63 122h0m78.5-36h0m-77.5-97h0" stroke-opacity="1"/><path d="M78.5 34h0m-62 133.5h0m39 34.5h0m59.5-68.5h0m42.5-64.5h0m-105.5 75h0m140.5-6.5h0m-46.5-109.5h0m-78.5 81.5h0m63-72.5h0m-51.5 76h0m-39.5 25h0m89.5-35h0m-83.5 32h0m-30.5 58.5h0m77.5-68h0m-16 26h0m6-52h0m-71.5-71.5h0m85.5-10h0m1.5 31.5h0m-64.5 94.5h0m74-97.5h0m-97.5-9.5h0m123 9h0m-3 163h0m-65-101h0m77.5 29h0m18.5 12.5h0m-86-61.5h0m89.5-63.5h0m-53 26h0m76.5-33h0m-86.5 128h0m41 21h0m37 3.5h0m-117.5-150.5h0m66.5 177.5h0m-114.5-150.5h0m111 83.5h0m2.5 0.5h0m-5.5-16h0m-80.5-93.5h0m117-6h0m52 82.5h0m-80.5 19h0m27.5-25h0m-72.5 76.5h0m-30 0h0m22-38h0m66.5-105h0m-42.5 102.5h0m-14-15h0m71.5 84h0m-105.5-60h0m62 75.5h0m-89-129.5h0m106-79h0m-63.5 192h0m132-180.5h0m-116 119h0m128.5-105h0m-193 77.5h0m114.5-4.5h0m20.5 88h0m1 2.5h0m-65.5-165h0m-27 87.5h0m-27.5 13h0m133.5-24.5h0m-20.5 69h0m29.5-118.5h0m-9.5 142.5h0m-111-62h0m15.5 47.5h0m-33.5-23.5h0m-18.5-49h0m149.5-66.5h0m-13.5-28h0m-52.5 159.5h0m-102-58h0m2.5 0h0m177.5-60.5h0m-10.5-29.5h0m-33.5-9.5h0m1 2h0m-122 29.5h0m0.5 113.5h0m52.5 13h0m90.5 34h0m-56-68h0m-82.5-105.5h0m110.5 27.5h0m-93.5 122h0m27.5-136.5h0m59.5 124.5h0m-107-11h0m66-144h0m-80.5 196h0m95.5-186.5h0m30 173h0m38.5-47.5h0m45 41.5h0m-95-35h0m-45.5-47h0m47.5 101.5h0m-1.5-132h0m67-20.5h0m-1 1h0m-54 119h0m54-115h0m-34.5 56.5h0m-129-35h0m26.5-41h0m131.5 27h0m-98-13h0m17.5 94h0m-4-119.5h0m70.5 4.5h0m-86.5 21h0m133.5 25h0m-100-35.5h0m-52 146.5h0m114-32h0m-138.5-21h0m178-62h0m-47.5-44h0m-126 133.5h0m32-165.5h0m-62.5 68h0m112-67h0m-100.5 136.5h0m117 47.5h0m-41.5 1.5h0m15.5-63.5h0m2.5 1h0m-7.5 34h0m-38-97h0m-11.5 90h0m132.5 21h0m-63.5 2.5h0m-57-175.5h0m-57.5 105h0m30 26h0m-22.5 22h0m110.5-24.5h0m-74 50.5h0m-9.5-158.5h0m66.5 92h0m-112 25h0m79.5 1h0m-78-55h0m192-50.5h0m-147 85h0m70.5-60.5h0m53.5 73.5h0m-135 4h0m135-47h0m-105 75h0m40.5-152.5h0m-22 97.5h0m87.5 48.5h0m-165-98.5h0m32.5 111h0m60.5-14h0m59.5-47h0m-82.5 79h0m43.5-184h0m0.5 91h0m-85.5 70.5h0m142.5 10.5h0m-144-137h0m80.5 87.5h0m45-64h0m-120 82.5h0m23.5-105h0m50.5 79h0m45 53h0m-138.5-11h0m30.5 35h0m7-49.5h0m-53.5 52h0m184.5-50h0m-102.5-115.5h0m40 54.5h0m-58.5 85h0m125.5-126h0m-3.5 83.5h0m2-47.5h0m-128.5 106.5h0m50.5-90h0m14.5 13.5h0m42.5-21.5h0m7 18h0m-148.5-36h0m96 52h0m-55-120.5h0m29 65.5h0m45-40.5h0m17.5 15.5h0m-50.5 58.5h0m43 53.5h0m-11.5 15h0m-103.5 25h0m153 5h0m-192-192.5h0m122 93.5h0m-52-62.5h0m124.5-17h0m-172.5-23h0m1 2.5h0m167.5 43h0m-90.5-31.5h0m76 28h0m-21 95.5h0m48-62h0m-111.5 16h0m4 88.5h0m73.5-70.5h0m-47 79.5h0m9.5-189h0m-38 161h0m-47-131h0m-6 129.5h0m107 52.5h0m-41.5-146.5h0m-60.5-39h0m77 74h0m-6 8h0m36.5 2h0m-123.5 69h0m-29-111.5h0m137 144h0m65-175h0m-24.5 75h0m-87.5 75h0m30.5-74h0m62-10h0m-137.5 50.5h0m32-38.5h0m-40-6.5h0m138-0.5h0m-148-91h0m110-15.5h0m-62.5 168h0m-46-156h0m54-11h0m-9.5-4h0m78.5 47.5h0m-45-38.5h0m47 130h0m-23-46h0m-109-80h0m141.5 136.5h0m-16.5-33.5h0m46-86.5h0m11 48h0m-60-20.5h0m-54.5 30h0m93.5-62.5h0m-43.5 17.5h0m-14-20.5h0m28.5 8h0m-128.5 3h0m16.5 108.5h0m168.5-94.5h0m-81 7h0m2.5 0h0m-86.5 86.5h0m137.5-44.5h0m-100-70h0m56 184.5h0m-59.5-59h0m3-63h0m119.5 90h0m-114 24h0m5 1.5h0m16-200.5h0m57.5 129h0m0.5-121h0m11 194h0m-159-185h0m120 78.5h0m-118.5 91.5h0m120-120.5h0m16-32h0m-66.5 83h0m47 46.5h0m-25-127.5h0m17 88h0m-2-0.5h0m-82.5-20.5h0m52.5-60.5h0m76 21h0m-74.5 49h0m-55.5 23.5h0m134.5-22h0m-1.5 1.5h0m-131.5-19h0m71 84.5h0m-17.5-13h0m-4 40.5h0m97.5-151h0m-13 104.5h0m-152-56h0m149 63h0m-82.5-166.5h0m80 68h0m-94.5 118h0m0.5-2.5h0m-14-88h0m135 78.5h0m-10.5-169h0m12 48h0m-146 106.5h0m-54.5-166h0m98.5 98h0m-83-73.5h0m105 41h0m-97.5 143.5h0m164.5-151h0m-47.5 128h0m-29.5-80h0m-6.5-50h0m105 89.5h0m-6.5-102h0m-149.5 71.5h0m69.5 31h0m2 2.5h0m0-2.5h0m28 11h0m-123-119h0m17 128.5h0m51-77.5h0m-49.5-20.5h0m85.5-22h0m25 61.5h0m24.5 15h0m-71.5-37h0m-12 63h0m-24.5-76h0m69.5 120h0m-53.5-42h0m35-145h0m1 32h0m74.5 90h0m-66.5-68.5h0m31.5 68h0m-133.5-58.5h0m84 21h0m65.5 47.5h0m-151.5-134h0m32 114h0m-16.5 50.5h0m-1.5 1.5h0m2.5 0.5h0m104-119.5h0m38-21.5h0m-97 175.5h0m50.5-204.5h0m12.5 190h0m-124.5-85.5h0m0.5 30h0m148 51h0m-74-120.5h0m4.5 89.5h0m-46-36.5h0m52 27h0m51 30.5h0m-62-55h0m-104-54.5h0m43.5 72h0m118.5 32h0m-126.5-43h0m-6.5-67h0m21.5 69.5h0m148-72h0m-171.5 111.5h0m5 30.5h0m153-108.5h0m-143.5 110.5h0m120-136.5h0m24-45.5h0m-1 29.5h0m-90 104h0m0-45.5h0m15.5 62h0m5.5-17.5h0m-2.5-135h0m-52 126h0m43.5-47.5h0m43 77h0m-89-50.5h0m-7 1.5h0m65 22.5h0m-53 15.5h0m130-144h0m-2.5 0h0m-178 62.5h0m197.5-42h0m-175.5 85h0m170-78h0m-103.5 121h0m-20-152.5h0m116 185.5h0m-93-36.5h0m85-118.5h0m-7.5 78.5h0m-119.5 40h0m-51-84h0m127 84h0m-73.5-125h0m42 145.5h0m-2-0.5h0m52.5-60h0m-152.5 1h0m139.5-53h0m-94 99h0m97.5-94.5h0m-7.5-42h0m-56 70.5h0m-37.5-55h0m155 148h0m-145 13.5h0m-29-128h0m52 6h0m-79.5 110.5h0m95.5-10h0m-93 16.5h0m14-128.5h0m135.5 113h0m-124-5h0m110.5-78.5h0m66-101h0m1.5 2h0m-207 23.5h0m85 32.5h0m39 28.5h0m38 38h0m-73.5 10h0m-25-27h0m48-82.5h0m-10-20.5h0m-64 194.5h0m12-52h0m-43-99h0m38-42h0m39.5 92.5h0m-79-72.5h0m172 134.5h0m-115-107.5h0m126.5 43.5h0m-155-31h0m101 0h0m-38 50h0m47.5 50.5h0m-64-9h0m17.5 21.5h0m25 10h0m-100.5-53h0m149-77.5h0m-22-49h0m-75.5 171.5h0m32.5-168h0m-33.5 161.5h0m60-113.5h0m-1.5 22h0m-13.5 100h0m35.5-175.5h0m-130.5 118h0m128 67.5h0m-112 10.5h0m40.5-21.5h0m-10-28h0m13 43h0m-34-18.5h0" stroke-opacity="0.6"/><path d="M69 87.5h0m-5.5-6h0m114.5 72.5h0m-7-55.5h0m-59.5-67.5h0m94.5 7h0m-141 132h0m-58.5-67h0m178-87.5h0m-65.5 155.5h0m35.5-5h0m-111.5 8h0m127-8h0m-101-141.5h0m80.5 116h0m-109-117h0m149 62h0m-50 26.5h0m44.5-92h0m-165 159h0m-2.5-34.5h0m102-56.5h0m79.5 12.5h0m-87.5-47h0m-2 69.5h0m-88-66h0m14 159h0m-28-164.5h0m158.5 73h0m15 87.5h0m-75.5-61h0m64 43.5h0m-60.5-73h0m47.5 4.5h0m-66.5 7h0m-33.5-90.5h0m144.5-12h0m-45.5 145.5h0m-96.5-62h0m6.5 40.5h0m-2-112h0m-21 118h0m7.5 30.5h0m-38.5-114.5h0m-2 1.5h0m140.5 29h0m-68.5 107.5h0m73.5-146.5h0m-73 62h0m117.5-116.5h0m-30 113h0m-34.5 4.5h0m-111-21.5h0m118.5-50.5h0m-24.5-39.5h0m-97 64h0m135-39h0m-47.5 40h0m-59 13.5h0m108-49.5h0m-12 13h0m-43.5-54.5h0m-79 38h0m-7 134h0m89.5-58h0m102 42.5h0m-50.5-118.5h0m36.5 156h0m-184.5-173.5h0m90.5 90h0m-73-39h0m184.5-18.5h0m-131 46h0m-42 59.5h0m-0.5 2.5h0m152-95.5h0m14-14h0m-59.5 124h0m-109.5-180.5h0m13 102h0m97-54.5h0m54.5-12.5h0m-191.5 70h0m183 19h0m-137.5-46h0m34 76.5h0m-48.5-14h0m14 30.5h0m124-79h0m-139.5 54.5h0m163.5-89.5h0m-23.5 101h0m-142-94h0m47.5 141.5h0m83.5-197.5h0m-77 74h0m90-1h0m1-26h0m-24.5-31h0m-23 65h0m-55.5 58h0m-68.5 51.5h0m97.5-76h0m96 2h0m-2 29.5h0m-191.5 30h0m69-49.5h0m38 3h0m-52.5-129.5h0m33.5 118h0m-51.5 40.5h0m54.5-72.5h0m-87.5 97.5h0m98 2.5h0m17-21.5h0m86-94h0m-17.5-34.5h0m-169.5-15.5h0m129-10.5h0m11.5 177h0m-40-33h0m-56.5-124.5h0m-42.5 153h0m117-48h0m-136 29h0m185.5-143h0m-12.5 155.5h0m-43.5-175h0m-91 202.5h0m20-196.5h0m43 124.5h0m93-29h0m-50.5 35.5h0m-92-89h0m93.5-23.5h0m-47.5 87h0m-65.5 74.5h0m-14.5-47.5h0m162-78h0m-66 66h0m39-7.5h0m-6.5 36h0m-152-62h0m160-65.5h0m-10 88h0m-10 46h0m-36.5-110h0m-67-2h0m43 125.5h0m37 29.5h0m-91.5-68.5h0m152.5 49h0m-116.5-18.5h0m53-10.5h0m-47 26.5h0m122-154.5h0m-96.5 144.5h0m-74.5-30h0m170-136h0m24.5 157h0m-58.5-65h0m60 18.5h0m-207 27.5h0m152.5 14h0m-1.5-2.5h0m-121.5-18h0m58-41h0m98.5 68.5h0m-131-140.5h0m-19.5 20.5h0m29.5 0.5h0m1.5-2.5h0m16.5 134.5h0m103-180h0m-129.5 204.5h0m143.5-26.5h0m-1.5-74h0m-183-29h0m79 17h0m-3.5 76h0m112-161h0m-92 172h0m82.5-72.5h0m-192.5-102.5h0m81 64h0m46-69.5h0m2.5 93.5h0m-95-85h0m114.5 116.5h0m-28-80h0m-23.5-30h0m62 40.5h0m-131.5-12.5h0m107.5 139h0m-47-38h0m-59.5-96.5h0m39 38h0m58.5-77.5h0m-9.5 36.5h0m-26.5-20.5h0m48.5 162h0m-88-3h0m34.5-35h0m-84.5-56h0m151.5 95.5h0m-65-140h0m-43 61h0m134.5 81.5h0m-185.5-91h0m181.5 89.5h0m-178-194h0m86 198.5h0m-43 5.5h0m99.5-133.5h0m-51.5-52.5h0m107 39.5h0m-7.5 33.5h0m-52.5 27h0m-53 11h0m75.5-65.5h0m-126.5-25h0m-1.5 2h0m149 75.5h0m-26-60h0m-61.5 83h0m-70-27h0m95 102h0m-98.5-71h0m9-18h0m40-9.5h0m-6.5-6.5h0m74.5 2h0m-15 83.5h0m-114-142h0m185.5-25.5h0m-5 17h0m-6.5 39.5h0m-18-51.5h0m-164-20h0m117 52.5h0m-71 108h0m93.5-96.5h0m-126 114.5h0m123.5-90h0m-96-51.5h0m99 55h0m-124-88h0m149.5 143h0m-41.5-93h0m-44 70h0m74 60.5h0m-31.5-55h0m-108 16h0m23-140h0m-38 160h0m146 26.5h0m10.5-95h0m0 104h0m8-112h0m-63-88.5h0m60.5 62h0m-144-67.5h0m74.5 54h0m-22.5 104h0m69.5-33h0m2.5 37.5h0m-33-123h0m8.5 59.5h0m20 15h0m-66 19h0m114.5 1h0m-140-70h0m127-64.5h0m-39 171h0m-6-56.5h0m-117-66.5h0m47.5-39h0m127 115h0m-96.5-25.5h0m9.5 108.5h0m110-202h0m-203-10.5h0m169.5 4h0m-74.5 56.5h0m-77 11.5h0" stroke-opacity="0.35"/></g><g id="r4" stroke="currentColor" stroke-linecap="round" fill="none"><path d="M69.5 3h0m-52.5 205.5h0m122-38.5h0" stroke-opacity="0.6"/><path d="M168 194h0m-51.5-12h0m45.5 16.5h0m10.5-28.5h0m-7.5-88h0m-104.5-30h0m91.5 125h0m-85-29h0" stroke-opacity="0.4"/><path d="M124.5 123.5h0" stroke-opacity="0.25"/></g><g id="R5" stroke="currentColor" stroke-linecap="round" fill="none"><path d="M66 12h0m12.5 4h0m-12-5h0m13 5.5h0m-6-3.5h0m15.5 9h0m7.5-4h0m-4.5 11h0m-2.5-17.5h0m1.5 2h0m-2.5 5.5h0m12 10.5h0m-10.5-3h0m16.5-15h0m-6 9.5h0m-11-3.5h0m7 4.5h0m39.5 39.5h0m-3 0.5h0m-4.5-1h0m2.5 0h0m12-1.5h0m-56 22h0m-44.5-22h0m4.5-3.5h0m-2 6h0m-1-4.5h0m159.5 109.5h0m3-1h0m-4.5 0.5h0m-1 0.5h0m-9.5-28.5h0m18.5-71h0m-3-3h0m-146 48.5h0m10 11h0m10-6h0m-21.5-18h0m1 15h0m1-7.5h0m12.5 5.5h0m-15.5-22h0m8.5 24h0m2.5 0.5h0m1.5-16h0m-2.5 22.5h0m-5.5 0.5h0m-12 11h0m4-19.5h0m0-0.5h0m16-10.5h0m2.5 1.5h0m-26.5 18.5h0m21.5-17h0m11 6.5h0m-14 1h0m13.5-6.5h0m64.5 25.5h0m2-20h0m5.5 6h0m5.5 2h0m-12.5-1.5h0m14.5-18.5h0m2.5 0.5h0m-28.5 9.5h0m12-5.5h0m-2 18h0m-2.5-12h0m9.5 7.5h0m3 2h0m-2.5 2h0m2.5 6.5h0m-1-11.5h0m0 7h0m-8 5h0m2 1.5h0m-6-16.5h0m-1.5-11h0m3.5 11h0m-101 84.5h0m-20.5-17h0m-2 2h0m10.5 10h0m-3.5 1.5h0m0.5 16h0m-3.5-9h0m-5.5-12.5h0m3 11.5h0m2-2h0m-8-7h0m10 0h0m141 11.5h0m-10-16.5h0m-10.5 10.5h0m5 17h0m2.5-0.5h0m23-14.5h0m-20.5 4h0m6.5 0h0m-0.5-3h0m4.5-13h0m-11 9h0m-5-2.5h0m16 22h0m-19.5-18.5h0" stroke-opacity="0.95"/><path d="M84.5 13h0m6 13h0m-1.5-6.5h0m-26 9.5h0m3.5-22h0m10 20.5h0m-14.5-24.5h0m27.5 29h0m6-9.5h0m-7-7.5h0m48 35h0m-6 10.5h0m-0.5-3h0m-0.5-2.5h0m5.5 5.5h0m6.5 3h0m-1-2.5h0m-5-8h0m-1.5-5.5h0m-0.5 2.5h0m-1 5.5h0m8-4h0m-51 29h0m1-1.5h0m-1 2h0m-8.5 2.5h0m10-6.5h0m114.5 91h0m-16-28.5h0m1.5-5h0m1 1.5h0m1 3h0m16-70.5h0m0 0h0m-148.5 42h0m-6 9h0m8 3.5h0m7-8h0m1-1h0m-25-14.5h0m28 11h0m-0.5-9.5h0m-20 26.5h0m9.5-7.5h0m8.5-7.5h0m-1 6h0m0.5-14h0m-25.5 17h0m15.5-19.5h0m85 14h0m0-3h0m3 4h0m-1 2.5h0m-1.5-1h0m10.5 7.5h0m-9.5-23h0m0 7.5h0m12.5 15h0m-3 8.5h0m-17.5-24h0m5 3h0m4 18.5h0m-113 72h0m-5.5-6.5h0m1.5 2h0m-1.5 8h0m6-6h0m-16-0.5h0m19 1h0m-14.5-17.5h0m6 17h0m136 1h0m-18-3h0m10.5-4h0m-4.5 9h0m4 0.5h0m-10.5-7.5h0" stroke-opacity="0.6"/><path d="M68 14h0m-4 3.5h0m9-6.5h0m7.5 8h0m-10-2h0m-6.5 14.5h0m14-17h0m9 2.5h0m-20.5-14h0m20.5 20.5h0m3.5 6h0m-7-7.5h0m25.5-9.5h0m36.5 39.5h0m-11 7.5h0m-1.5 0h0m-1.5-2.5h0m-2 13h0m-37.5 11h0m-5-1h0m-45-20.5h0m150 78.5h0m1.5-1.5h0m-1 1h0m19-69.5h0m-2-2.5h0m-150.5 64h0m8-14.5h0m5.5-2.5h0m-5 12h0m-5-22.5h0m13 8h0m-12.5 10h0m0.5-6.5h0m8.5-7.5h0m-10 13h0m2-2h0m-1.5-2h0m78 15.5h0m-5.5-20h0m14 14h0m-3.5-19.5h0m2-1.5h0m3 21.5h0m-122 76h0m-9-4.5h0m-1 2.5h0m7-8h0m0.5 4h0m12.5-4h0m-19.5-1.5h0m2 14.5h0m2-22.5h0m136.5 13h0m1 20.5h0m-8.5-15.5h0m0 2.5h0m6 5.5h0m-9.5 0h0m4-4h0m8-3.5h0m-15 0h0" stroke-opacity="0.35"/></g><g id="RB5" stroke="currentColor" stroke-linecap="round" fill="none"><path d="M151 63h0m-132.5 76h0m-16.5-70h0m75 48h0m-56-78h0m80 138.5h0m-9-166h0m-2-1h0m-24 110.5h0m144.5-37h0m-157.5 57.5h0m14 50.5h0m103-64h0m41 50.5h0" stroke-opacity="0.8"/><path d="M146 35.5h0m-61.5 68.5h0m-81-32.5h0m142-1h0m-141-15.5h0m82 25.5h0m85 125.5h0m1 2.5h0m-91-6.5h0m85.5-182h0m-58.5 39.5h0m59 68.5h0m21.5-36h0m-2 1.5h0m26.5 85h0m-132-59h0m42-19.5h0" stroke-opacity="0.5"/><path d="M144 136h0m0-102.5h0m45 153h0m-85.5-131.5h0m-86 100h0m11 11.5h0m187.5 9.5h0m-91-0.5h0m-26-66.5h0m0.5 2.5h0m34-74.5h0m57 179h0m-101-42h0m79-114.5h0m-154 12h0m-2-1.5h0m38 71.5h0m118.5-119.5h0m-123.5 94.5h0m62-54.5h0m-95 79.5h0m-1 2h0m158-4.5h0m-5.5-22.5h0" stroke-opacity="0.3"/></g><g id="RG5" stroke="currentColor" stroke-linecap="round" fill="none"><path d="M56 2.5h0m23.5 12h0m13 13.5h0m0.5-17.5h0m-2-4h0m2 11h0m0 15.5h0m45 17.5h0m-7 6h0m-2.5-5.5h0m20 5.5h0m-7.5-2.5h0m-11.5 16.5h0m15.5-15h0m-12 7.5h0m-44.5 15h0m-50.5-21.5h0m167.5 112.5h0m-0.5-2h0m-7.5-29h0m-7 1h0m-128-30.5h0m-5.5 13h0m5.5-11h0m11.5-1.5h0m-7-4.5h0m-8 3.5h0m12 6.5h0m-3.5 5h0m-2.5-3h0m-19 4h0m14-5h0m17.5 0.5h0m-6 2.5h0m84-1h0m-8.5 0.5h0m-6 8h0m0 0.5h0m-3.5-1h0m4.5-9.5h0m-105.5 85h0m-12 3h0m13-5h0m127.5 16h0m-13-26.5h0m6 19.5h0m1.5-10h0m-1 0.5h0m-77.5-158.5h0m-8.5 18.5h0m-25.5 39h0m-33.5-83h0m61 20.5h0m99.5 146h0m27.5-147.5h0m-152.5 154h0" stroke-opacity="0.95"/><path d="M77 20.5h0m-22-11.5h0m24.5 11h0m-5.5-16.5h0m19 9.5h0m44.5 42h0m-6.5 2h0m8 1h0m-49 23h0m-51-22h0m14.5 74h0m-2-3.5h0m-6-0.5h0m8.5-5.5h0m93-14h0m0.5 8h0m3.5-5h0m-3 0.5h0m3 18h0m-124.5 53.5h0m-9.5 10h0m15.5-1.5h0m0.5 2h0m2.5-3.5h0m129.5 3h0m-163-67.5h0m91.5 21.5h0" stroke-opacity="0.6"/><path d="M72.5 6.5h0m24 14.5h0m-7 59h0m-49-27h0m168.5 16.5h0m-137.5 45.5h0m-10.5 0h0m6.5-0.5h0m-21.5 2.5h0m17.5-16.5h0m4.5-0.5h0m-1 7h0m-7.5 29.5h0m79-15.5h0m16.5-15.5h0m-130 90h0m-0.5 1.5h0m-3-2.5h0m4-7.5h0m134.5 22h0m3 2h0m53-15h0" stroke-opacity="0.35"/></g><g id="RGr5" stroke="currentColor" stroke-linecap="round" fill="none"><path d="M74.5 8h0m4 9.5h0m16.5-2.5h0m12.5 11h0m21 23h0m1.5 13.5h0m15.5-7.5h0m63 118h0m-134.5-68h0m-19.5 15.5h0m7 7.5h0m-13.5-19.5h0m19 12h0m-1-21.5h0m3.5-4.5h0m-18 29h0m16-14h0m3.5 6h0m80-5.5h0m-9.5 14h0m8.5-19h0m-7.5 8h0m-1.5 5.5h0m-114.5 73h0m-2.5 3.5h0m-1-4h0m19 5h0m-20.5-2.5h0m-10-8.5h0m23.5 17h0m119.5-1.5h0m3.5 10h0m2-7h0m-14.5-3h0m50.5-112.5h0m-132 101h0m-58-157h0m208 162.5h0" stroke-opacity="0.95"/><path d="M75 22h0m13-2h0m-5-7.5h0m55.5 45h0m-5 0.5h0m17-4.5h0m-17 2.5h0m-1.5 4h0m9.5-3h0m-50.5 21.5h0m-49.5-22.5h0m-1.5-5.5h0m159.5 86h0m-7 3h0m-134.5-8h0m6.5-18.5h0m8.5 0h0m-13.5-7.5h0m31.5-5.5h0m-27 14h0m-16.5 17h0m17.5-16h0m-8 22h0m98-10h0m-15.5-9.5h0m0 7.5h0m4.5-8h0m13.5-10.5h0m-138 86h0m6-2.5h0m6.5 3h0m134 12.5h0m8-186h0m22.5 1h0m-106.5 77.5h0m113.5-62.5h0m-4.5 60.5h0" stroke-opacity="0.6"/><path d="M71 14h0m6.5 8h0m-1 5.5h0m1.5-15.5h0m15 18.5h0m-1-11h0m-3.5-13h0m43.5 63.5h0m10.5-25h0m-52.5 35h0m-45.5-18h0m160.5 103.5h0m2.5 5.5h0m-133.5-57h0m-9.5-0.5h0m0.5-24h0m8.5 25.5h0m-4-12.5h0m-17.5 14h0m27.5-1.5h0m66.5 7h0m-1.5-5.5h0m-2 4.5h0m-117.5 85.5h0m114-17h0m4 5h0m24 0.5h0m-122-95.5h0m26.5-64h0" stroke-opacity="0.35"/></g><g id="G5" stroke="currentColor" stroke-linecap="round" fill="none"><path d="M173.5 213.5h0m-26-58h0m-122-137.5h0m115.5 148.5h0" stroke-opacity="0.9"/><path d="M18 203.5h0m160.5-62h0" stroke-opacity="0.55"/><path d="M95.5 177.5h0m50.5-20h0m-119-142h0m-19 61.5h0m0 3h0" stroke-opacity="0.3"/></g><g id="h5" clip-path="url(#pc)"><circle cx="72" cy="14" r="16" fill="url(#haze)"/><circle cx="94" cy="24" r="14" fill="url(#haze)"/><circle cx="137" cy="57" r="13" fill="url(#haze)"/><circle cx="70" cy="111" r="17" fill="url(#haze)"/><circle cx="150" cy="120" r="14" fill="url(#haze)"/><circle cx="28" cy="193" r="14" fill="url(#haze)"/><circle cx="152" cy="197" r="16" fill="url(#haze)"/></g><g id="R6" stroke="currentColor" stroke-linecap="round" fill="none"><path d="M111 32h0m12.5 8h0m-23-3h0m37-1.5h0m5.5 4.5h0m-33.5-20h0m9.5 4.5h0m4 15h0m2.5 0.5h0m10.5-12h0m-3.5 4.5h0m-24 21h0m-3 16.5h0m-2 2h0m3.5-2h0m-2-12.5h0m0.5-2.5h0m4.5 12h0m15-21h0m-11.5 20h0m1.5-2h0m-5 9h0m15.5 67h0m-35-34h0m15 42.5h0m30.5-26h0m-12 42h0m-13.5-21h0m-18.5 0h0m18-5.5h0m25-29h0m7.5 34h0m-33.5-4.5h0m-2 2h0m13-13h0m-14.5 14h0m1-16.5h0m15.5 3h0m-14.5 10h0m20.5 7.5h0m-4-30.5h0m16 22.5h0m-23-12.5h0m5-2h0m22.5 21h0m-17.5-7h0m-6.5-9.5h0m8 20.5h0m-2.5 1h0m-15-18.5h0m21-0.5h0m0.5 10.5h0m-16 15.5h0m-3-15h0m13.5 13.5h0m-8.5-2.5h0m-107 39.5h0m39.5-13.5h0m-28 29h0m2.5 0h0m2-18h0m11.5-11h0m-10 0.5h0m2.5 0.5h0m6 6.5h0m-14-4h0m22 3.5h0m-18-11.5h0m15 28.5h0m2.5-0.5h0m-6-29.5h0m2 21h0m1-16h0m-26.5 14h0m19.5-6.5h0m135-15h0m-5.5-9h0m3.5 0.5h0m1 2h0m6 0h0m-3.5 1h0m2.5-1.5h0m4.5-2.5h0m0-58.5h0m4-3h0m0-3h0m2.5 0.5h0m-27.5-62h0m-3-2.5h0m1-2.5h0m-1.5-2h0m-4 6h0m-63.5 128h0m-2 4h0m4-1.5h0m1 0.5h0m1 4h0m9 3.5h0m10.5 12.5h0m2.5-0.5h0m-8-10h0m-2.5-0.5h0m3.5-3.5h0m0.5 5h0m-18-16.5h0m-0.5 2.5h0m-3-5h0" stroke-opacity="0.95"/><path d="M102.5 39h0m23.5-15.5h0m12 7h0m-17.5-4h0m13.5 3h0m-4-6.5h0m-7.5 10.5h0m21.5 4.5h0m-15.5-8h0m-33 4h0m1 2.5h0m13.5 31h0m-14.5-1.5h0m-2 2h0m33.5-14.5h0m-26 5.5h0m3.5 8.5h0m5-3h0m1.5 6h0m-8 1h0m6 54h0m30.5 14h0m-51.5-32h0m15.5 39.5h0m27-24.5h0m-14.5 33.5h0m2-33.5h0m7.5 4h0m15.5 0h0m-0.5 4.5h0m-30.5 5.5h0m2.5 12.5h0m21.5-21h0m-33.5 20.5h0m5.5-24.5h0m15.5-8.5h0m-6.5 14h0m-1.5 0h0m15 20h0m-15.5-32h0m12 21h0m-5 16.5h0m-5.5-7h0m9.5 0h0m-75.5 41h0m-10.5 10.5h0m5.5-3h0m-9-2h0m4.5-9.5h0m-4-2h0m5-6.5h0m-4.5-3.5h0m1 2.5h0m134-16h0m-7.5-7h0m2.5 7.5h0m5.5 9.5h0m12-68.5h0m-11 0h0m-82 59.5h0m-1-1.5h0m15.5 11h0m-3.5 10.5h0m6-8.5h0m-27-19h0m4 2h0" stroke-opacity="0.6"/><path d="M133.5 31h0m-9.5 0h0m12.5 5h0m-12.5 2h0m-8.5-15h0m6 34.5h0m-27.5 4.5h0m26 7.5h0m-13 57.5h0m22-11.5h0m-9.5 9h0m-3.5 5h0m-4.5-2.5h0m19 4h0m-22.5-2h0m28-6.5h0m-40 14h0m43.5-3.5h0m-29 14.5h0m47-3.5h0m0.5-2.5h0m-59-13.5h0m19 17h0m-5.5-18h0m-23 29h0m21-28h0m4.5 11h0m12.5 18h0m-88.5 24h0m-20 14.5h0m17.5-11h0m1.5 10h0m-8-25h0m139-9h0m3-3h0m-8 12.5h0m2-2h0m-3-9.5h0m15-54h0m-21.5-72h0m-1.5 1h0m-2.5 0h0m-62.5 129.5h0m-3.5 1.5h0m0 2.5h0m4-11.5h0m15.5 21h0m1-2h0m-4.5-4.5h0m-21.5-9h0m2-8h0m0.5 9h0m1.5-3h0m-9-0.5h0" stroke-opacity="0.35"/></g><g id="RB6" stroke="currentColor" stroke-linecap="round" fill="none"><path d="M73 116h0m-2 20.5h0m-51.5-14.5h0m184-23h0m-126.5 71.5h0m40-112.5h0m-24 121.5h0m1.5 2h0m113-105h0m-100-6.5h0m107 132.5h0m-85-31h0m0.5-2.5h0m-92-101.5h0m124.5 29.5h0m-158 116.5h0m154.5-12.5h0m-6.5-166.5h0m63 150.5h0" stroke-opacity="0.8"/><path d="M121.5 23h0m9-18.5h0m1-2.5h0m20 42h0m-127.5 136h0m-5.5 26h0m91-134h0m102.5 98.5h0m-15-33h0m-47-4h0m2.5 0.5h0m-19 50h0m25-5.5h0m-58.5 13.5h0m-22.5-20.5h0m-8.5 31h0m-47.5-3h0m-0.5 2.5h0m93-173h0m46.5 187.5h0m-132-109h0m63.5-2h0m64.5 2h0m-18.5-36h0m12.5 78h0m46 49h0m-23-16.5h0" stroke-opacity="0.5"/><path d="M215.5 159.5h0m-140.5 38h0m30-44h0m27-28h0m-44.5-4.5h0m-46-101.5h0m2.5 0h0m-22 159h0m183.5-103.5h0m-8 30h0m-62-13.5h0m77 109h0m-134-8h0m-72.5-183.5h0m66.5 189.5h0m135.5-15h0m-110.5 9h0m-36.5-186h0m15 167h0m26.5 16.5h0m-44.5-0.5h0m9 15h0m21-97.5h0m76 102h0m-15.5-3.5h0m-22-116h0m34 47h0m-151-87.5h0m149 24.5h0m1 2.5h0m-5 30.5h0m-85.5 70.5h0m-62 2.5h0m64 29h0m105-26.5h0" stroke-opacity="0.3"/></g><g id="RG6" stroke="currentColor" stroke-linecap="round" fill="none"><path d="M137.5 32.5h0m-11-7.5h0m2.5 14.5h0m-11.5 28.5h0m-5-4.5h0m19.5-3.5h0m-19 19h0m11.5 60h0m-21.5-11h0m4 12.5h0m6.5-5.5h0m15.5-20.5h0m-20.5 29h0m-0.5 6.5h0m4.5-19h0m-7.5-7.5h0m15 7.5h0m-2 22h0m5 1.5h0m0 4.5h0m-93 40h0m-4-7.5h0m18.5-21h0m2.5 17.5h0m140-83h0m-6.5-11.5h0m-26-61.5h0m-64.5 130.5h0m13 5h0m1 10h0m0-6h0m46-120h0m58.5-20.5h0m-163 22h0m18 144.5h0m111.5-18h0m-161-29.5h0" stroke-opacity="0.95"/><path d="M125.5 44h0m2 12.5h0m-23 5.5h0m0.5 5.5h0m3 2h0m7 0h0m-4-3.5h0m3.5 67h0m-14.5-8h0m14 6.5h0m-1-10.5h0m-13.5 45.5h0m14.5-35h0m4.5 7.5h0m17 7.5h0m-28-1.5h0m-3-31.5h0m0.5 10.5h0m2 16h0m15 23h0m2.5-8.5h0m-99 15h0m17 8.5h0m130.5-18.5h0m-8.5-5h0m4 7h0m-13 4.5h0m5.5 0h0m-1.5-134.5h0m-73.5 128.5h0m22 9.5h0m31.5-87.5h0m71.5 88h0m3-41.5h0" stroke-opacity="0.6"/><path d="M139 28h0m-17.5 17h0m23-13h0m-25 8.5h0m10-6.5h0m-30 25.5h0m-4-5.5h0m28.5 81h0m-27.5-13.5h0m18.5 38h0m5.5-32.5h0m-9 13h0m6.5 14h0m-76.5 22h0m-3.5-0.5h0m2.5 28h0m143-107.5h0m-5.5 4.5h0m5 0.5h0m-95 56h0m-3 1h0m-35.5-101h0m2.5 48h0" stroke-opacity="0.35"/></g><g id="RGr6" stroke="currentColor" stroke-linecap="round" fill="none"><path d="M122 27.5h0m8 15h0m-17.5-18h0m14.5 10.5h0m-7.5 35.5h0m-9.5-8.5h0m11-3.5h0m7.5 0.5h0m-26 1.5h0m8 9.5h0m-11.5 55h0m28.5 4h0m-3.5 0.5h0m6.5-3h0m10.5-2.5h0m-36 15h0m32.5-7.5h0m-19 8h0m-6-5.5h0m14.5-21.5h0m-12 13h0m-4 5.5h0m33 5.5h0m-17 0h0m-14.5 2h0m-15.5-4.5h0m22.5 10.5h0m3.5 12h0m0.5-4.5h0m-93.5 51.5h0m17-16h0m-21-9.5h0m1.5-7h0m7.5 10.5h0m-6.5 11h0m138-36.5h0m6.5 5h0m5.5-63h0m2.5 0h0m-29-66h0m-60.5 128h0m11.5 15h0m-20.5-16.5h0m69-104.5h0m-103.5-1h0m76.5 34.5h0m-73-32.5h0m-1.5 75h0" stroke-opacity="0.95"/><path d="M124 31h0m18 2.5h0m-14.5-6h0m-0.5 9h0m-22.5 38h0m-4.5-12.5h0m9.5 2h0m6 69.5h0m-3.5-1.5h0m11.5-9.5h0m-13 4.5h0m1.5 7h0m-6.5 16.5h0m-7.5-20.5h0m24.5 0.5h0m-2 24h0m-84.5 43.5h0m0.5-9h0m-14 1.5h0m147.5-30.5h0m-10.5 4h0m15-3.5h0m12-58h0m-9-6.5h0m-72 71h0m-2.5 2.5h0m3.5 2h0m-22-15.5h0" stroke-opacity="0.6"/><path d="M139 25.5h0m-43 33.5h0m21.5 2h0m-18.5-6h0m1 72.5h0m14-1.5h0m1.5 35.5h0m0.5-13.5h0m-71 29.5h0m107-146h0m-64.5 131h0m-4.5-6h0m128-124.5h0m-166.5 27.5h0m164 110h0m-193-21.5h0m3.5 25.5h0" stroke-opacity="0.35"/></g><g id="G6" stroke="currentColor" stroke-linecap="round" fill="none"><path d="M175 190.5h0m-168.5-33.5h0" stroke-opacity="0.9"/><path d="M202.5 112.5h0m0 55.5h0m-112 6.5h0m85.5-22h0" stroke-opacity="0.55"/><path d="M203.5 115h0m-38-93h0m21 53.5h0" stroke-opacity="0.3"/></g><g id="h6" clip-path="url(#pc)"><circle cx="130" cy="31" r="13" fill="url(#haze)"/><circle cx="110" cy="62" r="14" fill="url(#haze)"/><circle cx="106" cy="123" r="22" fill="url(#haze)"/><circle cx="38" cy="186" r="17" fill="url(#haze)"/><circle cx="165" cy="162" r="12" fill="url(#haze)"/></g><g id="R7" stroke="currentColor" stroke-linecap="round" fill="none"><path d="M95 13h0m-17 2.5h0m7.5-1.5h0m5.5-5h0m12.5 5.5h0m-9.5-4.5h0m-8-5.5h0m1.5 2h0m4 6h0m3.5-5.5h0m75.5 19.5h0m8.5 3h0m-2 0.5h0m6-6h0m-63 64h0m-11-19.5h0m-3-0.5h0m14.5 4.5h0m-32.5-3h0m26-3.5h0m-22 14h0m35 10.5h0m-13.5-13.5h0m-5 5.5h0m-3.5-3h0m-8.5 6.5h0m21.5-3.5h0m-1-12.5h0m-8.5 0.5h0m1 17h0m12.5-7.5h0m9-8h0m-6 12.5h0m-23.5-22.5h0m-0.5 2.5h0m-18 32.5h0m-8 26h0m2-1.5h0m-11 6.5h0m15.5-29h0m-12.5 16h0m1-5h0m-1-6.5h0m-2.5-0.5h0m7-10.5h0m9.5 21.5h0m-11.5-11h0m6.5 9h0m-0.5 4.5h0m-2.5-13h0m0.5 11.5h0m0-12h0m2 16.5h0m-17-5h0m16.5-12.5h0m8 27.5h0m97.5-0.5h0m12 15h0m-9 7h0m23-38h0m-5.5 18.5h0m-20 3.5h0m1.5 17.5h0m-25-30h0m25.5-8h0m-6 8.5h0m4 25h0m1-14h0m-2 6h0m14.5-2.5h0m-5-6.5h0m-60-10h0m-5.5 4h0m5 2.5h0m3.5-3h0m-14.5-4h0m9.5 3.5h0m2.5 4h0m-2-3h0m-11-2h0m6.5 5.5h0m1-0.5h0m3.5 3.5h0m-1.5 24h0m-1.5 2h0m1.5-3h0m4 4h0m2.5 1h0m-3 8.5h0m-0.5-8.5h0m2 3.5h0m-12.5-5.5h0m-65 25.5h0m6.5-18h0m-0.5 24h0m8 4h0m-22-16.5h0m3.5 8h0m-0.5 2.5h0m-12.5-9.5h0m22.5 8h0m-13.5-21h0m119 49.5h0m1 1.5h0m0.5-8.5h0m-1.5 1.5h0m3.5-5h0m-163-14.5h0m-3-2h0m-1 2h0m5.5-1h0m0-159h0m142 42h0m0 1h0m-0.5 2.5h0m3.5 2.5h0m-92 69.5h0m-1.5-2.5h0m-2.5 3.5h0m3.5 9h0m-9.5-8h0m-2-1.5h0" stroke-opacity="0.95"/><path d="M87.5 15h0m-6.5-12.5h0m4 13h0m-2.5 0h0m6.5-11h0m9 5.5h0m-1 6.5h0m1 0.5h0m-2-2h0m0.5-5.5h0m-11 9.5h0m91 2h0m-2.5-2h0m-1 2.5h0m7.5 2h0m-4.5-13.5h0m3 21.5h0m-2.5-2.5h0m-2.5 1h0m8-6.5h0m-14-5h0m-48 72h0m-5-15.5h0m-7 5.5h0m7.5-12.5h0m14 22h0m0 5.5h0m-24.5-17h0m14.5 2h0m-13.5-8.5h0m16 11h0m-14.5-11h0m-5.5 0h0m15-1.5h0m-24.5 5.5h0m-15 39.5h0m9-6.5h0m-2-1.5h0m-8.5 11.5h0m-3.5 4h0m9-4h0m-1-3.5h0m-0.5-2.5h0m4-0.5h0m-9.5-5h0m5-6h0m111.5 16.5h0m2.5 12h0m2.5-15.5h0m-2.5 32h0m-1.5-16h0m17-15h0m-21.5 22h0m-1 2.5h0m18.5-10.5h0m-32.5 8h0m31-2h0m-24.5-15.5h0m6 26.5h0m-1-15h0m-1 6.5h0m5-30h0m-4.5 35.5h0m-46.5-19.5h0m-5.5-0.5h0m-7.5 0.5h0m6 4.5h0m0-5h0m0.5-0.5h0m3.5 31h0m-3-3.5h0m-6 1.5h0m0 17.5h0m3-16h0m6 4.5h0m-4-7h0m-87 15h0m7 32.5h0m0.5-5h0m12-1h0m-19-7h0m9-1h0m3.5 7.5h0m-3-4h0m6.5-8h0m104.5 35h0m5.5-6h0m-159.5-20h0m-4-3h0m5-3.5h0m-6.5 2.5h0m5-161.5h0m139.5 53h0m1.5-13.5h0m4 11.5h0" stroke-opacity="0.6"/><path d="M95 12h0m2.5 1h0m-8.5 5.5h0m3-5.5h0m-7.5-2.5h0m16.5 7h0m-19.5-7.5h0m89 18.5h0m3.5-5h0m4 4h0m-1-2h0m4-12.5h0m-6.5 10h0m-7-2h0m2.5-2h0m-57.5 66h0m12.5 6h0m-20-9h0m5 5.5h0m2.5 1.5h0m7-20.5h0m1 29.5h0m-3-9h0m-5-23h0m-2.5 7h0m9 15h0m-15-2.5h0m21 6h0m-44.5 6h0m-0.5 7.5h0m-15 20.5h0m22.5-21h0m2.5 1.5h0m-9 1h0m0.5 6h0m-4.5-8h0m5 15.5h0m-22-3.5h0m129.5 29h0m17-20.5h0m-27.5 4.5h0m-1.5 12h0m9.5-8h0m-0.5 3h0m9 3h0m-63.5-15h0m-5.5-2h0m-2 0h0m-2.5 29.5h0m2 3.5h0m3.5 12.5h0m-10-12h0m8-2h0m5 7.5h0m-65 14h0m-21.5 7h0m17 2.5h0m9-9h0m-18.5-5h0m115 37h0m-5.5-3.5h0m4 3h0m-156-22.5h0m-1.5 2h0m-1.5-1.5h0m143.5-113.5h0m9.5 2h0m-2 2h0m-2-5h0m-88.5 81.5h0m-7.5 4h0" stroke-opacity="0.35"/></g><g id="RB7" stroke="currentColor" stroke-linecap="round" fill="none"><path d="M166.5 29.5h0m-32.5 33.5h0m-127 33h0m67.5 73h0m-13.5 25.5h0m14.5-100h0m111 18h0m-93 98h0m115.5-82.5h0m-19.5-46h0m-27.5-79.5h0m-60.5 144h0m74-132h0m-9 170.5h0m2.5-46h0m-72-71.5h0m-45-50h0m6 46h0m111.5 122h0m17-32.5h0m-183 17h0m51.5-49.5h0m64.5-86.5h0m-49 45h0m58.5-43h0m64 146.5h0m-91-176.5h0m33 129.5h0m-127-86h0m165 46.5h0m-116.5 51.5h0m61.5-70.5h0m-18 76h0m88.5-35.5h0m-97.5-111h0m14 60h0m-42-20h0m-54.5-30.5h0m76 192h0m73-115.5h0m-66.5-61h0m114.5 13h0m-200 38h0m47-43h0" stroke-opacity="0.8"/><path d="M10 26h0m49 173h0m-1.5-95.5h0m154.5 27.5h0m-193-126.5h0m137 113h0m34-62.5h0m-70.5-19h0m-102 118.5h0m147 50.5h0m16-9.5h0m-132.5-58.5h0m-2.5 1h0m140.5-18.5h0m-170-53.5h0m162-32h0m-79.5 161.5h0m-3.5-129.5h0m53.5 8.5h0m11-46.5h0m-68 71h0m-29 71.5h0m-16-3.5h0m102.5 29.5h0m-103 19h0m-35-39h0m174.5-111h0m-68.5 85.5h0m-75-2h0m-27.5 25h0m21.5-137h0m84.5 32.5h0m-41.5-23.5h0m-41.5-10.5h0m35 97h0m-44-34.5h0m81-33h0m96 16h0m10.5-45.5h0m-209 82.5h0m189.5-54.5h0m-76-32h0m-112.5 113h0m36.5-71h0m118.5 61h0m-145.5-14h0m180.5 80h0m-168-160.5h0m69.5 9h0m115 36.5h0m-126-54h0m120.5 134.5h0m-111-83h0m-21-78.5h0m99 18.5h0" stroke-opacity="0.5"/><path d="M59 196.5h0m117.5-6.5h0m-1 2.5h0m-51-41h0m85.5-19h0m-5.5-12.5h0m-183.5-116.5h0m-4 183.5h0m138-71.5h0m18.5 25h0m-80 73h0m20.5-127.5h0m69.5 32.5h0m-1 23h0m-85.5 65h0m1.5-1.5h0m-25.5-193h0m-63.5 10h0m206.5 124.5h0m-35.5-112h0m-121.5 69.5h0m113.5-36h0m-14-42.5h0m43.5 87h0m-137.5 59.5h0m38 12h0m2.5-1.5h0m80.5-144h0m-136.5 129.5h0m101-101h0m-20-29h0m-113 136.5h0m193-125.5h0m-131 158.5h0m14-101.5h0m83.5-53.5h0m-58.5 17.5h0m-28.5-10.5h0m68.5-52.5h0m53 45.5h0m-38.5 145h0m-63-78h0m1-2.5h0m5.5-42h0m76 76h0m-162.5-99h0m143.5-37h0m21.5 47.5h0m-39 37h0m-69.5-67.5h0m43 145h0m58-61.5h0m-95-111.5h0m108.5 197h0m-116-51h0m9 45h0m-85-51.5h0m78.5 63.5h0m69-112.5h0m-38.5-29h0m-38.5-62.5h0m100 19.5h0m-127 14.5h0" stroke-opacity="0.3"/></g><g id="RG7" stroke="currentColor" stroke-linecap="round" fill="none"><path d="M95.5 8h0m-4 6h0m8.5-3.5h0m76.5 17h0m-11-4.5h0m2.5 9h0m4.5-8.5h0m2.5 2.5h0m-2 4h0m-80 44h0m22 15.5h0m-18.5-18h0m13 7.5h0m3.5-4.5h0m-21-0.5h0m15 11h0m-0.5 2.5h0m-0.5-21.5h0m-27.5 34.5h0m-8 21h0m6-8h0m-7-6.5h0m117.5 16h0m-6 29h0m-5.5-29.5h0m10.5 6.5h0m7.5-15.5h0m-11.5 14.5h0m19.5 2.5h0m-0.5-1h0m-70 2h0m-3-3.5h0m-88 65h0m12-1h0m-1.5-22.5h0m1 18h0m-7 5h0m120.5 9h0m3 10.5h0m3-3.5h0m1-1h0m-2-2.5h0m-160-24h0m-7-149h0m8-5h0m-3.5 7h0m151.5 33.5h0m-100 79.5h0m-2.5 5h0m0.5-4h0m91-82.5h0m6 12h0m-96.5-76h0m-22.5 95h0m152.5 85h0m-122 10.5h0m-22-82h0m-11-91.5h0m4 29.5h0m59 81h0" stroke-opacity="0.95"/><path d="M92.5 11h0m-5 18h0m-0.5-16h0m84.5 22h0m-1.5-9h0m7.5-2.5h0m-51 75.5h0m-6-14.5h0m-11.5-8.5h0m-1 4h0m-20 34h0m-15 2h0m-1 11.5h0m9.5-4.5h0m-4.5-12.5h0m105 12.5h0m-2 8.5h0m26-17h0m-21 14.5h0m6.5 4h0m-11 4.5h0m-45-2h0m-14-12h0m0.5 39h0m7.5-8h0m-2 7.5h0m-2.5-4.5h0m0-2h0m-71 37h0m5.5-4h0m-16 9.5h0m-4-21h0m20.5 24.5h0m-4.5-10.5h0m6.5-17.5h0m-4 1h0m-6 17.5h0m-2.5-11.5h0m0 2h0m4-4h0m116.5 33.5h0m-2.5-6h0m-157-180.5h0m-6 5.5h0m2.5 1h0m60 171h0m-10-99.5h0m44-22.5h0m-87-30h0m71.5 148h0m-58-6.5h0m31-163.5h0m57.5 15.5h0m-92.5 11.5h0" stroke-opacity="0.6"/><path d="M89 17.5h0m-14.5 4.5h0m19-1h0m85.5 2h0m-65.5 52.5h0m14.5 11.5h0m-25.5-23h0m9.5 25h0m15-5h0m-13.5-14h0m-3.5 4.5h0m0.5-7.5h0m-37.5 38h0m108.5 25h0m-3.5 6h0m-48.5-5.5h0m-4.5 23h0m2.5 5.5h0m-64 22h0m-4 0h0m-9.5 15.5h0m-44-9h0m140.5-115.5h0m36.5-57h0m30.5 84h0m-155 61.5h0m8-134.5h0m98 2h0" stroke-opacity="0.35"/></g><g id="RGr7" stroke="currentColor" stroke-linecap="round" fill="none"><path d="M92.5 15h0m85 5.5h0m-12 10h0m6 2h0m-2.5-4h0m8-4h0m-5-4.5h0m2 4h0m-66.5 50h0m-10.5 5.5h0m13.5 2.5h0m11-6h0m-27.5-4h0m22 1.5h0m-15.5 2.5h0m8.5-6h0m-3.5 9h0m-1 4.5h0m16 4.5h0m-46 13h0m-3 23h0m-2.5 0h0m10-2h0m3-19h0m96.5 27h0m2-4h0m1 14h0m-58.5-22.5h0m-2 13.5h0m4 30h0m-0.5-5.5h0m-3.5 0.5h0m-67 35h0m0.5-18.5h0m-13 2.5h0m9 19h0m4-1h0m3.5 2.5h0m-6.5-13h0m119 29h0m-1-0.5h0m0-5h0m-3.5 2h0m-158-25h0m4-152.5h0m-5 0.5h0m143.5 42.5h0m1-1h0m-87.5 79.5h0m119-134h0m-118.5 158h0m-59-145h0m15.5 103.5h0m54 32.5h0m-50 25.5h0m105-14h0m-36 22h0m103 8.5h0m-103-82h0m63 4.5h0" stroke-opacity="0.95"/><path d="M90 30.5h0m-3.5-23.5h0m85 17.5h0m-77.5 52h0m23 15h0m-7.5-3h0m-16-10.5h0m23 24.5h0m-9-37h0m-34 44h0m-2-3.5h0m113.5 17h0m-4.5 1h0m11.5 12h0m-5.5-5h0m-5 3h0m2.5-9h0m-56 1h0m1 1.5h0m-1.5 32h0m3.5-6h0m-5.5 6.5h0m-68 22.5h0m-17 13h0m13-6.5h0m1 4.5h0m11.5-14h0m-13.5-3.5h0m117.5 38h0m-161.5-191.5h0m3 2h0m-4.5 7.5h0m52.5 117h0m-24.5-0.5h0m0.5-82.5h0m177 109h0m-129.5 24.5h0m40.5-50h0m-94.5-58h0" stroke-opacity="0.6"/><path d="M88 19.5h0m2-10.5h0m6.5 1.5h0m5 12h0m-2.5-10.5h0m74 14h0m-1.5-4h0m-71.5 42h0m9 14h0m24.5 12.5h0m-8.5-13.5h0m-16.5-10.5h0m-39 62h0m4.5-7h0m108 9h0m6 0h0m-5.5 23.5h0m-3.5-25.5h0m22-11.5h0m-9.5 18h0m5-3.5h0m-55.5-11h0m-17.5 40h0m2 2h0m-63.5 29h0m-12.5-8h0m6-1h0m-1 5h0m0.5-14h0m11.5 5h0m-19.5 5h0m126.5 23.5h0m-3.5 5.5h0m-162.5-24.5h0m141.5-117h0m-91.5 74.5h0m10.5 55h0m144-103.5h0m-60.5-53h0m-135 6h0m46.5 141.5h0m102.5-161h0" stroke-opacity="0.35"/></g><g id="G7" stroke="currentColor" stroke-linecap="round" fill="none"><path d="M61.5 53.5h0m132.5 36h0m17 75.5h0m-79-5.5h0m34.5-58h0m23.5-82h0m-88 106h0m85 64.5h0m-74-30h0m-37 21h0m-45.5-81h0m19.5 43h0m-17-97.5h0m31 33h0m-12.5-67.5h0m2 1h0m52 103.5h0" stroke-opacity="0.9"/><path d="M196 52h0m-157.5-32h0m121 124.5h0m-86.5-1.5h0m125 47h0m-113-185h0m-59.5 47.5h0m-18.5 106h0m71.5 21.5h0m94-81.5h0m-28.5-49.5h0m-72 8h0m44-28.5h0m-85 44h0m-27 18h0" stroke-opacity="0.55"/><path d="M173 142.5h0m-139-62.5h0m120-23.5h0m34.5 131.5h0m-169.5 19.5h0m113.5-151.5h0m2.5 0.5h0m-22.5 9.5h0m-63.5 79.5h0m-20.5-74h0m45 53h0m57-81h0m-94 48h0m74 6.5h0m-104.5-9h0" stroke-opacity="0.3"/></g><g id="h7" clip-path="url(#pc)"><circle cx="94" cy="14" r="13" fill="url(#haze)"/><circle cx="177" cy="25" r="12" fill="url(#haze)"/><circle cx="110" cy="78" r="16" fill="url(#haze)"/><circle cx="77" cy="114" r="14" fill="url(#haze)"/><circle cx="190" cy="127" r="16" fill="url(#haze)"/><circle cx="129" cy="125" r="9" fill="url(#haze)"/><circle cx="127" cy="158" r="9" fill="url(#haze)"/><circle cx="62" cy="184" r="17" fill="url(#haze)"/></g></defs>
<rect x="34.4" y="551.7" width="218.5" height="218.4" fill="#000"/>
<rect x="257.7" y="551.7" width="218.5" height="218.4" fill="#000"/>
<rect x="481.2" y="551.7" width="218.5" height="218.4" fill="#000"/>
<rect x="704.6" y="551.7" width="218.5" height="218.4" fill="#000"/>
<rect x="927.9" y="551.7" width="218.5" height="218.4" fill="#000"/>
<rect x="1150.6" y="551.7" width="218.5" height="218.4" fill="#000"/>
<rect x="1374.0" y="551.7" width="218.5" height="218.4" fill="#000"/>
<rect x="1597.4" y="551.7" width="218.5" height="218.4" fill="#000"/>
<rect x="34.4" y="777.3" width="218.5" height="218.4" fill="#000"/>
<rect x="257.7" y="777.3" width="218.5" height="218.4" fill="#000"/>
<rect x="481.2" y="777.3" width="218.5" height="218.4" fill="#000"/>
<rect x="704.6" y="777.3" width="218.5" height="218.4" fill="#000"/>
<rect x="927.9" y="777.3" width="218.5" height="218.4" fill="#000"/>
<rect x="1150.6" y="777.3" width="218.5" height="218.4" fill="#000"/>
<rect x="1374.0" y="777.3" width="218.5" height="218.4" fill="#000"/>
<rect x="1597.4" y="777.3" width="218.5" height="218.4" fill="#000"/>
<rect x="34.4" y="1002.9" width="218.5" height="218.4" fill="#000"/>
<rect x="257.7" y="1002.9" width="218.5" height="218.4" fill="#000"/>
<rect x="481.2" y="1002.9" width="218.5" height="218.4" fill="#000"/>
<rect x="704.6" y="1002.9" width="218.5" height="218.4" fill="#000"/>
<rect x="927.9" y="1002.9" width="218.5" height="218.4" fill="#000"/>
<rect x="1150.6" y="1002.9" width="218.5" height="218.4" fill="#000"/>
<rect x="1374.0" y="1002.9" width="218.5" height="218.4" fill="#000"/>
<rect x="1597.4" y="1002.9" width="218.5" height="218.4" fill="#000"/>
<use href="#g0" transform="translate(34.4 551.7)" color="#55e145" stroke-width="2.3"/>
<use href="#r0" transform="translate(34.4 777.3)" color="#e6391f" stroke-width="1.8"/>
<use href="#g0" transform="translate(34.4 1002.9)" color="#55e145" stroke-width="2.3"/>
<use href="#g1" transform="translate(257.7 551.7)" color="#55e145" stroke-width="2.3"/>
<use href="#r1" transform="translate(257.7 777.3)" color="#e6391f" stroke-width="1.8"/>
<use href="#g1" transform="translate(257.7 1002.9)" color="#55e145" stroke-width="2.3"/>
<use href="#g2" transform="translate(481.2 551.7)" color="#55e145" stroke-width="2.1"/>
<use href="#r2" transform="translate(481.2 777.3)" color="#e6391f" stroke-width="1.8"/>
<use href="#g2" transform="translate(481.2 1002.9)" color="#55e145" stroke-width="2.1"/>
<use href="#g3" transform="translate(704.6 551.7)" color="#55e145" stroke-width="2.05"/>
<use href="#r3" transform="translate(704.6 777.3)" color="#e6391f" stroke-width="1.8"/>
<use href="#g3" transform="translate(704.6 1002.9)" color="#55e145" stroke-width="2.05"/>
<use href="#g4" transform="translate(927.9 551.7)" color="#55e145" stroke-width="2.1"/>
<use href="#r4" transform="translate(927.9 777.3)" color="#e6391f" stroke-width="1.8"/>
<use href="#g4" transform="translate(927.9 1002.9)" color="#55e145" stroke-width="2.1"/>
<use href="#RG5" transform="translate(1150.6 551.7)" color="#55e145" opacity="0.95" stroke-width="2.15"/>
<use href="#RGr5" transform="translate(1150.6 551.7)" color="#55e145" opacity="0.95" stroke-width="2.15"/>
<use href="#G5" transform="translate(1150.6 551.7)" color="#55e145" stroke-width="2.2"/>
<use href="#h5" transform="translate(1150.6 777.3)"/>
<use href="#RB5" transform="translate(1150.6 777.3)" color="#e6391f" stroke-width="2.1"/>
<use href="#R5" transform="translate(1150.6 777.3)" color="#e6391f" stroke-width="2.3"/>
<use href="#RG5" transform="translate(1150.6 777.3)" color="#e6391f" stroke-width="2.3"/>
<use href="#RGr5" transform="translate(1150.6 777.3)" color="#e6391f" stroke-width="2.3"/>
<use href="#h5" transform="translate(1150.6 1002.9)" opacity="0.7"/>
<use href="#RB5" transform="translate(1150.6 1002.9)" color="#a82614" stroke-width="2.1"/>
<use href="#R5" transform="translate(1150.6 1002.9)" color="#a82614" stroke-width="2.3"/>
<use href="#RGr5" transform="translate(1150.6 1002.9)" color="#c8381c" stroke-width="2.3"/>
<use href="#RG5" transform="translate(1150.6 1002.9)" color="#f5b845" opacity="0.85" stroke-width="2.3"/>
<use href="#G5" transform="translate(1150.6 1002.9)" color="#55e145" stroke-width="2.2"/>
<use href="#RG6" transform="translate(1374.0 551.7)" color="#55e145" opacity="0.95" stroke-width="2.15"/>
<use href="#RGr6" transform="translate(1374.0 551.7)" color="#55e145" opacity="0.95" stroke-width="2.15"/>
<use href="#G6" transform="translate(1374.0 551.7)" color="#55e145" stroke-width="2.2"/>
<use href="#h6" transform="translate(1374.0 777.3)"/>
<use href="#RB6" transform="translate(1374.0 777.3)" color="#e6391f" stroke-width="2.1"/>
<use href="#R6" transform="translate(1374.0 777.3)" color="#e6391f" stroke-width="2.3"/>
<use href="#RG6" transform="translate(1374.0 777.3)" color="#e6391f" stroke-width="2.3"/>
<use href="#RGr6" transform="translate(1374.0 777.3)" color="#e6391f" stroke-width="2.3"/>
<use href="#h6" transform="translate(1374.0 1002.9)" opacity="0.7"/>
<use href="#RB6" transform="translate(1374.0 1002.9)" color="#a82614" stroke-width="2.1"/>
<use href="#R6" transform="translate(1374.0 1002.9)" color="#a82614" stroke-width="2.3"/>
<use href="#RGr6" transform="translate(1374.0 1002.9)" color="#c8381c" stroke-width="2.3"/>
<use href="#RG6" transform="translate(1374.0 1002.9)" color="#f5b845" opacity="0.85" stroke-width="2.3"/>
<use href="#G6" transform="translate(1374.0 1002.9)" color="#55e145" stroke-width="2.2"/>
<use href="#RG7" transform="translate(1597.4 551.7)" color="#55e145" opacity="0.95" stroke-width="2.15"/>
<use href="#RGr7" transform="translate(1597.4 551.7)" color="#55e145" opacity="0.95" stroke-width="2.15"/>
<use href="#G7" transform="translate(1597.4 551.7)" color="#55e145" stroke-width="2.2"/>
<use href="#h7" transform="translate(1597.4 777.3)"/>
<use href="#RB7" transform="translate(1597.4 777.3)" color="#e6391f" stroke-width="2.1"/>
<use href="#R7" transform="translate(1597.4 777.3)" color="#e6391f" stroke-width="2.3"/>
<use href="#RG7" transform="translate(1597.4 777.3)" color="#e6391f" stroke-width="2.3"/>
<use href="#RGr7" transform="translate(1597.4 777.3)" color="#e6391f" stroke-width="2.3"/>
<use href="#h7" transform="translate(1597.4 1002.9)" opacity="0.7"/>
<use href="#RB7" transform="translate(1597.4 1002.9)" color="#a82614" stroke-width="2.1"/>
<use href="#R7" transform="translate(1597.4 1002.9)" color="#a82614" stroke-width="2.3"/>
<use href="#RGr7" transform="translate(1597.4 1002.9)" color="#c8381c" stroke-width="2.3"/>
<use href="#RG7" transform="translate(1597.4 1002.9)" color="#f5b845" opacity="0.85" stroke-width="2.3"/>
<use href="#G7" transform="translate(1597.4 1002.9)" color="#55e145" stroke-width="2.2"/>
<path d="M181.9 1211H241.4" stroke="#fff" stroke-width="2.8"/>
<text x="246.4" y="1201.8" font-size="26" text-anchor="end" font-weight="normal" fill="#fff" >25 µm</text>
<path d="M405.2 1211H464.7" stroke="#fff" stroke-width="2.8"/>
<text x="469.7" y="1201.8" font-size="26" text-anchor="end" font-weight="normal" fill="#fff" >25 µm</text>
<path d="M628.7 1211H688.2" stroke="#fff" stroke-width="2.8"/>
<text x="693.2" y="1201.8" font-size="26" text-anchor="end" font-weight="normal" fill="#fff" >25 µm</text>
<path d="M852.1 1211H911.6" stroke="#fff" stroke-width="2.8"/>
<text x="916.6" y="1201.8" font-size="26" text-anchor="end" font-weight="normal" fill="#fff" >25 µm</text>
<path d="M1075.4 1211H1134.9" stroke="#fff" stroke-width="2.8"/>
<text x="1139.9" y="1201.8" font-size="26" text-anchor="end" font-weight="normal" fill="#fff" >25 µm</text>
<path d="M1298.1 1211H1357.6" stroke="#fff" stroke-width="2.8"/>
<text x="1362.6" y="1201.8" font-size="26" text-anchor="end" font-weight="normal" fill="#fff" >25 µm</text>
<path d="M1521.5 1211H1581.0" stroke="#fff" stroke-width="2.8"/>
<text x="1586.0" y="1201.8" font-size="26" text-anchor="end" font-weight="normal" fill="#fff" >25 µm</text>
<path d="M1744.9 1211H1804.4" stroke="#fff" stroke-width="2.8"/>
<text x="1809.4" y="1201.8" font-size="26" text-anchor="end" font-weight="normal" fill="#fff" >25 µm</text>
<text x="158.6" y="545.8" font-size="25.5" text-anchor="middle" font-weight="normal" fill="#000" >Control</text>
<text x="373.2" y="545.8" font-size="25.5" text-anchor="middle" font-weight="normal" fill="#000" >mAb</text>
<text x="599.1" y="545.8" font-size="25.5" text-anchor="middle" font-weight="normal" fill="#000" >PSA</text>
<text x="817.3" y="545.8" font-size="25.5" text-anchor="middle" font-weight="normal" fill="#000" >mAb + PSA</text>
<text x="1026.3" y="545.8" font-size="25.5" text-anchor="middle" font-weight="normal" fill="#000" >IPC</text>
<text x="1260.6" y="545.8" font-size="25.5" text-anchor="middle" font-weight="normal" fill="#000" >USA-300 + APC</text>
<text x="1482.1" y="545.8" font-size="25.5" text-anchor="middle" font-weight="normal" fill="#000" >CI-MRSA + APC</text>
<text x="1704.4" y="545.8" font-size="25.5" text-anchor="middle" font-weight="normal" fill="#000" >CI-MSSA + APC</text>
<text x="11" y="503" font-size="35" text-anchor="start" font-weight="bold" fill="#000" >c</text>
<text transform="translate(23.4 662) rotate(-90)" font-size="26" text-anchor="middle">Syto9</text>
<text transform="translate(23.4 885.3) rotate(-90)" font-size="26" text-anchor="middle">PI</text>
<text transform="translate(23.4 1110.2) rotate(-90)" font-size="26" text-anchor="middle">Merge</text>
</svg></body></html>
